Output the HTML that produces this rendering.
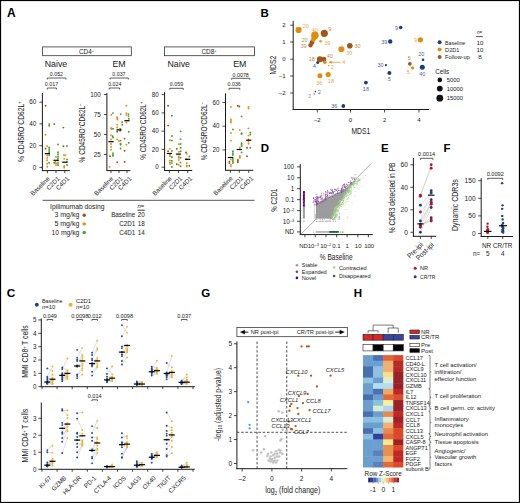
<!DOCTYPE html>
<html><head><meta charset="utf-8"><style>
html,body{margin:0;padding:0;background:#fff;}
svg{display:block;}
text{font-family:"Liberation Sans",sans-serif;}
</style></head><body>
<svg width="520" height="503" viewBox="0 0 520 503" font-family="Liberation Sans, sans-serif" fill="#1a1a1a">
<rect x="0" y="0" width="520" height="503" fill="#fff"/>
<text x="7.10" y="17.00" font-size="12" fill="#000" font-weight="bold">A</text>
<rect x="42.60" y="46.90" width="88.70" height="8.80" fill="none" stroke="#333" stroke-width="0.8"/>
<text x="86.50" y="54.00" font-size="6.4" text-anchor="middle">CD4<tspan dy="-2.4" font-size="4">+</tspan></text>
<rect x="164.40" y="46.90" width="90.20" height="8.80" fill="none" stroke="#333" stroke-width="0.8"/>
<text x="209.00" y="54.00" font-size="6.4" text-anchor="middle">CD8<tspan dy="-2.4" font-size="4">+</tspan></text>
<text x="56.00" y="66.80" font-size="8.8" text-anchor="middle">Naive</text>
<text x="119.00" y="66.80" font-size="8.8" text-anchor="middle">EM</text>
<text x="178.70" y="66.80" font-size="8.8" text-anchor="middle">Naive</text>
<text x="239.80" y="66.80" font-size="8.8" text-anchor="middle">EM</text>
<line x1="42.40" y1="93.00" x2="42.40" y2="170.60" stroke="#1a1a1a" stroke-width="1.0"/>
<line x1="39.40" y1="167.40" x2="42.40" y2="167.40" stroke="#1a1a1a" stroke-width="0.8"/>
<text x="36.20" y="169.67" font-size="6.3" text-anchor="end">0</text>
<line x1="39.40" y1="145.70" x2="42.40" y2="145.70" stroke="#1a1a1a" stroke-width="0.8"/>
<text x="36.20" y="147.97" font-size="6.3" text-anchor="end">20</text>
<line x1="39.40" y1="123.90" x2="42.40" y2="123.90" stroke="#1a1a1a" stroke-width="0.8"/>
<text x="36.20" y="126.17" font-size="6.3" text-anchor="end">40</text>
<line x1="39.40" y1="102.20" x2="42.40" y2="102.20" stroke="#1a1a1a" stroke-width="0.8"/>
<text x="36.20" y="104.47" font-size="6.3" text-anchor="end">60</text>
<line x1="41.90" y1="170.60" x2="69.80" y2="170.60" stroke="#1a1a1a" stroke-width="1.0"/>
<line x1="47.40" y1="170.60" x2="47.40" y2="173.10" stroke="#1a1a1a" stroke-width="0.8"/>
<line x1="56.00" y1="170.60" x2="56.00" y2="173.10" stroke="#1a1a1a" stroke-width="0.8"/>
<line x1="64.80" y1="170.60" x2="64.80" y2="173.10" stroke="#1a1a1a" stroke-width="0.8"/>
<text x="0" y="0" font-size="6.3" text-anchor="end" transform="translate(50.20 179.00) rotate(-45)">Baseline</text>
<text x="0" y="0" font-size="6.3" text-anchor="end" transform="translate(60.30 179.00) rotate(-45)">C2D1</text>
<text x="0" y="0" font-size="6.3" text-anchor="end" transform="translate(69.80 179.00) rotate(-45)">C4D1</text>
<path d="M47.30 79.50 V78.00 H66.00 V79.50" stroke="#1a1a1a" stroke-width="0.7" fill="none"/>
<text x="56.40" y="76.20" font-size="5.3" text-anchor="middle">0.052</text>
<path d="M47.30 89.50 V88.00 H56.40 V89.50" stroke="#1a1a1a" stroke-width="0.7" fill="none"/>
<text x="51.50" y="86.10" font-size="5.3" text-anchor="middle">0.017</text>
<text x="0" y="0" font-size="8.8" text-anchor="middle" textLength="60.40" lengthAdjust="spacingAndGlyphs" transform="translate(23.90 131.70) rotate(-90)">% CD45RO<tspan dy="-2.6" font-size="5">&#8211;</tspan><tspan dy="2.6">CD62L</tspan><tspan dy="-2.6" font-size="5">+</tspan></text>
<circle cx="45.60" cy="105.80" r="0.95" fill="#a5500f"/>
<circle cx="49.20" cy="124.10" r="0.95" fill="#3fa02e"/>
<circle cx="49.20" cy="125.70" r="0.95" fill="#3fa02e"/>
<circle cx="45.60" cy="134.80" r="0.95" fill="#ea8a10"/>
<circle cx="47.20" cy="146.30" r="0.95" fill="#ea8a10"/>
<circle cx="45.60" cy="148.70" r="0.95" fill="#a5500f"/>
<circle cx="49.20" cy="147.50" r="0.95" fill="#3fa02e"/>
<circle cx="49.20" cy="149.30" r="0.95" fill="#3fa02e"/>
<circle cx="49.20" cy="151.00" r="0.95" fill="#3fa02e"/>
<circle cx="49.20" cy="152.60" r="0.95" fill="#3fa02e"/>
<circle cx="49.20" cy="155.20" r="0.95" fill="#3fa02e"/>
<circle cx="49.20" cy="162.70" r="0.95" fill="#3fa02e"/>
<circle cx="47.20" cy="155.50" r="0.95" fill="#ea8a10"/>
<circle cx="47.20" cy="157.90" r="0.95" fill="#ea8a10"/>
<circle cx="47.20" cy="160.30" r="0.95" fill="#ea8a10"/>
<circle cx="47.20" cy="163.80" r="0.95" fill="#ea8a10"/>
<circle cx="47.20" cy="166.70" r="0.95" fill="#ea8a10"/>
<line x1="44.80" y1="153.60" x2="50.00" y2="153.60" stroke="#000" stroke-width="1.2"/>
<circle cx="54.30" cy="124.10" r="0.95" fill="#a5500f"/>
<circle cx="58.00" cy="144.40" r="0.95" fill="#3fa02e"/>
<circle cx="58.00" cy="152.30" r="0.95" fill="#3fa02e"/>
<circle cx="58.00" cy="154.30" r="0.95" fill="#3fa02e"/>
<circle cx="58.00" cy="156.50" r="0.95" fill="#3fa02e"/>
<circle cx="58.00" cy="158.50" r="0.95" fill="#3fa02e"/>
<circle cx="58.00" cy="160.50" r="0.95" fill="#3fa02e"/>
<circle cx="58.00" cy="163.00" r="0.95" fill="#3fa02e"/>
<circle cx="58.00" cy="165.00" r="0.95" fill="#3fa02e"/>
<circle cx="56.00" cy="157.00" r="0.95" fill="#ea8a10"/>
<circle cx="55.50" cy="161.90" r="0.95" fill="#ea8a10"/>
<circle cx="56.00" cy="163.50" r="0.95" fill="#ea8a10"/>
<circle cx="56.00" cy="165.20" r="0.95" fill="#ea8a10"/>
<circle cx="54.30" cy="162.70" r="0.95" fill="#a5500f"/>
<line x1="53.40" y1="160.30" x2="58.60" y2="160.30" stroke="#000" stroke-width="1.2"/>
<circle cx="63.40" cy="127.60" r="0.95" fill="#a5500f"/>
<circle cx="63.40" cy="146.30" r="0.95" fill="#a5500f"/>
<circle cx="67.00" cy="146.00" r="0.95" fill="#3fa02e"/>
<circle cx="63.80" cy="155.20" r="0.95" fill="#ea8a10"/>
<circle cx="65.30" cy="155.30" r="0.95" fill="#ea8a10"/>
<circle cx="67.00" cy="159.50" r="0.95" fill="#3fa02e"/>
<circle cx="67.00" cy="161.90" r="0.95" fill="#3fa02e"/>
<circle cx="64.20" cy="158.70" r="0.95" fill="#ea8a10"/>
<circle cx="64.20" cy="165.90" r="0.95" fill="#ea8a10"/>
<circle cx="64.20" cy="167.50" r="0.95" fill="#ea8a10"/>
<circle cx="67.00" cy="165.00" r="0.95" fill="#3fa02e"/>
<line x1="62.20" y1="162.20" x2="67.40" y2="162.20" stroke="#000" stroke-width="1.2"/>
<line x1="106.90" y1="93.00" x2="106.90" y2="170.60" stroke="#1a1a1a" stroke-width="1.0"/>
<line x1="103.90" y1="154.50" x2="106.90" y2="154.50" stroke="#1a1a1a" stroke-width="0.8"/>
<text x="100.80" y="156.77" font-size="6.3" text-anchor="end">25</text>
<line x1="103.90" y1="134.50" x2="106.90" y2="134.50" stroke="#1a1a1a" stroke-width="0.8"/>
<text x="100.80" y="136.77" font-size="6.3" text-anchor="end">50</text>
<line x1="103.90" y1="114.50" x2="106.90" y2="114.50" stroke="#1a1a1a" stroke-width="0.8"/>
<text x="100.80" y="116.77" font-size="6.3" text-anchor="end">75</text>
<line x1="103.90" y1="94.50" x2="106.90" y2="94.50" stroke="#1a1a1a" stroke-width="0.8"/>
<text x="100.80" y="96.77" font-size="6.3" text-anchor="end">100</text>
<line x1="106.40" y1="170.60" x2="130.40" y2="170.60" stroke="#1a1a1a" stroke-width="1.0"/>
<line x1="111.00" y1="170.60" x2="111.00" y2="173.10" stroke="#1a1a1a" stroke-width="0.8"/>
<line x1="119.00" y1="170.60" x2="119.00" y2="173.10" stroke="#1a1a1a" stroke-width="0.8"/>
<line x1="127.00" y1="170.60" x2="127.00" y2="173.10" stroke="#1a1a1a" stroke-width="0.8"/>
<text x="0" y="0" font-size="6.3" text-anchor="end" transform="translate(113.80 179.00) rotate(-45)">Baseline</text>
<text x="0" y="0" font-size="6.3" text-anchor="end" transform="translate(123.30 179.00) rotate(-45)">C2D1</text>
<text x="0" y="0" font-size="6.3" text-anchor="end" transform="translate(132.00 179.00) rotate(-45)">C4D1</text>
<path d="M110.10 79.50 V78.00 H128.30 V79.50" stroke="#1a1a1a" stroke-width="0.7" fill="none"/>
<text x="118.90" y="76.20" font-size="5.3" text-anchor="middle">0.037</text>
<path d="M109.20 89.50 V88.00 H119.60 V89.50" stroke="#1a1a1a" stroke-width="0.7" fill="none"/>
<text x="114.80" y="86.10" font-size="5.3" text-anchor="middle">0.024</text>
<text x="0" y="0" font-size="8.8" text-anchor="middle" textLength="58.70" lengthAdjust="spacingAndGlyphs" transform="translate(84.90 133.10) rotate(-90)">% CD45RO<tspan dy="-2.6" font-size="5">+</tspan><tspan dy="2.6">CD62L</tspan><tspan dy="-2.6" font-size="5">&#8211;</tspan></text>
<circle cx="113.00" cy="113.10" r="0.95" fill="#3fa02e"/>
<circle cx="111.30" cy="114.90" r="0.95" fill="#ea8a10"/>
<circle cx="111.00" cy="127.90" r="0.95" fill="#ea8a10"/>
<circle cx="111.30" cy="129.00" r="0.95" fill="#ea8a10"/>
<circle cx="113.00" cy="128.70" r="0.95" fill="#3fa02e"/>
<circle cx="111.00" cy="135.10" r="0.95" fill="#ea8a10"/>
<circle cx="112.60" cy="136.30" r="0.95" fill="#3fa02e"/>
<circle cx="113.00" cy="137.50" r="0.95" fill="#3fa02e"/>
<circle cx="111.30" cy="139.40" r="0.95" fill="#ea8a10"/>
<circle cx="111.00" cy="144.00" r="0.95" fill="#ea8a10"/>
<circle cx="111.00" cy="147.00" r="0.95" fill="#ea8a10"/>
<circle cx="111.00" cy="149.80" r="0.95" fill="#ea8a10"/>
<circle cx="113.00" cy="153.10" r="0.95" fill="#3fa02e"/>
<circle cx="113.00" cy="154.70" r="0.95" fill="#3fa02e"/>
<circle cx="113.00" cy="155.90" r="0.95" fill="#3fa02e"/>
<circle cx="109.90" cy="156.20" r="0.95" fill="#a5500f"/>
<circle cx="109.60" cy="166.90" r="0.95" fill="#ea8a10"/>
<line x1="108.40" y1="141.70" x2="113.60" y2="141.70" stroke="#000" stroke-width="1.2"/>
<circle cx="120.60" cy="114.10" r="0.95" fill="#3fa02e"/>
<circle cx="117.20" cy="117.20" r="0.95" fill="#ea8a10"/>
<circle cx="117.40" cy="118.30" r="0.95" fill="#ea8a10"/>
<circle cx="117.40" cy="119.50" r="0.95" fill="#ea8a10"/>
<circle cx="122.20" cy="122.20" r="0.95" fill="#3fa02e"/>
<circle cx="117.20" cy="124.80" r="0.95" fill="#ea8a10"/>
<circle cx="122.20" cy="124.80" r="0.95" fill="#3fa02e"/>
<circle cx="117.20" cy="127.50" r="0.95" fill="#ea8a10"/>
<circle cx="120.20" cy="128.70" r="0.95" fill="#3fa02e"/>
<circle cx="120.20" cy="130.70" r="0.95" fill="#3fa02e"/>
<circle cx="117.20" cy="131.70" r="0.95" fill="#a5500f"/>
<circle cx="117.20" cy="139.40" r="0.95" fill="#ea8a10"/>
<circle cx="120.60" cy="140.60" r="0.95" fill="#3fa02e"/>
<circle cx="119.00" cy="141.00" r="0.95" fill="#ea8a10"/>
<circle cx="120.60" cy="143.70" r="0.95" fill="#3fa02e"/>
<circle cx="120.60" cy="144.70" r="0.95" fill="#3fa02e"/>
<circle cx="120.60" cy="148.50" r="0.95" fill="#3fa02e"/>
<circle cx="117.20" cy="162.30" r="0.95" fill="#a5500f"/>
<line x1="116.40" y1="129.90" x2="121.60" y2="129.90" stroke="#000" stroke-width="1.2"/>
<circle cx="126.40" cy="105.70" r="0.95" fill="#ea8a10"/>
<circle cx="126.40" cy="113.10" r="0.95" fill="#ea8a10"/>
<circle cx="126.40" cy="114.90" r="0.95" fill="#ea8a10"/>
<circle cx="128.50" cy="114.10" r="0.95" fill="#3fa02e"/>
<circle cx="128.50" cy="116.10" r="0.95" fill="#3fa02e"/>
<circle cx="128.80" cy="118.70" r="0.95" fill="#3fa02e"/>
<circle cx="126.40" cy="122.50" r="0.95" fill="#ea8a10"/>
<circle cx="128.80" cy="131.70" r="0.95" fill="#3fa02e"/>
<circle cx="124.60" cy="138.60" r="0.95" fill="#a5500f"/>
<circle cx="126.40" cy="144.70" r="0.95" fill="#ea8a10"/>
<circle cx="128.80" cy="142.70" r="0.95" fill="#3fa02e"/>
<circle cx="124.60" cy="150.80" r="0.95" fill="#a5500f"/>
<circle cx="124.60" cy="161.90" r="0.95" fill="#a5500f"/>
<line x1="124.40" y1="120.70" x2="129.60" y2="120.70" stroke="#000" stroke-width="1.2"/>
<line x1="164.60" y1="92.00" x2="164.60" y2="170.50" stroke="#1a1a1a" stroke-width="1.0"/>
<line x1="161.60" y1="167.20" x2="164.60" y2="167.20" stroke="#1a1a1a" stroke-width="0.8"/>
<text x="158.80" y="169.47" font-size="6.3" text-anchor="end">0</text>
<line x1="161.60" y1="149.40" x2="164.60" y2="149.40" stroke="#1a1a1a" stroke-width="0.8"/>
<text x="158.80" y="151.67" font-size="6.3" text-anchor="end">20</text>
<line x1="161.60" y1="131.10" x2="164.60" y2="131.10" stroke="#1a1a1a" stroke-width="0.8"/>
<text x="158.80" y="133.37" font-size="6.3" text-anchor="end">40</text>
<line x1="161.60" y1="112.90" x2="164.60" y2="112.90" stroke="#1a1a1a" stroke-width="0.8"/>
<text x="158.80" y="115.17" font-size="6.3" text-anchor="end">60</text>
<line x1="161.60" y1="94.60" x2="164.60" y2="94.60" stroke="#1a1a1a" stroke-width="0.8"/>
<text x="158.80" y="96.87" font-size="6.3" text-anchor="end">80</text>
<line x1="164.10" y1="170.50" x2="192.20" y2="170.50" stroke="#1a1a1a" stroke-width="1.0"/>
<line x1="169.40" y1="170.50" x2="169.40" y2="173.00" stroke="#1a1a1a" stroke-width="0.8"/>
<line x1="178.50" y1="170.50" x2="178.50" y2="173.00" stroke="#1a1a1a" stroke-width="0.8"/>
<line x1="187.70" y1="170.50" x2="187.70" y2="173.00" stroke="#1a1a1a" stroke-width="0.8"/>
<text x="0" y="0" font-size="6.3" text-anchor="end" transform="translate(172.20 178.90) rotate(-45)">Baseline</text>
<text x="0" y="0" font-size="6.3" text-anchor="end" transform="translate(182.80 178.90) rotate(-45)">C2D1</text>
<text x="0" y="0" font-size="6.3" text-anchor="end" transform="translate(192.70 178.90) rotate(-45)">C4D1</text>
<path d="M169.80 89.80 V88.30 H183.30 V89.80" stroke="#1a1a1a" stroke-width="0.7" fill="none"/>
<text x="176.50" y="86.40" font-size="5.3" text-anchor="middle">0.059</text>
<text x="0" y="0" font-size="8.8" text-anchor="middle" textLength="57.90" lengthAdjust="spacingAndGlyphs" transform="translate(145.90 130.90) rotate(-90)">% CD45RO<tspan dy="-2.6" font-size="5">&#8211;</tspan><tspan dy="2.6">CD62L</tspan><tspan dy="-2.6" font-size="5">+</tspan></text>
<circle cx="168.10" cy="105.70" r="0.95" fill="#a5500f"/>
<circle cx="171.90" cy="115.70" r="0.95" fill="#3fa02e"/>
<circle cx="168.10" cy="125.60" r="0.95" fill="#a5500f"/>
<circle cx="171.90" cy="136.00" r="0.95" fill="#3fa02e"/>
<circle cx="169.90" cy="140.20" r="0.95" fill="#ea8a10"/>
<circle cx="171.90" cy="140.60" r="0.95" fill="#3fa02e"/>
<circle cx="169.90" cy="148.90" r="0.95" fill="#ea8a10"/>
<circle cx="168.10" cy="151.30" r="0.95" fill="#a5500f"/>
<circle cx="171.90" cy="150.90" r="0.95" fill="#3fa02e"/>
<circle cx="169.90" cy="154.70" r="0.95" fill="#ea8a10"/>
<circle cx="169.90" cy="156.20" r="0.95" fill="#ea8a10"/>
<circle cx="171.90" cy="157.00" r="0.95" fill="#3fa02e"/>
<circle cx="169.90" cy="160.80" r="0.95" fill="#ea8a10"/>
<circle cx="169.90" cy="162.40" r="0.95" fill="#ea8a10"/>
<circle cx="169.90" cy="163.90" r="0.95" fill="#ea8a10"/>
<circle cx="171.90" cy="160.80" r="0.95" fill="#3fa02e"/>
<circle cx="171.90" cy="163.10" r="0.95" fill="#3fa02e"/>
<circle cx="171.90" cy="166.90" r="0.95" fill="#3fa02e"/>
<line x1="166.80" y1="153.50" x2="172.00" y2="153.50" stroke="#000" stroke-width="1.2"/>
<circle cx="180.60" cy="131.40" r="0.95" fill="#3fa02e"/>
<circle cx="180.60" cy="139.10" r="0.95" fill="#3fa02e"/>
<circle cx="178.80" cy="144.30" r="0.95" fill="#ea8a10"/>
<circle cx="180.60" cy="144.00" r="0.95" fill="#3fa02e"/>
<circle cx="180.60" cy="147.80" r="0.95" fill="#3fa02e"/>
<circle cx="176.80" cy="148.90" r="0.95" fill="#a5500f"/>
<circle cx="180.60" cy="151.30" r="0.95" fill="#3fa02e"/>
<circle cx="178.80" cy="151.90" r="0.95" fill="#ea8a10"/>
<circle cx="178.80" cy="156.20" r="0.95" fill="#ea8a10"/>
<circle cx="178.80" cy="157.80" r="0.95" fill="#ea8a10"/>
<circle cx="178.80" cy="160.00" r="0.95" fill="#ea8a10"/>
<circle cx="180.60" cy="157.80" r="0.95" fill="#3fa02e"/>
<circle cx="180.60" cy="162.40" r="0.95" fill="#3fa02e"/>
<circle cx="180.60" cy="166.20" r="0.95" fill="#3fa02e"/>
<circle cx="176.80" cy="164.20" r="0.95" fill="#a5500f"/>
<circle cx="178.80" cy="164.80" r="0.95" fill="#ea8a10"/>
<line x1="175.90" y1="154.10" x2="181.10" y2="154.10" stroke="#000" stroke-width="1.2"/>
<circle cx="186.00" cy="152.40" r="0.95" fill="#a5500f"/>
<circle cx="186.80" cy="153.90" r="0.95" fill="#ea8a10"/>
<circle cx="189.30" cy="156.50" r="0.95" fill="#3fa02e"/>
<circle cx="186.00" cy="159.30" r="0.95" fill="#a5500f"/>
<circle cx="186.80" cy="163.10" r="0.95" fill="#ea8a10"/>
<circle cx="186.80" cy="165.40" r="0.95" fill="#ea8a10"/>
<circle cx="186.80" cy="166.60" r="0.95" fill="#ea8a10"/>
<circle cx="189.30" cy="165.70" r="0.95" fill="#3fa02e"/>
<line x1="185.10" y1="159.30" x2="190.30" y2="159.30" stroke="#000" stroke-width="1.2"/>
<line x1="225.50" y1="93.30" x2="225.50" y2="170.30" stroke="#1a1a1a" stroke-width="1.0"/>
<line x1="222.50" y1="149.90" x2="225.50" y2="149.90" stroke="#1a1a1a" stroke-width="0.8"/>
<text x="219.60" y="152.17" font-size="6.3" text-anchor="end">20</text>
<line x1="222.50" y1="126.20" x2="225.50" y2="126.20" stroke="#1a1a1a" stroke-width="0.8"/>
<text x="219.60" y="128.47" font-size="6.3" text-anchor="end">40</text>
<line x1="222.50" y1="102.50" x2="225.50" y2="102.50" stroke="#1a1a1a" stroke-width="0.8"/>
<text x="219.60" y="104.77" font-size="6.3" text-anchor="end">60</text>
<line x1="225.00" y1="170.30" x2="253.30" y2="170.30" stroke="#1a1a1a" stroke-width="1.0"/>
<line x1="230.40" y1="170.30" x2="230.40" y2="172.80" stroke="#1a1a1a" stroke-width="0.8"/>
<line x1="239.30" y1="170.30" x2="239.30" y2="172.80" stroke="#1a1a1a" stroke-width="0.8"/>
<line x1="248.70" y1="170.30" x2="248.70" y2="172.80" stroke="#1a1a1a" stroke-width="0.8"/>
<text x="0" y="0" font-size="6.3" text-anchor="end" transform="translate(233.20 178.70) rotate(-45)">Baseline</text>
<text x="0" y="0" font-size="6.3" text-anchor="end" transform="translate(243.60 178.70) rotate(-45)">C2D1</text>
<text x="0" y="0" font-size="6.3" text-anchor="end" transform="translate(253.70 178.70) rotate(-45)">C4D1</text>
<path d="M231.70 79.80 V78.30 H249.80 V79.80" stroke="#1a1a1a" stroke-width="0.7" fill="none"/>
<text x="240.70" y="76.50" font-size="5.3" text-anchor="middle">0.0078</text>
<path d="M229.00 89.80 V88.30 H239.80 V89.80" stroke="#1a1a1a" stroke-width="0.7" fill="none"/>
<text x="234.20" y="86.40" font-size="5.3" text-anchor="middle">0.036</text>
<text x="0" y="0" font-size="8.8" text-anchor="middle" textLength="58.10" lengthAdjust="spacingAndGlyphs" transform="translate(207.00 131.30) rotate(-90)">% CD45RO<tspan dy="-2.6" font-size="5">+</tspan><tspan dy="2.6">CD62L</tspan><tspan dy="-2.6" font-size="5">&#8211;</tspan></text>
<circle cx="230.90" cy="106.90" r="0.95" fill="#ea8a10"/>
<circle cx="230.90" cy="119.50" r="0.95" fill="#ea8a10"/>
<circle cx="230.90" cy="121.00" r="0.95" fill="#ea8a10"/>
<circle cx="230.90" cy="122.60" r="0.95" fill="#ea8a10"/>
<circle cx="232.90" cy="129.40" r="0.95" fill="#3fa02e"/>
<circle cx="230.90" cy="133.00" r="0.95" fill="#ea8a10"/>
<circle cx="230.90" cy="140.60" r="0.95" fill="#ea8a10"/>
<circle cx="232.90" cy="151.30" r="0.95" fill="#3fa02e"/>
<circle cx="232.90" cy="153.20" r="0.95" fill="#3fa02e"/>
<circle cx="232.90" cy="155.00" r="0.95" fill="#3fa02e"/>
<circle cx="229.40" cy="161.60" r="0.95" fill="#a5500f"/>
<circle cx="229.40" cy="163.10" r="0.95" fill="#a5500f"/>
<circle cx="230.90" cy="159.60" r="0.95" fill="#ea8a10"/>
<circle cx="230.90" cy="164.60" r="0.95" fill="#ea8a10"/>
<circle cx="230.90" cy="166.20" r="0.95" fill="#ea8a10"/>
<circle cx="232.90" cy="158.00" r="0.95" fill="#3fa02e"/>
<circle cx="232.90" cy="160.00" r="0.95" fill="#3fa02e"/>
<circle cx="232.90" cy="161.60" r="0.95" fill="#3fa02e"/>
<circle cx="232.90" cy="163.10" r="0.95" fill="#3fa02e"/>
<line x1="227.80" y1="157.50" x2="233.00" y2="157.50" stroke="#000" stroke-width="1.2"/>
<circle cx="237.80" cy="105.70" r="0.95" fill="#a5500f"/>
<circle cx="239.30" cy="106.50" r="0.95" fill="#a5500f"/>
<circle cx="241.60" cy="116.40" r="0.95" fill="#3fa02e"/>
<circle cx="239.80" cy="129.90" r="0.95" fill="#ea8a10"/>
<circle cx="241.60" cy="133.30" r="0.95" fill="#3fa02e"/>
<circle cx="241.60" cy="134.00" r="0.95" fill="#3fa02e"/>
<circle cx="241.60" cy="143.20" r="0.95" fill="#3fa02e"/>
<circle cx="241.60" cy="144.70" r="0.95" fill="#3fa02e"/>
<circle cx="241.60" cy="146.30" r="0.95" fill="#3fa02e"/>
<circle cx="239.80" cy="147.80" r="0.95" fill="#ea8a10"/>
<circle cx="241.60" cy="152.40" r="0.95" fill="#3fa02e"/>
<circle cx="239.80" cy="155.90" r="0.95" fill="#ea8a10"/>
<circle cx="239.80" cy="157.00" r="0.95" fill="#ea8a10"/>
<circle cx="239.80" cy="157.80" r="0.95" fill="#ea8a10"/>
<circle cx="237.80" cy="160.00" r="0.95" fill="#a5500f"/>
<circle cx="237.80" cy="161.10" r="0.95" fill="#a5500f"/>
<circle cx="237.80" cy="162.30" r="0.95" fill="#a5500f"/>
<line x1="236.70" y1="149.50" x2="241.90" y2="149.50" stroke="#000" stroke-width="1.2"/>
<circle cx="248.50" cy="106.90" r="0.95" fill="#ea8a10"/>
<circle cx="248.50" cy="108.50" r="0.95" fill="#ea8a10"/>
<circle cx="248.50" cy="128.40" r="0.95" fill="#ea8a10"/>
<circle cx="250.30" cy="132.50" r="0.95" fill="#3fa02e"/>
<circle cx="250.30" cy="134.50" r="0.95" fill="#3fa02e"/>
<circle cx="248.50" cy="135.60" r="0.95" fill="#ea8a10"/>
<circle cx="248.50" cy="139.40" r="0.95" fill="#ea8a10"/>
<circle cx="248.50" cy="141.70" r="0.95" fill="#ea8a10"/>
<circle cx="248.50" cy="143.70" r="0.95" fill="#ea8a10"/>
<circle cx="247.00" cy="147.80" r="0.95" fill="#a5500f"/>
<circle cx="250.30" cy="147.80" r="0.95" fill="#3fa02e"/>
<circle cx="247.00" cy="156.20" r="0.95" fill="#a5500f"/>
<line x1="246.10" y1="140.20" x2="251.30" y2="140.20" stroke="#000" stroke-width="1.2"/>
<line x1="42.50" y1="200.30" x2="254.60" y2="200.30" stroke="#555" stroke-width="1.0"/>
<text x="50.00" y="209.30" font-size="6.8" textLength="54.50" lengthAdjust="spacingAndGlyphs">Ipilimumab dosing</text>
<text x="79.30" y="217.30" font-size="6.5" text-anchor="end" textLength="24.80" lengthAdjust="spacingAndGlyphs">3 mg/kg</text>
<circle cx="84.20" cy="215.20" r="1.70" fill="#a5500f"/>
<text x="79.30" y="226.00" font-size="6.5" text-anchor="end" textLength="24.80" lengthAdjust="spacingAndGlyphs">5 mg/kg</text>
<circle cx="84.20" cy="223.90" r="1.70" fill="#ea8a10"/>
<text x="79.30" y="234.60" font-size="6.5" text-anchor="end" textLength="27.80" lengthAdjust="spacingAndGlyphs">10 mg/kg</text>
<circle cx="84.20" cy="232.50" r="1.70" fill="#3fa02e"/>
<text x="140.90" y="208.20" font-size="6.0" text-anchor="middle"><tspan font-style="italic">n</tspan>=</text>
<line x1="137.50" y1="210.20" x2="144.80" y2="210.20" stroke="#222" stroke-width="0.9"/>
<text x="135.30" y="217.30" font-size="6.3" text-anchor="end">Baseline</text>
<text x="144.80" y="217.30" font-size="6.3" text-anchor="end">20</text>
<text x="135.30" y="226.00" font-size="6.3" text-anchor="end">C2D1</text>
<text x="144.80" y="226.00" font-size="6.3" text-anchor="end">18</text>
<text x="135.30" y="234.60" font-size="6.3" text-anchor="end">C4D1</text>
<text x="144.80" y="234.60" font-size="6.3" text-anchor="end">14</text>
<text x="260.50" y="16.90" font-size="11.5" fill="#000" font-weight="bold">B</text>
<line x1="293.20" y1="20.80" x2="293.20" y2="110.00" stroke="#1a1a1a" stroke-width="1.0"/>
<line x1="292.70" y1="109.50" x2="429.00" y2="109.50" stroke="#1a1a1a" stroke-width="1.0"/>
<line x1="290.20" y1="25.20" x2="293.20" y2="25.20" stroke="#1a1a1a" stroke-width="0.8"/>
<text x="285.50" y="27.30" font-size="6.0" text-anchor="end">2</text>
<line x1="290.20" y1="42.00" x2="293.20" y2="42.00" stroke="#1a1a1a" stroke-width="0.8"/>
<text x="285.50" y="44.10" font-size="6.0" text-anchor="end">1</text>
<line x1="290.20" y1="59.20" x2="293.20" y2="59.20" stroke="#1a1a1a" stroke-width="0.8"/>
<text x="285.50" y="61.30" font-size="6.0" text-anchor="end">0</text>
<line x1="290.20" y1="76.00" x2="293.20" y2="76.00" stroke="#1a1a1a" stroke-width="0.8"/>
<text x="285.50" y="78.10" font-size="6.0" text-anchor="end">&#8211;1</text>
<line x1="290.20" y1="93.00" x2="293.20" y2="93.00" stroke="#1a1a1a" stroke-width="0.8"/>
<text x="285.50" y="95.10" font-size="6.0" text-anchor="end">&#8211;2</text>
<line x1="317.30" y1="109.50" x2="317.30" y2="112.50" stroke="#1a1a1a" stroke-width="0.8"/>
<text x="317.30" y="121.50" font-size="6.0" text-anchor="middle">&#8211;2</text>
<line x1="350.50" y1="109.50" x2="350.50" y2="112.50" stroke="#1a1a1a" stroke-width="0.8"/>
<text x="350.50" y="121.50" font-size="6.0" text-anchor="middle">0</text>
<line x1="384.60" y1="109.50" x2="384.60" y2="112.50" stroke="#1a1a1a" stroke-width="0.8"/>
<text x="384.60" y="121.50" font-size="6.0" text-anchor="middle">2</text>
<line x1="419.00" y1="109.50" x2="419.00" y2="112.50" stroke="#1a1a1a" stroke-width="0.8"/>
<text x="419.00" y="121.50" font-size="6.0" text-anchor="middle">4</text>
<text x="360.80" y="134.20" font-size="8.6" text-anchor="middle" textLength="18.70" lengthAdjust="spacingAndGlyphs">MDS1</text>
<text x="0" y="0" font-size="8.4" text-anchor="middle" textLength="18.80" lengthAdjust="spacingAndGlyphs" transform="translate(275.60 65.20) rotate(-90)">MDS2</text>
<circle cx="298.60" cy="29.90" r="3.10" fill="#e08c10"/>
<circle cx="314.90" cy="35.40" r="3.80" fill="#e08c10"/>
<circle cx="324.30" cy="33.30" r="3.60" fill="#a0561a"/>
<circle cx="312.00" cy="42.50" r="2.40" fill="#a0561a"/>
<circle cx="310.50" cy="45.30" r="2.20" fill="#a0561a"/>
<circle cx="313.40" cy="39.60" r="2.40" fill="#e08c10"/>
<circle cx="341.40" cy="49.30" r="3.00" fill="#e08c10"/>
<circle cx="349.80" cy="45.70" r="2.80" fill="#a0561a"/>
<circle cx="317.70" cy="62.50" r="1.50" fill="#1e3c7a"/>
<circle cx="319.90" cy="59.30" r="3.00" fill="#a0561a"/>
<circle cx="323.80" cy="59.30" r="2.50" fill="#a0561a"/>
<circle cx="324.80" cy="62.20" r="1.80" fill="#e08c10"/>
<circle cx="328.80" cy="65.70" r="0.70" fill="#e08c10"/>
<circle cx="319.90" cy="75.80" r="2.50" fill="#e08c10"/>
<circle cx="328.20" cy="74.50" r="2.60" fill="#e08c10"/>
<circle cx="315.50" cy="91.60" r="0.80" fill="#1e3c7a"/>
<circle cx="314.20" cy="94.00" r="0.70" fill="#a0561a"/>
<circle cx="365.90" cy="82.60" r="1.90" fill="#1e3c7a"/>
<circle cx="343.30" cy="106.00" r="1.90" fill="#1e3c7a"/>
<circle cx="400.70" cy="27.50" r="1.80" fill="#1e3c7a"/>
<circle cx="390.20" cy="41.50" r="2.20" fill="#1e3c7a"/>
<circle cx="420.40" cy="39.80" r="2.60" fill="#e08c10"/>
<circle cx="423.00" cy="59.80" r="1.30" fill="#1e3c7a"/>
<circle cx="422.30" cy="67.30" r="2.50" fill="#1e3c7a"/>
<circle cx="409.90" cy="63.80" r="1.90" fill="#a0561a"/>
<circle cx="412.60" cy="67.90" r="1.60" fill="#e08c10"/>
<circle cx="385.90" cy="65.20" r="1.10" fill="#1e3c7a"/>
<circle cx="389.40" cy="73.00" r="2.00" fill="#1e3c7a"/>
<text x="305.80" y="27.50" font-size="5.5" text-anchor="middle" fill="#e8a850">20</text>
<text x="314.70" y="31.60" font-size="5.5" text-anchor="middle" fill="#e8a850">40</text>
<text x="329.80" y="30.50" font-size="5.5" text-anchor="middle" fill="#b88a60">9</text>
<text x="304.60" y="42.20" font-size="5.5" text-anchor="middle" fill="#b88a60">20</text>
<text x="303.60" y="47.90" font-size="5.5" text-anchor="middle" fill="#b88a60">39</text>
<text x="327.30" y="44.90" font-size="5.5" text-anchor="middle" fill="#e8a850">39</text>
<text x="349.20" y="55.30" font-size="5.5" text-anchor="middle" fill="#e8a850">30</text>
<text x="357.50" y="47.70" font-size="5.5" text-anchor="middle" fill="#b88a60">30</text>
<text x="311.80" y="60.60" font-size="5.5" text-anchor="middle" fill="#b88a60">18</text>
<text x="329.80" y="58.00" font-size="5.5" text-anchor="middle" fill="#b88a60">40</text>
<text x="314.40" y="67.70" font-size="5.5" text-anchor="middle" fill="#4a64a0">4</text>
<text x="343.80" y="64.40" font-size="5.5" text-anchor="middle" fill="#e8a850">4</text>
<text x="332.30" y="68.60" font-size="5.5" text-anchor="middle" fill="#e8a850">2</text>
<text x="319.30" y="84.80" font-size="5.5" text-anchor="middle" fill="#e8a850">36</text>
<text x="330.90" y="83.20" font-size="5.5" text-anchor="middle" fill="#e8a850">18</text>
<text x="319.20" y="93.80" font-size="5.5" text-anchor="middle" fill="#4a64a0">2</text>
<text x="309.80" y="98.20" font-size="5.5" text-anchor="middle" fill="#b88a60">2</text>
<text x="365.90" y="91.00" font-size="5.5" text-anchor="middle" fill="#4a64a0">18</text>
<text x="334.20" y="107.50" font-size="5.5" text-anchor="middle" fill="#4a64a0">36</text>
<text x="396.60" y="29.50" font-size="5.5" text-anchor="middle" fill="#4a64a0">9</text>
<text x="384.20" y="43.50" font-size="5.5" text-anchor="middle" fill="#4a64a0">39</text>
<text x="415.60" y="41.80" font-size="5.5" text-anchor="middle" fill="#e8a850">9</text>
<text x="421.20" y="56.00" font-size="5.5" text-anchor="middle" fill="#4a64a0">20</text>
<text x="422.30" y="76.00" font-size="5.5" text-anchor="middle" fill="#4a64a0">40</text>
<text x="409.20" y="59.50" font-size="5.5" text-anchor="middle" fill="#b88a60">5</text>
<text x="408.30" y="73.60" font-size="5.5" text-anchor="middle" fill="#e8a850">5</text>
<text x="380.50" y="67.20" font-size="5.5" text-anchor="middle" fill="#4a64a0">30</text>
<text x="389.40" y="81.20" font-size="5.5" text-anchor="middle" fill="#4a64a0">5</text>
<line x1="319.40" y1="41.20" x2="322.50" y2="41.20" stroke="#e08c10" stroke-width="0.7"/>
<path d="M318.6 41.2 L321.2 39.9 L321.2 42.5 Z" stroke="#e08c10" stroke-width="0.2" fill="#e08c10"/>
<line x1="329.50" y1="62.30" x2="340.50" y2="62.30" stroke="#e08c10" stroke-width="0.7"/>
<path d="M329.0 62.3 L331.6 61.0 L331.6 63.6 Z" stroke="#e08c10" stroke-width="0.2" fill="#e08c10"/>
<circle cx="439.60" cy="42.30" r="2.00" fill="#1e3c7a"/>
<text x="445.10" y="44.50" font-size="6.2" textLength="20.20" lengthAdjust="spacingAndGlyphs">Baseline</text>
<text x="480.00" y="44.50" font-size="6.2" text-anchor="middle">10</text>
<circle cx="439.60" cy="49.50" r="2.00" fill="#e08c10"/>
<text x="445.10" y="51.70" font-size="6.2" textLength="14.30" lengthAdjust="spacingAndGlyphs">D2D1</text>
<text x="480.00" y="51.70" font-size="6.2" text-anchor="middle">10</text>
<circle cx="439.60" cy="57.00" r="2.00" fill="#a0561a"/>
<text x="445.10" y="59.20" font-size="6.2" textLength="24.70" lengthAdjust="spacingAndGlyphs">Follow-up</text>
<text x="480.00" y="59.20" font-size="6.2" text-anchor="middle">8</text>
<text x="479.50" y="34.40" font-size="4.6" text-anchor="middle"><tspan font-style="italic">n</tspan>=</text>
<line x1="476.20" y1="36.60" x2="482.80" y2="36.60" stroke="#222" stroke-width="0.8"/>
<text x="435.20" y="73.60" font-size="6.3">Cells</text>
<circle cx="439.80" cy="79.90" r="2.30" fill="#111"/>
<text x="446.70" y="82.00" font-size="5.9">5000</text>
<circle cx="439.80" cy="88.60" r="2.90" fill="#111"/>
<text x="446.70" y="90.70" font-size="5.9">10000</text>
<circle cx="439.80" cy="98.20" r="3.40" fill="#111"/>
<text x="446.70" y="100.30" font-size="5.9">15000</text>
<text x="6.80" y="297.40" font-size="11.8" fill="#000" font-weight="bold">C</text>
<circle cx="36.80" cy="304.70" r="2.00" fill="#21468c"/>
<circle cx="70.60" cy="304.70" r="2.00" fill="#f3b21a"/>
<text x="42.00" y="302.90" font-size="5.9" textLength="20.60" lengthAdjust="spacingAndGlyphs">Baseline</text>
<text x="42.00" y="309.40" font-size="5.9"><tspan font-style="italic">n</tspan>=10</text>
<text x="76.00" y="302.90" font-size="5.9">C2D1</text>
<text x="76.00" y="309.40" font-size="5.9"><tspan font-style="italic">n</tspan>=10</text>
<line x1="41.30" y1="318.50" x2="41.30" y2="387.00" stroke="#1a1a1a" stroke-width="1.0"/>
<line x1="40.80" y1="386.70" x2="194.80" y2="386.70" stroke="#1a1a1a" stroke-width="1.0"/>
<line x1="38.30" y1="386.70" x2="41.30" y2="386.70" stroke="#1a1a1a" stroke-width="0.8"/>
<text x="36.50" y="388.90" font-size="6.3" text-anchor="end">0</text>
<line x1="38.30" y1="373.35" x2="41.30" y2="373.35" stroke="#1a1a1a" stroke-width="0.8"/>
<text x="36.50" y="375.55" font-size="6.3" text-anchor="end">1</text>
<line x1="38.30" y1="360.00" x2="41.30" y2="360.00" stroke="#1a1a1a" stroke-width="0.8"/>
<text x="36.50" y="362.20" font-size="6.3" text-anchor="end">2</text>
<line x1="38.30" y1="346.65" x2="41.30" y2="346.65" stroke="#1a1a1a" stroke-width="0.8"/>
<text x="36.50" y="348.85" font-size="6.3" text-anchor="end">3</text>
<line x1="38.30" y1="333.30" x2="41.30" y2="333.30" stroke="#1a1a1a" stroke-width="0.8"/>
<text x="36.50" y="335.50" font-size="6.3" text-anchor="end">4</text>
<line x1="38.30" y1="319.95" x2="41.30" y2="319.95" stroke="#1a1a1a" stroke-width="0.8"/>
<text x="36.50" y="322.15" font-size="6.3" text-anchor="end">5</text>
<line x1="42.00" y1="386.70" x2="42.00" y2="389.20" stroke="#1a1a1a" stroke-width="0.8"/>
<line x1="57.10" y1="386.70" x2="57.10" y2="389.20" stroke="#1a1a1a" stroke-width="0.8"/>
<line x1="72.20" y1="386.70" x2="72.20" y2="389.20" stroke="#1a1a1a" stroke-width="0.8"/>
<line x1="87.30" y1="386.70" x2="87.30" y2="389.20" stroke="#1a1a1a" stroke-width="0.8"/>
<line x1="102.40" y1="386.70" x2="102.40" y2="389.20" stroke="#1a1a1a" stroke-width="0.8"/>
<line x1="117.50" y1="386.70" x2="117.50" y2="389.20" stroke="#1a1a1a" stroke-width="0.8"/>
<line x1="132.60" y1="386.70" x2="132.60" y2="389.20" stroke="#1a1a1a" stroke-width="0.8"/>
<line x1="147.70" y1="386.70" x2="147.70" y2="389.20" stroke="#1a1a1a" stroke-width="0.8"/>
<line x1="162.80" y1="386.70" x2="162.80" y2="389.20" stroke="#1a1a1a" stroke-width="0.8"/>
<line x1="177.90" y1="386.70" x2="177.90" y2="389.20" stroke="#1a1a1a" stroke-width="0.8"/>
<line x1="193.00" y1="386.70" x2="193.00" y2="389.20" stroke="#1a1a1a" stroke-width="0.8"/>
<line x1="47.30" y1="368.41" x2="52.50" y2="370.95" stroke="#b4b8cc" stroke-width="0.45"/>
<line x1="47.30" y1="376.69" x2="52.50" y2="366.41" stroke="#b4b8cc" stroke-width="0.45"/>
<line x1="47.30" y1="378.16" x2="52.50" y2="374.55" stroke="#b4b8cc" stroke-width="0.45"/>
<line x1="47.30" y1="379.62" x2="52.50" y2="377.49" stroke="#b4b8cc" stroke-width="0.45"/>
<line x1="47.30" y1="380.96" x2="52.50" y2="378.96" stroke="#b4b8cc" stroke-width="0.45"/>
<line x1="47.30" y1="381.76" x2="52.50" y2="380.02" stroke="#b4b8cc" stroke-width="0.45"/>
<line x1="47.30" y1="382.56" x2="52.50" y2="380.29" stroke="#b4b8cc" stroke-width="0.45"/>
<line x1="47.30" y1="382.69" x2="52.50" y2="381.76" stroke="#b4b8cc" stroke-width="0.45"/>
<line x1="47.30" y1="383.23" x2="52.50" y2="383.23" stroke="#b4b8cc" stroke-width="0.45"/>
<line x1="47.30" y1="383.90" x2="52.50" y2="384.16" stroke="#b4b8cc" stroke-width="0.45"/>
<circle cx="47.30" cy="368.41" r="0.95" fill="#21468c"/>
<circle cx="47.30" cy="376.69" r="0.95" fill="#21468c"/>
<circle cx="47.30" cy="378.16" r="0.95" fill="#21468c"/>
<circle cx="47.30" cy="379.62" r="0.95" fill="#21468c"/>
<circle cx="47.30" cy="380.96" r="0.95" fill="#21468c"/>
<circle cx="47.30" cy="381.76" r="0.95" fill="#21468c"/>
<circle cx="47.30" cy="382.56" r="0.95" fill="#21468c"/>
<circle cx="47.30" cy="383.23" r="0.95" fill="#21468c"/>
<circle cx="47.30" cy="383.90" r="0.95" fill="#21468c"/>
<circle cx="47.30" cy="382.69" r="0.95" fill="#21468c"/>
<circle cx="52.50" cy="366.41" r="0.95" fill="#f3b21a"/>
<circle cx="52.50" cy="370.95" r="0.95" fill="#f3b21a"/>
<circle cx="52.50" cy="374.55" r="0.95" fill="#f3b21a"/>
<circle cx="52.50" cy="377.49" r="0.95" fill="#f3b21a"/>
<circle cx="52.50" cy="378.96" r="0.95" fill="#f3b21a"/>
<circle cx="52.50" cy="380.29" r="0.95" fill="#f3b21a"/>
<circle cx="52.50" cy="381.76" r="0.95" fill="#f3b21a"/>
<circle cx="52.50" cy="383.23" r="0.95" fill="#f3b21a"/>
<circle cx="52.50" cy="384.16" r="0.95" fill="#f3b21a"/>
<circle cx="52.50" cy="380.02" r="0.95" fill="#f3b21a"/>
<line x1="44.30" y1="382.03" x2="50.30" y2="382.03" stroke="#000" stroke-width="1.2"/>
<line x1="49.50" y1="379.22" x2="55.50" y2="379.22" stroke="#000" stroke-width="1.2"/>
<line x1="62.22" y1="367.34" x2="67.42" y2="370.28" stroke="#b4b8cc" stroke-width="0.45"/>
<line x1="62.22" y1="368.94" x2="67.42" y2="358.53" stroke="#b4b8cc" stroke-width="0.45"/>
<line x1="62.22" y1="373.22" x2="67.42" y2="371.75" stroke="#b4b8cc" stroke-width="0.45"/>
<line x1="62.22" y1="374.55" x2="67.42" y2="373.35" stroke="#b4b8cc" stroke-width="0.45"/>
<line x1="62.22" y1="375.35" x2="67.42" y2="373.88" stroke="#b4b8cc" stroke-width="0.45"/>
<line x1="62.22" y1="376.02" x2="67.42" y2="374.69" stroke="#b4b8cc" stroke-width="0.45"/>
<line x1="62.22" y1="377.36" x2="67.42" y2="376.02" stroke="#b4b8cc" stroke-width="0.45"/>
<line x1="62.22" y1="378.16" x2="67.42" y2="376.69" stroke="#b4b8cc" stroke-width="0.45"/>
<line x1="62.22" y1="379.62" x2="67.42" y2="377.49" stroke="#b4b8cc" stroke-width="0.45"/>
<line x1="62.22" y1="380.96" x2="67.42" y2="378.96" stroke="#b4b8cc" stroke-width="0.45"/>
<circle cx="62.22" cy="367.34" r="0.95" fill="#21468c"/>
<circle cx="62.22" cy="368.94" r="0.95" fill="#21468c"/>
<circle cx="62.22" cy="373.22" r="0.95" fill="#21468c"/>
<circle cx="62.22" cy="374.55" r="0.95" fill="#21468c"/>
<circle cx="62.22" cy="376.02" r="0.95" fill="#21468c"/>
<circle cx="62.22" cy="378.16" r="0.95" fill="#21468c"/>
<circle cx="62.22" cy="379.62" r="0.95" fill="#21468c"/>
<circle cx="62.22" cy="380.96" r="0.95" fill="#21468c"/>
<circle cx="62.22" cy="375.35" r="0.95" fill="#21468c"/>
<circle cx="62.22" cy="377.36" r="0.95" fill="#21468c"/>
<circle cx="67.42" cy="358.53" r="0.95" fill="#f3b21a"/>
<circle cx="67.42" cy="370.28" r="0.95" fill="#f3b21a"/>
<circle cx="67.42" cy="371.75" r="0.95" fill="#f3b21a"/>
<circle cx="67.42" cy="373.88" r="0.95" fill="#f3b21a"/>
<circle cx="67.42" cy="376.02" r="0.95" fill="#f3b21a"/>
<circle cx="67.42" cy="377.49" r="0.95" fill="#f3b21a"/>
<circle cx="67.42" cy="378.96" r="0.95" fill="#f3b21a"/>
<circle cx="67.42" cy="373.35" r="0.95" fill="#f3b21a"/>
<circle cx="67.42" cy="374.69" r="0.95" fill="#f3b21a"/>
<circle cx="67.42" cy="376.69" r="0.95" fill="#f3b21a"/>
<line x1="59.22" y1="375.35" x2="65.22" y2="375.35" stroke="#000" stroke-width="1.2"/>
<line x1="64.42" y1="373.35" x2="70.42" y2="373.35" stroke="#000" stroke-width="1.2"/>
<line x1="77.14" y1="349.85" x2="82.34" y2="355.19" stroke="#b4b8cc" stroke-width="0.45"/>
<line x1="77.14" y1="357.86" x2="82.34" y2="347.85" stroke="#b4b8cc" stroke-width="0.45"/>
<line x1="77.14" y1="359.60" x2="82.34" y2="356.66" stroke="#b4b8cc" stroke-width="0.45"/>
<line x1="77.14" y1="360.93" x2="82.34" y2="358.80" stroke="#b4b8cc" stroke-width="0.45"/>
<line x1="77.14" y1="365.34" x2="82.34" y2="360.93" stroke="#b4b8cc" stroke-width="0.45"/>
<line x1="77.14" y1="366.01" x2="82.34" y2="363.74" stroke="#b4b8cc" stroke-width="0.45"/>
<line x1="77.14" y1="366.68" x2="82.34" y2="366.01" stroke="#b4b8cc" stroke-width="0.45"/>
<line x1="77.14" y1="374.55" x2="82.34" y2="368.14" stroke="#b4b8cc" stroke-width="0.45"/>
<line x1="77.14" y1="376.02" x2="82.34" y2="370.28" stroke="#b4b8cc" stroke-width="0.45"/>
<line x1="77.14" y1="378.16" x2="82.34" y2="374.55" stroke="#b4b8cc" stroke-width="0.45"/>
<circle cx="77.14" cy="349.85" r="0.95" fill="#21468c"/>
<circle cx="77.14" cy="357.86" r="0.95" fill="#21468c"/>
<circle cx="77.14" cy="359.60" r="0.95" fill="#21468c"/>
<circle cx="77.14" cy="360.93" r="0.95" fill="#21468c"/>
<circle cx="77.14" cy="365.34" r="0.95" fill="#21468c"/>
<circle cx="77.14" cy="366.68" r="0.95" fill="#21468c"/>
<circle cx="77.14" cy="374.55" r="0.95" fill="#21468c"/>
<circle cx="77.14" cy="376.02" r="0.95" fill="#21468c"/>
<circle cx="77.14" cy="378.16" r="0.95" fill="#21468c"/>
<circle cx="77.14" cy="366.01" r="0.95" fill="#21468c"/>
<circle cx="82.34" cy="347.85" r="0.95" fill="#f3b21a"/>
<circle cx="82.34" cy="355.19" r="0.95" fill="#f3b21a"/>
<circle cx="82.34" cy="356.66" r="0.95" fill="#f3b21a"/>
<circle cx="82.34" cy="358.80" r="0.95" fill="#f3b21a"/>
<circle cx="82.34" cy="363.74" r="0.95" fill="#f3b21a"/>
<circle cx="82.34" cy="366.01" r="0.95" fill="#f3b21a"/>
<circle cx="82.34" cy="368.14" r="0.95" fill="#f3b21a"/>
<circle cx="82.34" cy="370.28" r="0.95" fill="#f3b21a"/>
<circle cx="82.34" cy="374.55" r="0.95" fill="#f3b21a"/>
<circle cx="82.34" cy="360.93" r="0.95" fill="#f3b21a"/>
<line x1="74.14" y1="366.01" x2="80.14" y2="366.01" stroke="#000" stroke-width="1.2"/>
<line x1="79.34" y1="360.93" x2="85.34" y2="360.93" stroke="#000" stroke-width="1.2"/>
<line x1="92.06" y1="352.66" x2="97.26" y2="340.64" stroke="#b4b8cc" stroke-width="0.45"/>
<line x1="92.06" y1="355.06" x2="97.26" y2="348.12" stroke="#b4b8cc" stroke-width="0.45"/>
<line x1="92.06" y1="358.80" x2="97.26" y2="349.85" stroke="#b4b8cc" stroke-width="0.45"/>
<line x1="92.06" y1="360.27" x2="97.26" y2="360.00" stroke="#b4b8cc" stroke-width="0.45"/>
<line x1="92.06" y1="363.07" x2="97.26" y2="357.86" stroke="#b4b8cc" stroke-width="0.45"/>
<line x1="92.06" y1="364.00" x2="97.26" y2="360.67" stroke="#b4b8cc" stroke-width="0.45"/>
<line x1="92.06" y1="365.34" x2="97.26" y2="363.74" stroke="#b4b8cc" stroke-width="0.45"/>
<line x1="92.06" y1="366.41" x2="97.26" y2="361.33" stroke="#b4b8cc" stroke-width="0.45"/>
<line x1="92.06" y1="371.75" x2="97.26" y2="366.01" stroke="#b4b8cc" stroke-width="0.45"/>
<line x1="92.06" y1="375.62" x2="97.26" y2="367.34" stroke="#b4b8cc" stroke-width="0.45"/>
<circle cx="92.06" cy="352.66" r="0.95" fill="#21468c"/>
<circle cx="92.06" cy="355.06" r="0.95" fill="#21468c"/>
<circle cx="92.06" cy="358.80" r="0.95" fill="#21468c"/>
<circle cx="92.06" cy="360.27" r="0.95" fill="#21468c"/>
<circle cx="92.06" cy="363.07" r="0.95" fill="#21468c"/>
<circle cx="92.06" cy="365.34" r="0.95" fill="#21468c"/>
<circle cx="92.06" cy="366.41" r="0.95" fill="#21468c"/>
<circle cx="92.06" cy="371.75" r="0.95" fill="#21468c"/>
<circle cx="92.06" cy="375.62" r="0.95" fill="#21468c"/>
<circle cx="92.06" cy="364.00" r="0.95" fill="#21468c"/>
<circle cx="97.26" cy="340.64" r="0.95" fill="#f3b21a"/>
<circle cx="97.26" cy="348.12" r="0.95" fill="#f3b21a"/>
<circle cx="97.26" cy="349.85" r="0.95" fill="#f3b21a"/>
<circle cx="97.26" cy="357.86" r="0.95" fill="#f3b21a"/>
<circle cx="97.26" cy="360.67" r="0.95" fill="#f3b21a"/>
<circle cx="97.26" cy="363.74" r="0.95" fill="#f3b21a"/>
<circle cx="97.26" cy="366.01" r="0.95" fill="#f3b21a"/>
<circle cx="97.26" cy="367.34" r="0.95" fill="#f3b21a"/>
<circle cx="97.26" cy="360.00" r="0.95" fill="#f3b21a"/>
<circle cx="97.26" cy="361.33" r="0.95" fill="#f3b21a"/>
<line x1="89.06" y1="363.60" x2="95.06" y2="363.60" stroke="#000" stroke-width="1.2"/>
<line x1="94.26" y1="360.93" x2="100.26" y2="360.93" stroke="#000" stroke-width="1.2"/>
<line x1="106.98" y1="368.41" x2="112.18" y2="374.55" stroke="#b4b8cc" stroke-width="0.45"/>
<line x1="106.98" y1="373.88" x2="112.18" y2="366.41" stroke="#b4b8cc" stroke-width="0.45"/>
<line x1="106.98" y1="376.69" x2="112.18" y2="376.69" stroke="#b4b8cc" stroke-width="0.45"/>
<line x1="106.98" y1="378.96" x2="112.18" y2="377.36" stroke="#b4b8cc" stroke-width="0.45"/>
<line x1="106.98" y1="379.36" x2="112.18" y2="377.89" stroke="#b4b8cc" stroke-width="0.45"/>
<line x1="106.98" y1="380.02" x2="112.18" y2="378.02" stroke="#b4b8cc" stroke-width="0.45"/>
<line x1="106.98" y1="380.29" x2="112.18" y2="378.69" stroke="#b4b8cc" stroke-width="0.45"/>
<line x1="106.98" y1="380.96" x2="112.18" y2="379.36" stroke="#b4b8cc" stroke-width="0.45"/>
<line x1="106.98" y1="381.36" x2="112.18" y2="380.02" stroke="#b4b8cc" stroke-width="0.45"/>
<line x1="106.98" y1="382.16" x2="112.18" y2="380.96" stroke="#b4b8cc" stroke-width="0.45"/>
<circle cx="106.98" cy="368.41" r="0.95" fill="#21468c"/>
<circle cx="106.98" cy="373.88" r="0.95" fill="#21468c"/>
<circle cx="106.98" cy="376.69" r="0.95" fill="#21468c"/>
<circle cx="106.98" cy="378.96" r="0.95" fill="#21468c"/>
<circle cx="106.98" cy="380.29" r="0.95" fill="#21468c"/>
<circle cx="106.98" cy="380.96" r="0.95" fill="#21468c"/>
<circle cx="106.98" cy="382.16" r="0.95" fill="#21468c"/>
<circle cx="106.98" cy="380.02" r="0.95" fill="#21468c"/>
<circle cx="106.98" cy="379.36" r="0.95" fill="#21468c"/>
<circle cx="106.98" cy="381.36" r="0.95" fill="#21468c"/>
<circle cx="112.18" cy="366.41" r="0.95" fill="#f3b21a"/>
<circle cx="112.18" cy="374.55" r="0.95" fill="#f3b21a"/>
<circle cx="112.18" cy="376.69" r="0.95" fill="#f3b21a"/>
<circle cx="112.18" cy="377.89" r="0.95" fill="#f3b21a"/>
<circle cx="112.18" cy="379.36" r="0.95" fill="#f3b21a"/>
<circle cx="112.18" cy="380.96" r="0.95" fill="#f3b21a"/>
<circle cx="112.18" cy="378.69" r="0.95" fill="#f3b21a"/>
<circle cx="112.18" cy="377.36" r="0.95" fill="#f3b21a"/>
<circle cx="112.18" cy="380.02" r="0.95" fill="#f3b21a"/>
<circle cx="112.18" cy="378.02" r="0.95" fill="#f3b21a"/>
<line x1="103.98" y1="379.89" x2="109.98" y2="379.89" stroke="#000" stroke-width="1.2"/>
<line x1="109.18" y1="378.16" x2="115.18" y2="378.16" stroke="#000" stroke-width="1.2"/>
<line x1="121.90" y1="325.16" x2="127.10" y2="332.63" stroke="#b4b8cc" stroke-width="0.45"/>
<line x1="121.90" y1="336.24" x2="127.10" y2="326.62" stroke="#b4b8cc" stroke-width="0.45"/>
<line x1="121.90" y1="346.38" x2="127.10" y2="345.18" stroke="#b4b8cc" stroke-width="0.45"/>
<line x1="121.90" y1="348.12" x2="127.10" y2="345.45" stroke="#b4b8cc" stroke-width="0.45"/>
<line x1="121.90" y1="351.99" x2="127.10" y2="346.65" stroke="#b4b8cc" stroke-width="0.45"/>
<line x1="121.90" y1="352.39" x2="127.10" y2="348.79" stroke="#b4b8cc" stroke-width="0.45"/>
<line x1="121.90" y1="354.53" x2="127.10" y2="349.99" stroke="#b4b8cc" stroke-width="0.45"/>
<line x1="121.90" y1="356.00" x2="127.10" y2="351.06" stroke="#b4b8cc" stroke-width="0.45"/>
<line x1="121.90" y1="360.93" x2="127.10" y2="352.39" stroke="#b4b8cc" stroke-width="0.45"/>
<line x1="121.90" y1="364.54" x2="127.10" y2="357.46" stroke="#b4b8cc" stroke-width="0.45"/>
<circle cx="121.90" cy="325.16" r="0.95" fill="#21468c"/>
<circle cx="121.90" cy="336.24" r="0.95" fill="#21468c"/>
<circle cx="121.90" cy="346.38" r="0.95" fill="#21468c"/>
<circle cx="121.90" cy="348.12" r="0.95" fill="#21468c"/>
<circle cx="121.90" cy="352.39" r="0.95" fill="#21468c"/>
<circle cx="121.90" cy="354.53" r="0.95" fill="#21468c"/>
<circle cx="121.90" cy="356.00" r="0.95" fill="#21468c"/>
<circle cx="121.90" cy="360.93" r="0.95" fill="#21468c"/>
<circle cx="121.90" cy="364.54" r="0.95" fill="#21468c"/>
<circle cx="121.90" cy="351.99" r="0.95" fill="#21468c"/>
<circle cx="127.10" cy="326.62" r="0.95" fill="#f3b21a"/>
<circle cx="127.10" cy="332.63" r="0.95" fill="#f3b21a"/>
<circle cx="127.10" cy="345.18" r="0.95" fill="#f3b21a"/>
<circle cx="127.10" cy="348.79" r="0.95" fill="#f3b21a"/>
<circle cx="127.10" cy="351.06" r="0.95" fill="#f3b21a"/>
<circle cx="127.10" cy="352.39" r="0.95" fill="#f3b21a"/>
<circle cx="127.10" cy="357.46" r="0.95" fill="#f3b21a"/>
<circle cx="127.10" cy="346.65" r="0.95" fill="#f3b21a"/>
<circle cx="127.10" cy="349.99" r="0.95" fill="#f3b21a"/>
<circle cx="127.10" cy="345.45" r="0.95" fill="#f3b21a"/>
<line x1="118.90" y1="352.12" x2="124.90" y2="352.12" stroke="#000" stroke-width="1.2"/>
<line x1="124.10" y1="345.45" x2="130.10" y2="345.45" stroke="#000" stroke-width="1.2"/>
<line x1="136.82" y1="381.36" x2="142.02" y2="381.76" stroke="#b4b8cc" stroke-width="0.45"/>
<line x1="136.82" y1="382.43" x2="142.02" y2="382.69" stroke="#b4b8cc" stroke-width="0.45"/>
<line x1="136.82" y1="382.69" x2="142.02" y2="382.96" stroke="#b4b8cc" stroke-width="0.45"/>
<line x1="136.82" y1="382.96" x2="142.02" y2="383.36" stroke="#b4b8cc" stroke-width="0.45"/>
<line x1="136.82" y1="383.36" x2="142.02" y2="383.76" stroke="#b4b8cc" stroke-width="0.45"/>
<line x1="136.82" y1="383.76" x2="142.02" y2="384.03" stroke="#b4b8cc" stroke-width="0.45"/>
<line x1="136.82" y1="384.03" x2="142.02" y2="384.30" stroke="#b4b8cc" stroke-width="0.45"/>
<line x1="136.82" y1="384.30" x2="142.02" y2="384.03" stroke="#b4b8cc" stroke-width="0.45"/>
<line x1="136.82" y1="384.70" x2="142.02" y2="384.70" stroke="#b4b8cc" stroke-width="0.45"/>
<line x1="136.82" y1="384.96" x2="142.02" y2="385.10" stroke="#b4b8cc" stroke-width="0.45"/>
<circle cx="136.82" cy="381.36" r="0.95" fill="#21468c"/>
<circle cx="136.82" cy="382.43" r="0.95" fill="#21468c"/>
<circle cx="136.82" cy="383.36" r="0.95" fill="#21468c"/>
<circle cx="136.82" cy="384.03" r="0.95" fill="#21468c"/>
<circle cx="136.82" cy="384.96" r="0.95" fill="#21468c"/>
<circle cx="136.82" cy="384.30" r="0.95" fill="#21468c"/>
<circle cx="136.82" cy="382.96" r="0.95" fill="#21468c"/>
<circle cx="136.82" cy="384.70" r="0.95" fill="#21468c"/>
<circle cx="136.82" cy="383.76" r="0.95" fill="#21468c"/>
<circle cx="136.82" cy="382.69" r="0.95" fill="#21468c"/>
<circle cx="142.02" cy="381.76" r="0.95" fill="#f3b21a"/>
<circle cx="142.02" cy="382.69" r="0.95" fill="#f3b21a"/>
<circle cx="142.02" cy="383.76" r="0.95" fill="#f3b21a"/>
<circle cx="142.02" cy="384.70" r="0.95" fill="#f3b21a"/>
<circle cx="142.02" cy="384.03" r="0.95" fill="#f3b21a"/>
<circle cx="142.02" cy="383.36" r="0.95" fill="#f3b21a"/>
<circle cx="142.02" cy="384.30" r="0.95" fill="#f3b21a"/>
<circle cx="142.02" cy="385.10" r="0.95" fill="#f3b21a"/>
<circle cx="142.02" cy="382.96" r="0.95" fill="#f3b21a"/>
<circle cx="142.02" cy="384.03" r="0.95" fill="#f3b21a"/>
<line x1="133.82" y1="384.03" x2="139.82" y2="384.03" stroke="#000" stroke-width="1.2"/>
<line x1="139.02" y1="384.03" x2="145.02" y2="384.03" stroke="#000" stroke-width="1.2"/>
<line x1="151.74" y1="366.68" x2="156.94" y2="368.01" stroke="#b4b8cc" stroke-width="0.45"/>
<line x1="151.74" y1="368.28" x2="156.94" y2="360.67" stroke="#b4b8cc" stroke-width="0.45"/>
<line x1="151.74" y1="369.34" x2="156.94" y2="369.08" stroke="#b4b8cc" stroke-width="0.45"/>
<line x1="151.74" y1="370.01" x2="156.94" y2="369.34" stroke="#b4b8cc" stroke-width="0.45"/>
<line x1="151.74" y1="370.68" x2="156.94" y2="370.01" stroke="#b4b8cc" stroke-width="0.45"/>
<line x1="151.74" y1="371.35" x2="156.94" y2="370.68" stroke="#b4b8cc" stroke-width="0.45"/>
<line x1="151.74" y1="371.75" x2="156.94" y2="372.01" stroke="#b4b8cc" stroke-width="0.45"/>
<line x1="151.74" y1="372.68" x2="156.94" y2="370.95" stroke="#b4b8cc" stroke-width="0.45"/>
<line x1="151.74" y1="374.02" x2="156.94" y2="372.68" stroke="#b4b8cc" stroke-width="0.45"/>
<line x1="151.74" y1="375.62" x2="156.94" y2="373.75" stroke="#b4b8cc" stroke-width="0.45"/>
<circle cx="151.74" cy="366.68" r="0.95" fill="#21468c"/>
<circle cx="151.74" cy="368.28" r="0.95" fill="#21468c"/>
<circle cx="151.74" cy="369.34" r="0.95" fill="#21468c"/>
<circle cx="151.74" cy="370.68" r="0.95" fill="#21468c"/>
<circle cx="151.74" cy="371.75" r="0.95" fill="#21468c"/>
<circle cx="151.74" cy="372.68" r="0.95" fill="#21468c"/>
<circle cx="151.74" cy="374.02" r="0.95" fill="#21468c"/>
<circle cx="151.74" cy="375.62" r="0.95" fill="#21468c"/>
<circle cx="151.74" cy="371.35" r="0.95" fill="#21468c"/>
<circle cx="151.74" cy="370.01" r="0.95" fill="#21468c"/>
<circle cx="156.94" cy="360.67" r="0.95" fill="#f3b21a"/>
<circle cx="156.94" cy="368.01" r="0.95" fill="#f3b21a"/>
<circle cx="156.94" cy="369.08" r="0.95" fill="#f3b21a"/>
<circle cx="156.94" cy="370.01" r="0.95" fill="#f3b21a"/>
<circle cx="156.94" cy="370.95" r="0.95" fill="#f3b21a"/>
<circle cx="156.94" cy="372.01" r="0.95" fill="#f3b21a"/>
<circle cx="156.94" cy="373.75" r="0.95" fill="#f3b21a"/>
<circle cx="156.94" cy="370.68" r="0.95" fill="#f3b21a"/>
<circle cx="156.94" cy="372.68" r="0.95" fill="#f3b21a"/>
<circle cx="156.94" cy="369.34" r="0.95" fill="#f3b21a"/>
<line x1="148.74" y1="371.75" x2="154.74" y2="371.75" stroke="#000" stroke-width="1.2"/>
<line x1="153.94" y1="370.68" x2="159.94" y2="370.68" stroke="#000" stroke-width="1.2"/>
<line x1="166.66" y1="363.07" x2="171.86" y2="367.34" stroke="#b4b8cc" stroke-width="0.45"/>
<line x1="166.66" y1="372.42" x2="171.86" y2="355.86" stroke="#b4b8cc" stroke-width="0.45"/>
<line x1="166.66" y1="373.35" x2="171.86" y2="370.68" stroke="#b4b8cc" stroke-width="0.45"/>
<line x1="166.66" y1="373.48" x2="171.86" y2="372.42" stroke="#b4b8cc" stroke-width="0.45"/>
<line x1="166.66" y1="374.02" x2="171.86" y2="372.01" stroke="#b4b8cc" stroke-width="0.45"/>
<line x1="166.66" y1="374.69" x2="171.86" y2="373.35" stroke="#b4b8cc" stroke-width="0.45"/>
<line x1="166.66" y1="375.35" x2="171.86" y2="374.69" stroke="#b4b8cc" stroke-width="0.45"/>
<line x1="166.66" y1="376.02" x2="171.86" y2="374.02" stroke="#b4b8cc" stroke-width="0.45"/>
<line x1="166.66" y1="377.36" x2="171.86" y2="376.02" stroke="#b4b8cc" stroke-width="0.45"/>
<line x1="166.66" y1="379.36" x2="171.86" y2="377.36" stroke="#b4b8cc" stroke-width="0.45"/>
<circle cx="166.66" cy="363.07" r="0.95" fill="#21468c"/>
<circle cx="166.66" cy="372.42" r="0.95" fill="#21468c"/>
<circle cx="166.66" cy="373.35" r="0.95" fill="#21468c"/>
<circle cx="166.66" cy="374.02" r="0.95" fill="#21468c"/>
<circle cx="166.66" cy="374.69" r="0.95" fill="#21468c"/>
<circle cx="166.66" cy="376.02" r="0.95" fill="#21468c"/>
<circle cx="166.66" cy="377.36" r="0.95" fill="#21468c"/>
<circle cx="166.66" cy="379.36" r="0.95" fill="#21468c"/>
<circle cx="166.66" cy="373.48" r="0.95" fill="#21468c"/>
<circle cx="166.66" cy="375.35" r="0.95" fill="#21468c"/>
<circle cx="171.86" cy="355.86" r="0.95" fill="#f3b21a"/>
<circle cx="171.86" cy="367.34" r="0.95" fill="#f3b21a"/>
<circle cx="171.86" cy="372.01" r="0.95" fill="#f3b21a"/>
<circle cx="171.86" cy="373.35" r="0.95" fill="#f3b21a"/>
<circle cx="171.86" cy="374.69" r="0.95" fill="#f3b21a"/>
<circle cx="171.86" cy="376.02" r="0.95" fill="#f3b21a"/>
<circle cx="171.86" cy="377.36" r="0.95" fill="#f3b21a"/>
<circle cx="171.86" cy="372.42" r="0.95" fill="#f3b21a"/>
<circle cx="171.86" cy="374.02" r="0.95" fill="#f3b21a"/>
<circle cx="171.86" cy="370.68" r="0.95" fill="#f3b21a"/>
<line x1="163.66" y1="373.48" x2="169.66" y2="373.48" stroke="#000" stroke-width="1.2"/>
<line x1="168.86" y1="372.42" x2="174.86" y2="372.42" stroke="#000" stroke-width="1.2"/>
<line x1="181.58" y1="380.69" x2="186.78" y2="377.36" stroke="#b4b8cc" stroke-width="0.45"/>
<line x1="181.58" y1="381.36" x2="186.78" y2="374.55" stroke="#b4b8cc" stroke-width="0.45"/>
<line x1="181.58" y1="381.63" x2="186.78" y2="379.36" stroke="#b4b8cc" stroke-width="0.45"/>
<line x1="181.58" y1="382.03" x2="186.78" y2="380.69" stroke="#b4b8cc" stroke-width="0.45"/>
<line x1="181.58" y1="382.43" x2="186.78" y2="380.02" stroke="#b4b8cc" stroke-width="0.45"/>
<line x1="181.58" y1="382.69" x2="186.78" y2="381.36" stroke="#b4b8cc" stroke-width="0.45"/>
<line x1="181.58" y1="382.96" x2="186.78" y2="382.16" stroke="#b4b8cc" stroke-width="0.45"/>
<line x1="181.58" y1="383.36" x2="186.78" y2="382.69" stroke="#b4b8cc" stroke-width="0.45"/>
<line x1="181.58" y1="383.76" x2="186.78" y2="383.36" stroke="#b4b8cc" stroke-width="0.45"/>
<line x1="181.58" y1="384.03" x2="186.78" y2="384.03" stroke="#b4b8cc" stroke-width="0.45"/>
<circle cx="181.58" cy="380.69" r="0.95" fill="#21468c"/>
<circle cx="181.58" cy="381.63" r="0.95" fill="#21468c"/>
<circle cx="181.58" cy="382.43" r="0.95" fill="#21468c"/>
<circle cx="181.58" cy="383.36" r="0.95" fill="#21468c"/>
<circle cx="181.58" cy="384.03" r="0.95" fill="#21468c"/>
<circle cx="181.58" cy="382.69" r="0.95" fill="#21468c"/>
<circle cx="181.58" cy="382.03" r="0.95" fill="#21468c"/>
<circle cx="181.58" cy="382.96" r="0.95" fill="#21468c"/>
<circle cx="181.58" cy="383.76" r="0.95" fill="#21468c"/>
<circle cx="181.58" cy="381.36" r="0.95" fill="#21468c"/>
<circle cx="186.78" cy="374.55" r="0.95" fill="#f3b21a"/>
<circle cx="186.78" cy="377.36" r="0.95" fill="#f3b21a"/>
<circle cx="186.78" cy="379.36" r="0.95" fill="#f3b21a"/>
<circle cx="186.78" cy="380.69" r="0.95" fill="#f3b21a"/>
<circle cx="186.78" cy="382.16" r="0.95" fill="#f3b21a"/>
<circle cx="186.78" cy="383.36" r="0.95" fill="#f3b21a"/>
<circle cx="186.78" cy="384.03" r="0.95" fill="#f3b21a"/>
<circle cx="186.78" cy="382.69" r="0.95" fill="#f3b21a"/>
<circle cx="186.78" cy="381.36" r="0.95" fill="#f3b21a"/>
<circle cx="186.78" cy="380.02" r="0.95" fill="#f3b21a"/>
<line x1="178.58" y1="382.43" x2="184.58" y2="382.43" stroke="#000" stroke-width="1.2"/>
<line x1="183.78" y1="382.16" x2="189.78" y2="382.16" stroke="#000" stroke-width="1.2"/>
<line x1="41.30" y1="402.50" x2="41.30" y2="469.60" stroke="#1a1a1a" stroke-width="1.0"/>
<line x1="40.80" y1="469.30" x2="194.80" y2="469.30" stroke="#1a1a1a" stroke-width="1.0"/>
<line x1="38.30" y1="469.30" x2="41.30" y2="469.30" stroke="#1a1a1a" stroke-width="0.8"/>
<text x="36.50" y="471.50" font-size="6.3" text-anchor="end">0</text>
<line x1="38.30" y1="452.30" x2="41.30" y2="452.30" stroke="#1a1a1a" stroke-width="0.8"/>
<text x="36.50" y="454.50" font-size="6.3" text-anchor="end">1</text>
<line x1="38.30" y1="435.30" x2="41.30" y2="435.30" stroke="#1a1a1a" stroke-width="0.8"/>
<text x="36.50" y="437.50" font-size="6.3" text-anchor="end">2</text>
<line x1="38.30" y1="418.30" x2="41.30" y2="418.30" stroke="#1a1a1a" stroke-width="0.8"/>
<text x="36.50" y="420.50" font-size="6.3" text-anchor="end">3</text>
<line x1="42.00" y1="469.30" x2="42.00" y2="471.80" stroke="#1a1a1a" stroke-width="0.8"/>
<line x1="57.10" y1="469.30" x2="57.10" y2="471.80" stroke="#1a1a1a" stroke-width="0.8"/>
<line x1="72.20" y1="469.30" x2="72.20" y2="471.80" stroke="#1a1a1a" stroke-width="0.8"/>
<line x1="87.30" y1="469.30" x2="87.30" y2="471.80" stroke="#1a1a1a" stroke-width="0.8"/>
<line x1="102.40" y1="469.30" x2="102.40" y2="471.80" stroke="#1a1a1a" stroke-width="0.8"/>
<line x1="117.50" y1="469.30" x2="117.50" y2="471.80" stroke="#1a1a1a" stroke-width="0.8"/>
<line x1="132.60" y1="469.30" x2="132.60" y2="471.80" stroke="#1a1a1a" stroke-width="0.8"/>
<line x1="147.70" y1="469.30" x2="147.70" y2="471.80" stroke="#1a1a1a" stroke-width="0.8"/>
<line x1="162.80" y1="469.30" x2="162.80" y2="471.80" stroke="#1a1a1a" stroke-width="0.8"/>
<line x1="177.90" y1="469.30" x2="177.90" y2="471.80" stroke="#1a1a1a" stroke-width="0.8"/>
<line x1="193.00" y1="469.30" x2="193.00" y2="471.80" stroke="#1a1a1a" stroke-width="0.8"/>
<line x1="47.30" y1="450.09" x2="52.50" y2="445.67" stroke="#b4b8cc" stroke-width="0.45"/>
<line x1="47.30" y1="452.30" x2="52.50" y2="452.64" stroke="#b4b8cc" stroke-width="0.45"/>
<line x1="47.30" y1="462.33" x2="52.50" y2="458.76" stroke="#b4b8cc" stroke-width="0.45"/>
<line x1="47.30" y1="464.20" x2="52.50" y2="460.12" stroke="#b4b8cc" stroke-width="0.45"/>
<line x1="47.30" y1="464.54" x2="52.50" y2="460.80" stroke="#b4b8cc" stroke-width="0.45"/>
<line x1="47.30" y1="465.22" x2="52.50" y2="461.31" stroke="#b4b8cc" stroke-width="0.45"/>
<line x1="47.30" y1="465.56" x2="52.50" y2="461.65" stroke="#b4b8cc" stroke-width="0.45"/>
<line x1="47.30" y1="465.90" x2="52.50" y2="462.50" stroke="#b4b8cc" stroke-width="0.45"/>
<line x1="47.30" y1="466.24" x2="52.50" y2="463.86" stroke="#b4b8cc" stroke-width="0.45"/>
<line x1="47.30" y1="466.58" x2="52.50" y2="465.56" stroke="#b4b8cc" stroke-width="0.45"/>
<circle cx="47.30" cy="450.09" r="0.95" fill="#21468c"/>
<circle cx="47.30" cy="452.30" r="0.95" fill="#21468c"/>
<circle cx="47.30" cy="462.33" r="0.95" fill="#21468c"/>
<circle cx="47.30" cy="464.54" r="0.95" fill="#21468c"/>
<circle cx="47.30" cy="465.56" r="0.95" fill="#21468c"/>
<circle cx="47.30" cy="466.58" r="0.95" fill="#21468c"/>
<circle cx="47.30" cy="465.22" r="0.95" fill="#21468c"/>
<circle cx="47.30" cy="464.20" r="0.95" fill="#21468c"/>
<circle cx="47.30" cy="465.90" r="0.95" fill="#21468c"/>
<circle cx="47.30" cy="466.24" r="0.95" fill="#21468c"/>
<circle cx="52.50" cy="445.67" r="0.95" fill="#f3b21a"/>
<circle cx="52.50" cy="452.64" r="0.95" fill="#f3b21a"/>
<circle cx="52.50" cy="458.76" r="0.95" fill="#f3b21a"/>
<circle cx="52.50" cy="460.12" r="0.95" fill="#f3b21a"/>
<circle cx="52.50" cy="461.65" r="0.95" fill="#f3b21a"/>
<circle cx="52.50" cy="463.86" r="0.95" fill="#f3b21a"/>
<circle cx="52.50" cy="465.56" r="0.95" fill="#f3b21a"/>
<circle cx="52.50" cy="461.31" r="0.95" fill="#f3b21a"/>
<circle cx="52.50" cy="462.50" r="0.95" fill="#f3b21a"/>
<circle cx="52.50" cy="460.80" r="0.95" fill="#f3b21a"/>
<line x1="44.30" y1="465.22" x2="50.30" y2="465.22" stroke="#000" stroke-width="1.2"/>
<line x1="49.50" y1="461.31" x2="55.50" y2="461.31" stroke="#000" stroke-width="1.2"/>
<line x1="62.22" y1="409.29" x2="67.42" y2="415.07" stroke="#b4b8cc" stroke-width="0.45"/>
<line x1="62.22" y1="410.65" x2="67.42" y2="410.31" stroke="#b4b8cc" stroke-width="0.45"/>
<line x1="62.22" y1="422.89" x2="67.42" y2="417.96" stroke="#b4b8cc" stroke-width="0.45"/>
<line x1="62.22" y1="425.10" x2="67.42" y2="422.89" stroke="#b4b8cc" stroke-width="0.45"/>
<line x1="62.22" y1="428.33" x2="67.42" y2="424.08" stroke="#b4b8cc" stroke-width="0.45"/>
<line x1="62.22" y1="432.24" x2="67.42" y2="424.59" stroke="#b4b8cc" stroke-width="0.45"/>
<line x1="62.22" y1="433.77" x2="67.42" y2="430.03" stroke="#b4b8cc" stroke-width="0.45"/>
<line x1="62.22" y1="438.02" x2="67.42" y2="426.80" stroke="#b4b8cc" stroke-width="0.45"/>
<line x1="62.22" y1="441.76" x2="67.42" y2="431.22" stroke="#b4b8cc" stroke-width="0.45"/>
<line x1="62.22" y1="452.98" x2="67.42" y2="438.02" stroke="#b4b8cc" stroke-width="0.45"/>
<circle cx="62.22" cy="409.29" r="0.95" fill="#21468c"/>
<circle cx="62.22" cy="410.65" r="0.95" fill="#21468c"/>
<circle cx="62.22" cy="422.89" r="0.95" fill="#21468c"/>
<circle cx="62.22" cy="425.10" r="0.95" fill="#21468c"/>
<circle cx="62.22" cy="432.24" r="0.95" fill="#21468c"/>
<circle cx="62.22" cy="433.77" r="0.95" fill="#21468c"/>
<circle cx="62.22" cy="438.02" r="0.95" fill="#21468c"/>
<circle cx="62.22" cy="441.76" r="0.95" fill="#21468c"/>
<circle cx="62.22" cy="452.98" r="0.95" fill="#21468c"/>
<circle cx="62.22" cy="428.33" r="0.95" fill="#21468c"/>
<circle cx="67.42" cy="410.31" r="0.95" fill="#f3b21a"/>
<circle cx="67.42" cy="415.07" r="0.95" fill="#f3b21a"/>
<circle cx="67.42" cy="417.96" r="0.95" fill="#f3b21a"/>
<circle cx="67.42" cy="422.89" r="0.95" fill="#f3b21a"/>
<circle cx="67.42" cy="424.59" r="0.95" fill="#f3b21a"/>
<circle cx="67.42" cy="430.03" r="0.95" fill="#f3b21a"/>
<circle cx="67.42" cy="431.22" r="0.95" fill="#f3b21a"/>
<circle cx="67.42" cy="438.02" r="0.95" fill="#f3b21a"/>
<circle cx="67.42" cy="424.08" r="0.95" fill="#f3b21a"/>
<circle cx="67.42" cy="426.80" r="0.95" fill="#f3b21a"/>
<line x1="59.22" y1="428.33" x2="65.22" y2="428.33" stroke="#000" stroke-width="1.2"/>
<line x1="64.42" y1="424.08" x2="70.42" y2="424.08" stroke="#000" stroke-width="1.2"/>
<line x1="77.14" y1="413.20" x2="82.34" y2="412.52" stroke="#b4b8cc" stroke-width="0.45"/>
<line x1="77.14" y1="418.64" x2="82.34" y2="430.03" stroke="#b4b8cc" stroke-width="0.45"/>
<line x1="77.14" y1="432.75" x2="82.34" y2="433.60" stroke="#b4b8cc" stroke-width="0.45"/>
<line x1="77.14" y1="433.77" x2="82.34" y2="440.40" stroke="#b4b8cc" stroke-width="0.45"/>
<line x1="77.14" y1="437.00" x2="82.34" y2="435.81" stroke="#b4b8cc" stroke-width="0.45"/>
<line x1="77.14" y1="440.06" x2="82.34" y2="441.59" stroke="#b4b8cc" stroke-width="0.45"/>
<line x1="77.14" y1="443.80" x2="82.34" y2="443.80" stroke="#b4b8cc" stroke-width="0.45"/>
<line x1="77.14" y1="447.03" x2="82.34" y2="442.95" stroke="#b4b8cc" stroke-width="0.45"/>
<line x1="77.14" y1="452.30" x2="82.34" y2="444.65" stroke="#b4b8cc" stroke-width="0.45"/>
<line x1="77.14" y1="457.57" x2="82.34" y2="445.84" stroke="#b4b8cc" stroke-width="0.45"/>
<circle cx="77.14" cy="413.20" r="0.95" fill="#21468c"/>
<circle cx="77.14" cy="418.64" r="0.95" fill="#21468c"/>
<circle cx="77.14" cy="432.75" r="0.95" fill="#21468c"/>
<circle cx="77.14" cy="433.77" r="0.95" fill="#21468c"/>
<circle cx="77.14" cy="447.03" r="0.95" fill="#21468c"/>
<circle cx="77.14" cy="452.30" r="0.95" fill="#21468c"/>
<circle cx="77.14" cy="457.57" r="0.95" fill="#21468c"/>
<circle cx="77.14" cy="440.06" r="0.95" fill="#21468c"/>
<circle cx="77.14" cy="443.80" r="0.95" fill="#21468c"/>
<circle cx="77.14" cy="437.00" r="0.95" fill="#21468c"/>
<circle cx="82.34" cy="412.52" r="0.95" fill="#f3b21a"/>
<circle cx="82.34" cy="430.03" r="0.95" fill="#f3b21a"/>
<circle cx="82.34" cy="441.59" r="0.95" fill="#f3b21a"/>
<circle cx="82.34" cy="442.95" r="0.95" fill="#f3b21a"/>
<circle cx="82.34" cy="444.65" r="0.95" fill="#f3b21a"/>
<circle cx="82.34" cy="445.84" r="0.95" fill="#f3b21a"/>
<circle cx="82.34" cy="435.81" r="0.95" fill="#f3b21a"/>
<circle cx="82.34" cy="433.60" r="0.95" fill="#f3b21a"/>
<circle cx="82.34" cy="440.40" r="0.95" fill="#f3b21a"/>
<circle cx="82.34" cy="443.80" r="0.95" fill="#f3b21a"/>
<line x1="74.14" y1="440.06" x2="80.14" y2="440.06" stroke="#000" stroke-width="1.2"/>
<line x1="79.34" y1="435.81" x2="85.34" y2="435.81" stroke="#000" stroke-width="1.2"/>
<line x1="92.06" y1="426.12" x2="97.26" y2="427.99" stroke="#b4b8cc" stroke-width="0.45"/>
<line x1="92.06" y1="432.92" x2="97.26" y2="420.85" stroke="#b4b8cc" stroke-width="0.45"/>
<line x1="92.06" y1="437.51" x2="97.26" y2="437.51" stroke="#b4b8cc" stroke-width="0.45"/>
<line x1="92.06" y1="440.74" x2="97.26" y2="442.10" stroke="#b4b8cc" stroke-width="0.45"/>
<line x1="92.06" y1="449.41" x2="97.26" y2="439.04" stroke="#b4b8cc" stroke-width="0.45"/>
<line x1="92.06" y1="450.43" x2="97.26" y2="442.95" stroke="#b4b8cc" stroke-width="0.45"/>
<line x1="92.06" y1="450.94" x2="97.26" y2="448.73" stroke="#b4b8cc" stroke-width="0.45"/>
<line x1="92.06" y1="457.06" x2="97.26" y2="445.50" stroke="#b4b8cc" stroke-width="0.45"/>
<line x1="92.06" y1="458.42" x2="97.26" y2="450.09" stroke="#b4b8cc" stroke-width="0.45"/>
<line x1="92.06" y1="463.35" x2="97.26" y2="452.98" stroke="#b4b8cc" stroke-width="0.45"/>
<circle cx="92.06" cy="426.12" r="0.95" fill="#21468c"/>
<circle cx="92.06" cy="432.92" r="0.95" fill="#21468c"/>
<circle cx="92.06" cy="437.51" r="0.95" fill="#21468c"/>
<circle cx="92.06" cy="440.74" r="0.95" fill="#21468c"/>
<circle cx="92.06" cy="449.41" r="0.95" fill="#21468c"/>
<circle cx="92.06" cy="450.94" r="0.95" fill="#21468c"/>
<circle cx="92.06" cy="457.06" r="0.95" fill="#21468c"/>
<circle cx="92.06" cy="458.42" r="0.95" fill="#21468c"/>
<circle cx="92.06" cy="463.35" r="0.95" fill="#21468c"/>
<circle cx="92.06" cy="450.43" r="0.95" fill="#21468c"/>
<circle cx="97.26" cy="420.85" r="0.95" fill="#f3b21a"/>
<circle cx="97.26" cy="427.99" r="0.95" fill="#f3b21a"/>
<circle cx="97.26" cy="437.51" r="0.95" fill="#f3b21a"/>
<circle cx="97.26" cy="439.04" r="0.95" fill="#f3b21a"/>
<circle cx="97.26" cy="442.95" r="0.95" fill="#f3b21a"/>
<circle cx="97.26" cy="448.73" r="0.95" fill="#f3b21a"/>
<circle cx="97.26" cy="450.09" r="0.95" fill="#f3b21a"/>
<circle cx="97.26" cy="452.98" r="0.95" fill="#f3b21a"/>
<circle cx="97.26" cy="442.10" r="0.95" fill="#f3b21a"/>
<circle cx="97.26" cy="445.50" r="0.95" fill="#f3b21a"/>
<line x1="89.06" y1="450.43" x2="95.06" y2="450.43" stroke="#000" stroke-width="1.2"/>
<line x1="94.26" y1="442.95" x2="100.26" y2="442.95" stroke="#000" stroke-width="1.2"/>
<line x1="106.98" y1="466.24" x2="112.18" y2="465.56" stroke="#b4b8cc" stroke-width="0.45"/>
<line x1="106.98" y1="466.41" x2="112.18" y2="464.54" stroke="#b4b8cc" stroke-width="0.45"/>
<line x1="106.98" y1="466.58" x2="112.18" y2="465.90" stroke="#b4b8cc" stroke-width="0.45"/>
<line x1="106.98" y1="466.58" x2="112.18" y2="466.41" stroke="#b4b8cc" stroke-width="0.45"/>
<line x1="106.98" y1="466.75" x2="112.18" y2="466.24" stroke="#b4b8cc" stroke-width="0.45"/>
<line x1="106.98" y1="466.75" x2="112.18" y2="466.58" stroke="#b4b8cc" stroke-width="0.45"/>
<line x1="106.98" y1="466.92" x2="112.18" y2="466.75" stroke="#b4b8cc" stroke-width="0.45"/>
<line x1="106.98" y1="467.09" x2="112.18" y2="466.92" stroke="#b4b8cc" stroke-width="0.45"/>
<line x1="106.98" y1="467.26" x2="112.18" y2="467.09" stroke="#b4b8cc" stroke-width="0.45"/>
<line x1="106.98" y1="467.43" x2="112.18" y2="467.26" stroke="#b4b8cc" stroke-width="0.45"/>
<circle cx="106.98" cy="466.75" r="0.95" fill="#21468c"/>
<circle cx="106.98" cy="467.09" r="0.95" fill="#21468c"/>
<circle cx="106.98" cy="466.41" r="0.95" fill="#21468c"/>
<circle cx="106.98" cy="467.26" r="0.95" fill="#21468c"/>
<circle cx="106.98" cy="466.58" r="0.95" fill="#21468c"/>
<circle cx="106.98" cy="466.92" r="0.95" fill="#21468c"/>
<circle cx="106.98" cy="466.24" r="0.95" fill="#21468c"/>
<circle cx="106.98" cy="467.43" r="0.95" fill="#21468c"/>
<circle cx="106.98" cy="466.75" r="0.95" fill="#21468c"/>
<circle cx="106.98" cy="466.58" r="0.95" fill="#21468c"/>
<circle cx="112.18" cy="464.54" r="0.95" fill="#f3b21a"/>
<circle cx="112.18" cy="465.90" r="0.95" fill="#f3b21a"/>
<circle cx="112.18" cy="466.58" r="0.95" fill="#f3b21a"/>
<circle cx="112.18" cy="467.26" r="0.95" fill="#f3b21a"/>
<circle cx="112.18" cy="466.24" r="0.95" fill="#f3b21a"/>
<circle cx="112.18" cy="466.92" r="0.95" fill="#f3b21a"/>
<circle cx="112.18" cy="465.56" r="0.95" fill="#f3b21a"/>
<circle cx="112.18" cy="466.75" r="0.95" fill="#f3b21a"/>
<circle cx="112.18" cy="466.41" r="0.95" fill="#f3b21a"/>
<circle cx="112.18" cy="467.09" r="0.95" fill="#f3b21a"/>
<line x1="103.98" y1="466.58" x2="109.98" y2="466.58" stroke="#000" stroke-width="1.2"/>
<line x1="109.18" y1="466.58" x2="115.18" y2="466.58" stroke="#000" stroke-width="1.2"/>
<line x1="121.90" y1="433.26" x2="127.10" y2="438.36" stroke="#b4b8cc" stroke-width="0.45"/>
<line x1="121.90" y1="437.51" x2="127.10" y2="436.15" stroke="#b4b8cc" stroke-width="0.45"/>
<line x1="121.90" y1="442.10" x2="127.10" y2="442.10" stroke="#b4b8cc" stroke-width="0.45"/>
<line x1="121.90" y1="442.95" x2="127.10" y2="442.95" stroke="#b4b8cc" stroke-width="0.45"/>
<line x1="121.90" y1="444.48" x2="127.10" y2="443.80" stroke="#b4b8cc" stroke-width="0.45"/>
<line x1="121.90" y1="444.65" x2="127.10" y2="444.14" stroke="#b4b8cc" stroke-width="0.45"/>
<line x1="121.90" y1="447.20" x2="127.10" y2="445.16" stroke="#b4b8cc" stroke-width="0.45"/>
<line x1="121.90" y1="453.66" x2="127.10" y2="446.01" stroke="#b4b8cc" stroke-width="0.45"/>
<line x1="121.90" y1="457.23" x2="127.10" y2="446.69" stroke="#b4b8cc" stroke-width="0.45"/>
<line x1="121.90" y1="457.74" x2="127.10" y2="447.54" stroke="#b4b8cc" stroke-width="0.45"/>
<circle cx="121.90" cy="433.26" r="0.95" fill="#21468c"/>
<circle cx="121.90" cy="437.51" r="0.95" fill="#21468c"/>
<circle cx="121.90" cy="442.95" r="0.95" fill="#21468c"/>
<circle cx="121.90" cy="444.48" r="0.95" fill="#21468c"/>
<circle cx="121.90" cy="453.66" r="0.95" fill="#21468c"/>
<circle cx="121.90" cy="457.23" r="0.95" fill="#21468c"/>
<circle cx="121.90" cy="457.74" r="0.95" fill="#21468c"/>
<circle cx="121.90" cy="444.65" r="0.95" fill="#21468c"/>
<circle cx="121.90" cy="447.20" r="0.95" fill="#21468c"/>
<circle cx="121.90" cy="442.10" r="0.95" fill="#21468c"/>
<circle cx="127.10" cy="436.15" r="0.95" fill="#f3b21a"/>
<circle cx="127.10" cy="438.36" r="0.95" fill="#f3b21a"/>
<circle cx="127.10" cy="442.10" r="0.95" fill="#f3b21a"/>
<circle cx="127.10" cy="443.80" r="0.95" fill="#f3b21a"/>
<circle cx="127.10" cy="446.01" r="0.95" fill="#f3b21a"/>
<circle cx="127.10" cy="447.54" r="0.95" fill="#f3b21a"/>
<circle cx="127.10" cy="444.14" r="0.95" fill="#f3b21a"/>
<circle cx="127.10" cy="445.16" r="0.95" fill="#f3b21a"/>
<circle cx="127.10" cy="442.95" r="0.95" fill="#f3b21a"/>
<circle cx="127.10" cy="446.69" r="0.95" fill="#f3b21a"/>
<line x1="118.90" y1="444.65" x2="124.90" y2="444.65" stroke="#000" stroke-width="1.2"/>
<line x1="124.10" y1="444.14" x2="130.10" y2="444.14" stroke="#000" stroke-width="1.2"/>
<line x1="136.82" y1="461.31" x2="142.02" y2="463.86" stroke="#b4b8cc" stroke-width="0.45"/>
<line x1="136.82" y1="462.84" x2="142.02" y2="462.67" stroke="#b4b8cc" stroke-width="0.45"/>
<line x1="136.82" y1="464.20" x2="142.02" y2="464.20" stroke="#b4b8cc" stroke-width="0.45"/>
<line x1="136.82" y1="464.20" x2="142.02" y2="464.71" stroke="#b4b8cc" stroke-width="0.45"/>
<line x1="136.82" y1="464.88" x2="142.02" y2="464.71" stroke="#b4b8cc" stroke-width="0.45"/>
<line x1="136.82" y1="465.22" x2="142.02" y2="465.05" stroke="#b4b8cc" stroke-width="0.45"/>
<line x1="136.82" y1="465.56" x2="142.02" y2="465.22" stroke="#b4b8cc" stroke-width="0.45"/>
<line x1="136.82" y1="465.90" x2="142.02" y2="465.56" stroke="#b4b8cc" stroke-width="0.45"/>
<line x1="136.82" y1="466.24" x2="142.02" y2="465.90" stroke="#b4b8cc" stroke-width="0.45"/>
<line x1="136.82" y1="466.92" x2="142.02" y2="466.24" stroke="#b4b8cc" stroke-width="0.45"/>
<circle cx="136.82" cy="461.31" r="0.95" fill="#21468c"/>
<circle cx="136.82" cy="462.84" r="0.95" fill="#21468c"/>
<circle cx="136.82" cy="464.20" r="0.95" fill="#21468c"/>
<circle cx="136.82" cy="465.90" r="0.95" fill="#21468c"/>
<circle cx="136.82" cy="466.92" r="0.95" fill="#21468c"/>
<circle cx="136.82" cy="465.22" r="0.95" fill="#21468c"/>
<circle cx="136.82" cy="464.88" r="0.95" fill="#21468c"/>
<circle cx="136.82" cy="466.24" r="0.95" fill="#21468c"/>
<circle cx="136.82" cy="465.56" r="0.95" fill="#21468c"/>
<circle cx="136.82" cy="464.20" r="0.95" fill="#21468c"/>
<circle cx="142.02" cy="462.67" r="0.95" fill="#f3b21a"/>
<circle cx="142.02" cy="463.86" r="0.95" fill="#f3b21a"/>
<circle cx="142.02" cy="464.71" r="0.95" fill="#f3b21a"/>
<circle cx="142.02" cy="465.90" r="0.95" fill="#f3b21a"/>
<circle cx="142.02" cy="465.05" r="0.95" fill="#f3b21a"/>
<circle cx="142.02" cy="464.20" r="0.95" fill="#f3b21a"/>
<circle cx="142.02" cy="465.56" r="0.95" fill="#f3b21a"/>
<circle cx="142.02" cy="466.24" r="0.95" fill="#f3b21a"/>
<circle cx="142.02" cy="464.71" r="0.95" fill="#f3b21a"/>
<circle cx="142.02" cy="465.22" r="0.95" fill="#f3b21a"/>
<line x1="133.82" y1="465.22" x2="139.82" y2="465.22" stroke="#000" stroke-width="1.2"/>
<line x1="139.02" y1="464.71" x2="145.02" y2="464.71" stroke="#000" stroke-width="1.2"/>
<line x1="151.74" y1="454.00" x2="156.94" y2="452.30" stroke="#b4b8cc" stroke-width="0.45"/>
<line x1="151.74" y1="455.36" x2="156.94" y2="453.66" stroke="#b4b8cc" stroke-width="0.45"/>
<line x1="151.74" y1="455.70" x2="156.94" y2="454.34" stroke="#b4b8cc" stroke-width="0.45"/>
<line x1="151.74" y1="456.55" x2="156.94" y2="454.85" stroke="#b4b8cc" stroke-width="0.45"/>
<line x1="151.74" y1="457.23" x2="156.94" y2="455.36" stroke="#b4b8cc" stroke-width="0.45"/>
<line x1="151.74" y1="457.40" x2="156.94" y2="455.36" stroke="#b4b8cc" stroke-width="0.45"/>
<line x1="151.74" y1="457.74" x2="156.94" y2="455.70" stroke="#b4b8cc" stroke-width="0.45"/>
<line x1="151.74" y1="458.25" x2="156.94" y2="456.04" stroke="#b4b8cc" stroke-width="0.45"/>
<line x1="151.74" y1="459.10" x2="156.94" y2="456.55" stroke="#b4b8cc" stroke-width="0.45"/>
<line x1="151.74" y1="462.67" x2="156.94" y2="457.40" stroke="#b4b8cc" stroke-width="0.45"/>
<circle cx="151.74" cy="454.00" r="0.95" fill="#21468c"/>
<circle cx="151.74" cy="455.36" r="0.95" fill="#21468c"/>
<circle cx="151.74" cy="456.55" r="0.95" fill="#21468c"/>
<circle cx="151.74" cy="457.74" r="0.95" fill="#21468c"/>
<circle cx="151.74" cy="459.10" r="0.95" fill="#21468c"/>
<circle cx="151.74" cy="462.67" r="0.95" fill="#21468c"/>
<circle cx="151.74" cy="457.23" r="0.95" fill="#21468c"/>
<circle cx="151.74" cy="458.25" r="0.95" fill="#21468c"/>
<circle cx="151.74" cy="455.70" r="0.95" fill="#21468c"/>
<circle cx="151.74" cy="457.40" r="0.95" fill="#21468c"/>
<circle cx="156.94" cy="452.30" r="0.95" fill="#f3b21a"/>
<circle cx="156.94" cy="453.66" r="0.95" fill="#f3b21a"/>
<circle cx="156.94" cy="454.85" r="0.95" fill="#f3b21a"/>
<circle cx="156.94" cy="456.04" r="0.95" fill="#f3b21a"/>
<circle cx="156.94" cy="457.40" r="0.95" fill="#f3b21a"/>
<circle cx="156.94" cy="455.36" r="0.95" fill="#f3b21a"/>
<circle cx="156.94" cy="454.34" r="0.95" fill="#f3b21a"/>
<circle cx="156.94" cy="456.55" r="0.95" fill="#f3b21a"/>
<circle cx="156.94" cy="455.70" r="0.95" fill="#f3b21a"/>
<circle cx="156.94" cy="455.36" r="0.95" fill="#f3b21a"/>
<line x1="148.74" y1="457.23" x2="154.74" y2="457.23" stroke="#000" stroke-width="1.2"/>
<line x1="153.94" y1="455.36" x2="159.94" y2="455.36" stroke="#000" stroke-width="1.2"/>
<line x1="166.66" y1="412.52" x2="171.86" y2="421.19" stroke="#b4b8cc" stroke-width="0.45"/>
<line x1="166.66" y1="425.78" x2="171.86" y2="427.48" stroke="#b4b8cc" stroke-width="0.45"/>
<line x1="166.66" y1="430.88" x2="171.86" y2="430.20" stroke="#b4b8cc" stroke-width="0.45"/>
<line x1="166.66" y1="433.60" x2="171.86" y2="434.96" stroke="#b4b8cc" stroke-width="0.45"/>
<line x1="166.66" y1="435.64" x2="171.86" y2="432.75" stroke="#b4b8cc" stroke-width="0.45"/>
<line x1="166.66" y1="439.72" x2="171.86" y2="435.30" stroke="#b4b8cc" stroke-width="0.45"/>
<line x1="166.66" y1="443.80" x2="171.86" y2="437.00" stroke="#b4b8cc" stroke-width="0.45"/>
<line x1="166.66" y1="449.07" x2="171.86" y2="440.74" stroke="#b4b8cc" stroke-width="0.45"/>
<line x1="166.66" y1="455.19" x2="171.86" y2="447.03" stroke="#b4b8cc" stroke-width="0.45"/>
<line x1="166.66" y1="456.55" x2="171.86" y2="453.32" stroke="#b4b8cc" stroke-width="0.45"/>
<circle cx="166.66" cy="412.52" r="0.95" fill="#21468c"/>
<circle cx="166.66" cy="425.78" r="0.95" fill="#21468c"/>
<circle cx="166.66" cy="430.88" r="0.95" fill="#21468c"/>
<circle cx="166.66" cy="433.60" r="0.95" fill="#21468c"/>
<circle cx="166.66" cy="435.64" r="0.95" fill="#21468c"/>
<circle cx="166.66" cy="439.72" r="0.95" fill="#21468c"/>
<circle cx="166.66" cy="443.80" r="0.95" fill="#21468c"/>
<circle cx="166.66" cy="449.07" r="0.95" fill="#21468c"/>
<circle cx="166.66" cy="455.19" r="0.95" fill="#21468c"/>
<circle cx="166.66" cy="456.55" r="0.95" fill="#21468c"/>
<circle cx="171.86" cy="421.19" r="0.95" fill="#f3b21a"/>
<circle cx="171.86" cy="427.48" r="0.95" fill="#f3b21a"/>
<circle cx="171.86" cy="430.20" r="0.95" fill="#f3b21a"/>
<circle cx="171.86" cy="432.75" r="0.95" fill="#f3b21a"/>
<circle cx="171.86" cy="434.96" r="0.95" fill="#f3b21a"/>
<circle cx="171.86" cy="437.00" r="0.95" fill="#f3b21a"/>
<circle cx="171.86" cy="440.74" r="0.95" fill="#f3b21a"/>
<circle cx="171.86" cy="447.03" r="0.95" fill="#f3b21a"/>
<circle cx="171.86" cy="453.32" r="0.95" fill="#f3b21a"/>
<circle cx="171.86" cy="435.30" r="0.95" fill="#f3b21a"/>
<line x1="163.66" y1="439.72" x2="169.66" y2="439.72" stroke="#000" stroke-width="1.2"/>
<line x1="168.86" y1="434.96" x2="174.86" y2="434.96" stroke="#000" stroke-width="1.2"/>
<line x1="181.58" y1="465.56" x2="186.78" y2="464.54" stroke="#b4b8cc" stroke-width="0.45"/>
<line x1="181.58" y1="466.41" x2="186.78" y2="462.67" stroke="#b4b8cc" stroke-width="0.45"/>
<line x1="181.58" y1="466.75" x2="186.78" y2="465.90" stroke="#b4b8cc" stroke-width="0.45"/>
<line x1="181.58" y1="466.92" x2="186.78" y2="466.24" stroke="#b4b8cc" stroke-width="0.45"/>
<line x1="181.58" y1="467.09" x2="186.78" y2="466.58" stroke="#b4b8cc" stroke-width="0.45"/>
<line x1="181.58" y1="467.26" x2="186.78" y2="466.92" stroke="#b4b8cc" stroke-width="0.45"/>
<line x1="181.58" y1="467.26" x2="186.78" y2="466.92" stroke="#b4b8cc" stroke-width="0.45"/>
<line x1="181.58" y1="467.26" x2="186.78" y2="467.26" stroke="#b4b8cc" stroke-width="0.45"/>
<line x1="181.58" y1="467.43" x2="186.78" y2="467.26" stroke="#b4b8cc" stroke-width="0.45"/>
<line x1="181.58" y1="467.60" x2="186.78" y2="467.60" stroke="#b4b8cc" stroke-width="0.45"/>
<circle cx="181.58" cy="465.56" r="0.95" fill="#21468c"/>
<circle cx="181.58" cy="466.41" r="0.95" fill="#21468c"/>
<circle cx="181.58" cy="467.26" r="0.95" fill="#21468c"/>
<circle cx="181.58" cy="467.60" r="0.95" fill="#21468c"/>
<circle cx="181.58" cy="466.92" r="0.95" fill="#21468c"/>
<circle cx="181.58" cy="467.26" r="0.95" fill="#21468c"/>
<circle cx="181.58" cy="466.75" r="0.95" fill="#21468c"/>
<circle cx="181.58" cy="467.43" r="0.95" fill="#21468c"/>
<circle cx="181.58" cy="467.09" r="0.95" fill="#21468c"/>
<circle cx="181.58" cy="467.26" r="0.95" fill="#21468c"/>
<circle cx="186.78" cy="462.67" r="0.95" fill="#f3b21a"/>
<circle cx="186.78" cy="464.54" r="0.95" fill="#f3b21a"/>
<circle cx="186.78" cy="465.90" r="0.95" fill="#f3b21a"/>
<circle cx="186.78" cy="466.92" r="0.95" fill="#f3b21a"/>
<circle cx="186.78" cy="467.26" r="0.95" fill="#f3b21a"/>
<circle cx="186.78" cy="466.58" r="0.95" fill="#f3b21a"/>
<circle cx="186.78" cy="467.60" r="0.95" fill="#f3b21a"/>
<circle cx="186.78" cy="466.92" r="0.95" fill="#f3b21a"/>
<circle cx="186.78" cy="466.24" r="0.95" fill="#f3b21a"/>
<circle cx="186.78" cy="467.26" r="0.95" fill="#f3b21a"/>
<line x1="178.58" y1="467.26" x2="184.58" y2="467.26" stroke="#000" stroke-width="1.2"/>
<line x1="183.78" y1="466.92" x2="189.78" y2="466.92" stroke="#000" stroke-width="1.2"/>
<path d="M47.10 320.80 V319.50 H52.70 V320.80" stroke="#1a1a1a" stroke-width="0.7" fill="none"/>
<text x="49.90" y="317.60" font-size="5.6" text-anchor="middle">0.049</text>
<path d="M76.94 320.80 V319.50 H82.54 V320.80" stroke="#1a1a1a" stroke-width="0.7" fill="none"/>
<text x="79.74" y="317.60" font-size="5.6" text-anchor="middle">0.0098</text>
<path d="M91.86 320.80 V319.50 H97.46 V320.80" stroke="#1a1a1a" stroke-width="0.7" fill="none"/>
<text x="94.66" y="317.60" font-size="5.6" text-anchor="middle">0.012</text>
<path d="M121.70 320.80 V319.50 H127.30 V320.80" stroke="#1a1a1a" stroke-width="0.7" fill="none"/>
<text x="124.50" y="317.60" font-size="5.6" text-anchor="middle">0.0098</text>
<path d="M181.38 320.80 V319.50 H186.98 V320.80" stroke="#1a1a1a" stroke-width="0.7" fill="none"/>
<text x="184.18" y="317.60" font-size="5.6" text-anchor="middle">0.037</text>
<path d="M91.86 401.10 V399.80 H97.46 V401.10" stroke="#1a1a1a" stroke-width="0.7" fill="none"/>
<text x="94.66" y="397.80" font-size="5.6" text-anchor="middle">0.014</text>
<text x="0" y="0" font-size="8.6" text-anchor="middle" textLength="52.40" lengthAdjust="spacingAndGlyphs" transform="translate(27.50 351.50) rotate(-90)">MMI CD8<tspan dy="-2" font-size="4.5">+</tspan><tspan dy="2"> T cells</tspan></text>
<text x="0" y="0" font-size="8.6" text-anchor="middle" textLength="53.70" lengthAdjust="spacingAndGlyphs" transform="translate(28.00 435.60) rotate(-90)">MMI CD4<tspan dy="-2" font-size="4.5">+</tspan><tspan dy="2"> T cells</tspan></text>
<text x="0" y="0" font-size="6.3" text-anchor="end" transform="translate(51.90 478.40) rotate(-45)">Ki-67</text>
<text x="0" y="0" font-size="6.3" text-anchor="end" transform="translate(66.82 478.40) rotate(-45)">GZMB</text>
<text x="0" y="0" font-size="6.3" text-anchor="end" transform="translate(81.74 478.40) rotate(-45)">HLA-DR</text>
<text x="0" y="0" font-size="6.3" text-anchor="end" transform="translate(96.66 478.40) rotate(-45)">PD-1</text>
<text x="0" y="0" font-size="6.3" text-anchor="end" transform="translate(111.58 478.40) rotate(-45)">CTLA-4</text>
<text x="0" y="0" font-size="6.3" text-anchor="end" transform="translate(126.50 478.40) rotate(-45)">ICOS</text>
<text x="0" y="0" font-size="6.3" text-anchor="end" transform="translate(141.42 478.40) rotate(-45)">LAG3</text>
<text x="0" y="0" font-size="6.3" text-anchor="end" transform="translate(156.34 478.40) rotate(-45)">OX40</text>
<text x="0" y="0" font-size="6.3" text-anchor="end" transform="translate(171.26 478.40) rotate(-45)">TIGIT</text>
<text x="0" y="0" font-size="6.3" text-anchor="end" transform="translate(186.18 478.40) rotate(-45)">CXCR5</text>
<text x="260.70" y="151.90" font-size="11.5" fill="#000" font-weight="bold">D</text>
<line x1="300.30" y1="164.00" x2="300.30" y2="235.00" stroke="#1a1a1a" stroke-width="1.0"/>
<line x1="299.80" y1="234.60" x2="372.80" y2="234.60" stroke="#1a1a1a" stroke-width="1.0"/>
<line x1="297.00" y1="166.80" x2="300.30" y2="166.80" stroke="#1a1a1a" stroke-width="0.8"/>
<text x="294.20" y="169.00" font-size="6.4" text-anchor="end">100</text>
<line x1="297.00" y1="177.80" x2="300.30" y2="177.80" stroke="#1a1a1a" stroke-width="0.8"/>
<text x="294.20" y="180.00" font-size="6.4" text-anchor="end">10</text>
<line x1="297.00" y1="188.70" x2="300.30" y2="188.70" stroke="#1a1a1a" stroke-width="0.8"/>
<text x="294.20" y="190.90" font-size="6.4" text-anchor="end">1</text>
<line x1="297.00" y1="199.70" x2="300.30" y2="199.70" stroke="#1a1a1a" stroke-width="0.8"/>
<text x="294.20" y="201.90" font-size="6.4" text-anchor="end">0.1</text>
<line x1="297.00" y1="210.60" x2="300.30" y2="210.60" stroke="#1a1a1a" stroke-width="0.8"/>
<text x="294.20" y="212.80" font-size="6.4" text-anchor="end">10<tspan dy="-2" font-size="4">&#8211;2</tspan></text>
<line x1="297.00" y1="221.30" x2="300.30" y2="221.30" stroke="#1a1a1a" stroke-width="0.8"/>
<text x="294.20" y="223.50" font-size="6.4" text-anchor="end">10<tspan dy="-2" font-size="4">&#8211;3</tspan></text>
<line x1="297.00" y1="231.90" x2="300.30" y2="231.90" stroke="#1a1a1a" stroke-width="0.8"/>
<text x="294.20" y="234.10" font-size="6.4" text-anchor="end">ND</text>
<line x1="304.90" y1="234.60" x2="304.90" y2="237.30" stroke="#1a1a1a" stroke-width="0.8"/>
<line x1="315.30" y1="234.60" x2="315.30" y2="237.30" stroke="#1a1a1a" stroke-width="0.8"/>
<line x1="326.00" y1="234.60" x2="326.00" y2="237.30" stroke="#1a1a1a" stroke-width="0.8"/>
<line x1="336.70" y1="234.60" x2="336.70" y2="237.30" stroke="#1a1a1a" stroke-width="0.8"/>
<line x1="347.10" y1="234.60" x2="347.10" y2="237.30" stroke="#1a1a1a" stroke-width="0.8"/>
<line x1="357.80" y1="234.60" x2="357.80" y2="237.30" stroke="#1a1a1a" stroke-width="0.8"/>
<line x1="368.40" y1="234.60" x2="368.40" y2="237.30" stroke="#1a1a1a" stroke-width="0.8"/>
<text x="303.60" y="248.00" font-size="6.0" text-anchor="middle">ND</text>
<text x="313.30" y="248.00" font-size="6.0" text-anchor="middle">10<tspan dy="-2" font-size="4">&#8211;3</tspan></text>
<text x="325.70" y="248.00" font-size="6.0" text-anchor="middle">10<tspan dy="-2" font-size="4">&#8211;2</tspan></text>
<text x="336.30" y="248.00" font-size="6.0" text-anchor="middle">0.1</text>
<text x="347.10" y="248.00" font-size="6.0" text-anchor="middle">1</text>
<text x="358.20" y="248.00" font-size="6.0" text-anchor="middle">10</text>
<text x="369.20" y="248.00" font-size="6.0" text-anchor="middle">100</text>
<text x="336.20" y="260.00" font-size="8.6" text-anchor="middle" textLength="32.80" lengthAdjust="spacingAndGlyphs">% Baseline</text>
<text x="0" y="0" font-size="9.4" text-anchor="middle" textLength="23.00" lengthAdjust="spacingAndGlyphs" transform="translate(277.10 200.20) rotate(-90)">% C2D1</text>
<line x1="300.60" y1="234.60" x2="371.50" y2="163.20" stroke="#555" stroke-width="0.5"/>
<polygon points="315.9,203.5 326.8,197.4 336.3,193.4 345.9,188.6 350.6,184.3 357.5,178.6 352.4,184.3 347.7,191.8 342.1,199.7 337.3,207.7 335.0,212.5 332.6,218.5 315.9,218.5" fill="#9c9c9c"/>
<circle cx="330.76" cy="218.08" r="0.45" fill="#9c9c9c"/>
<circle cx="334.98" cy="219.18" r="0.45" fill="#9c9c9c"/>
<circle cx="333.63" cy="219.07" r="0.45" fill="#9c9c9c"/>
<circle cx="316.21" cy="216.56" r="0.45" fill="#9c9c9c"/>
<circle cx="338.61" cy="217.57" r="0.45" fill="#9c9c9c"/>
<circle cx="337.57" cy="214.62" r="0.45" fill="#9c9c9c"/>
<circle cx="326.99" cy="215.36" r="0.45" fill="#9c9c9c"/>
<circle cx="328.82" cy="217.16" r="0.45" fill="#9c9c9c"/>
<circle cx="315.82" cy="215.19" r="0.45" fill="#9c9c9c"/>
<circle cx="322.35" cy="219.04" r="0.45" fill="#9c9c9c"/>
<circle cx="334.26" cy="214.88" r="0.45" fill="#9c9c9c"/>
<circle cx="335.03" cy="214.76" r="0.45" fill="#9c9c9c"/>
<circle cx="330.63" cy="214.70" r="0.45" fill="#9c9c9c"/>
<circle cx="315.54" cy="218.79" r="0.45" fill="#9c9c9c"/>
<circle cx="320.63" cy="215.19" r="0.45" fill="#9c9c9c"/>
<circle cx="339.57" cy="218.80" r="0.45" fill="#9c9c9c"/>
<circle cx="322.59" cy="219.29" r="0.45" fill="#9c9c9c"/>
<circle cx="328.71" cy="217.73" r="0.45" fill="#9c9c9c"/>
<circle cx="320.52" cy="219.18" r="0.45" fill="#9c9c9c"/>
<circle cx="332.42" cy="219.32" r="0.45" fill="#9c9c9c"/>
<circle cx="337.40" cy="215.64" r="0.45" fill="#9c9c9c"/>
<circle cx="324.35" cy="214.91" r="0.45" fill="#9c9c9c"/>
<circle cx="319.07" cy="214.36" r="0.45" fill="#9c9c9c"/>
<circle cx="322.88" cy="217.32" r="0.45" fill="#9c9c9c"/>
<circle cx="315.58" cy="217.73" r="0.45" fill="#9c9c9c"/>
<circle cx="323.78" cy="215.70" r="0.45" fill="#9c9c9c"/>
<circle cx="335.55" cy="216.64" r="0.45" fill="#9c9c9c"/>
<circle cx="323.24" cy="216.65" r="0.45" fill="#9c9c9c"/>
<circle cx="332.76" cy="214.31" r="0.45" fill="#9c9c9c"/>
<circle cx="339.39" cy="214.13" r="0.45" fill="#9c9c9c"/>
<circle cx="333.87" cy="218.65" r="0.45" fill="#9c9c9c"/>
<circle cx="315.94" cy="218.33" r="0.45" fill="#9c9c9c"/>
<circle cx="324.47" cy="217.18" r="0.45" fill="#9c9c9c"/>
<circle cx="315.72" cy="214.26" r="0.45" fill="#9c9c9c"/>
<circle cx="319.93" cy="219.25" r="0.45" fill="#9c9c9c"/>
<circle cx="320.31" cy="218.16" r="0.45" fill="#9c9c9c"/>
<circle cx="338.28" cy="219.18" r="0.45" fill="#9c9c9c"/>
<circle cx="323.94" cy="215.95" r="0.45" fill="#9c9c9c"/>
<circle cx="328.36" cy="218.27" r="0.45" fill="#9c9c9c"/>
<circle cx="318.15" cy="218.12" r="0.45" fill="#9c9c9c"/>
<circle cx="335.03" cy="218.73" r="0.45" fill="#9c9c9c"/>
<circle cx="316.40" cy="219.20" r="0.45" fill="#9c9c9c"/>
<circle cx="317.73" cy="215.87" r="0.45" fill="#9c9c9c"/>
<circle cx="330.47" cy="219.05" r="0.45" fill="#9c9c9c"/>
<circle cx="323.83" cy="219.08" r="0.45" fill="#9c9c9c"/>
<circle cx="328.86" cy="215.72" r="0.45" fill="#9c9c9c"/>
<circle cx="323.26" cy="214.98" r="0.45" fill="#9c9c9c"/>
<circle cx="317.42" cy="214.82" r="0.45" fill="#9c9c9c"/>
<circle cx="332.38" cy="219.48" r="0.45" fill="#9c9c9c"/>
<circle cx="319.46" cy="214.27" r="0.45" fill="#9c9c9c"/>
<circle cx="339.67" cy="216.93" r="0.45" fill="#9c9c9c"/>
<circle cx="325.44" cy="215.31" r="0.45" fill="#9c9c9c"/>
<circle cx="330.05" cy="218.54" r="0.45" fill="#9c9c9c"/>
<circle cx="326.66" cy="216.32" r="0.45" fill="#9c9c9c"/>
<circle cx="316.86" cy="219.04" r="0.45" fill="#9c9c9c"/>
<circle cx="316.30" cy="216.71" r="0.45" fill="#9c9c9c"/>
<circle cx="336.04" cy="214.72" r="0.45" fill="#9c9c9c"/>
<circle cx="333.43" cy="219.22" r="0.45" fill="#9c9c9c"/>
<circle cx="330.94" cy="218.33" r="0.45" fill="#9c9c9c"/>
<circle cx="318.11" cy="216.39" r="0.45" fill="#9c9c9c"/>
<circle cx="319.16" cy="218.65" r="0.45" fill="#9c9c9c"/>
<circle cx="322.72" cy="216.49" r="0.45" fill="#9c9c9c"/>
<circle cx="339.98" cy="218.69" r="0.45" fill="#9c9c9c"/>
<circle cx="339.41" cy="216.49" r="0.45" fill="#9c9c9c"/>
<circle cx="327.46" cy="218.01" r="0.45" fill="#9c9c9c"/>
<circle cx="327.24" cy="215.60" r="0.45" fill="#9c9c9c"/>
<circle cx="325.39" cy="214.81" r="0.45" fill="#9c9c9c"/>
<circle cx="324.74" cy="219.44" r="0.45" fill="#9c9c9c"/>
<circle cx="339.02" cy="217.45" r="0.45" fill="#9c9c9c"/>
<circle cx="327.73" cy="215.86" r="0.45" fill="#9c9c9c"/>
<circle cx="317.68" cy="215.50" r="0.45" fill="#9c9c9c"/>
<circle cx="334.66" cy="218.77" r="0.45" fill="#9c9c9c"/>
<circle cx="324.35" cy="218.32" r="0.45" fill="#9c9c9c"/>
<circle cx="334.49" cy="217.82" r="0.45" fill="#9c9c9c"/>
<circle cx="331.77" cy="218.18" r="0.45" fill="#9c9c9c"/>
<circle cx="324.40" cy="217.87" r="0.45" fill="#9c9c9c"/>
<circle cx="322.38" cy="216.67" r="0.45" fill="#9c9c9c"/>
<circle cx="334.36" cy="217.80" r="0.45" fill="#9c9c9c"/>
<circle cx="322.70" cy="219.20" r="0.45" fill="#9c9c9c"/>
<circle cx="331.42" cy="217.19" r="0.45" fill="#9c9c9c"/>
<circle cx="315.78" cy="217.01" r="0.45" fill="#9c9c9c"/>
<circle cx="321.64" cy="217.69" r="0.45" fill="#9c9c9c"/>
<circle cx="326.84" cy="218.49" r="0.45" fill="#9c9c9c"/>
<circle cx="331.36" cy="218.39" r="0.45" fill="#9c9c9c"/>
<circle cx="324.02" cy="217.54" r="0.45" fill="#9c9c9c"/>
<circle cx="333.58" cy="218.56" r="0.45" fill="#9c9c9c"/>
<circle cx="324.08" cy="218.64" r="0.45" fill="#9c9c9c"/>
<circle cx="336.81" cy="217.79" r="0.45" fill="#9c9c9c"/>
<circle cx="339.41" cy="219.26" r="0.45" fill="#9c9c9c"/>
<circle cx="328.19" cy="216.91" r="0.45" fill="#9c9c9c"/>
<circle cx="319.57" cy="218.60" r="0.45" fill="#9c9c9c"/>
<circle cx="338.47" cy="216.62" r="0.45" fill="#9c9c9c"/>
<circle cx="332.44" cy="217.96" r="0.45" fill="#9c9c9c"/>
<circle cx="333.39" cy="214.95" r="0.45" fill="#9c9c9c"/>
<circle cx="334.62" cy="217.19" r="0.45" fill="#9c9c9c"/>
<circle cx="331.81" cy="216.31" r="0.45" fill="#9c9c9c"/>
<circle cx="330.78" cy="218.26" r="0.45" fill="#9c9c9c"/>
<circle cx="331.10" cy="217.96" r="0.45" fill="#9c9c9c"/>
<circle cx="316.18" cy="214.88" r="0.45" fill="#9c9c9c"/>
<circle cx="326.31" cy="217.58" r="0.45" fill="#9c9c9c"/>
<circle cx="320.87" cy="217.77" r="0.45" fill="#9c9c9c"/>
<circle cx="330.96" cy="214.23" r="0.45" fill="#9c9c9c"/>
<circle cx="327.05" cy="215.24" r="0.45" fill="#9c9c9c"/>
<circle cx="316.83" cy="214.73" r="0.45" fill="#9c9c9c"/>
<circle cx="323.28" cy="215.00" r="0.45" fill="#9c9c9c"/>
<circle cx="320.24" cy="214.20" r="0.45" fill="#9c9c9c"/>
<circle cx="326.90" cy="216.09" r="0.45" fill="#9c9c9c"/>
<circle cx="330.49" cy="217.25" r="0.45" fill="#9c9c9c"/>
<circle cx="321.33" cy="218.97" r="0.45" fill="#9c9c9c"/>
<circle cx="315.52" cy="216.23" r="0.45" fill="#9c9c9c"/>
<circle cx="322.32" cy="216.26" r="0.45" fill="#9c9c9c"/>
<circle cx="318.32" cy="218.57" r="0.45" fill="#9c9c9c"/>
<circle cx="324.66" cy="214.20" r="0.45" fill="#9c9c9c"/>
<circle cx="330.53" cy="214.52" r="0.45" fill="#9c9c9c"/>
<circle cx="328.86" cy="215.87" r="0.45" fill="#9c9c9c"/>
<circle cx="329.73" cy="219.27" r="0.45" fill="#9c9c9c"/>
<circle cx="335.55" cy="216.31" r="0.45" fill="#9c9c9c"/>
<circle cx="335.42" cy="217.53" r="0.45" fill="#9c9c9c"/>
<circle cx="324.55" cy="214.78" r="0.45" fill="#9c9c9c"/>
<circle cx="330.10" cy="217.10" r="0.45" fill="#9c9c9c"/>
<circle cx="330.36" cy="221.67" r="0.45" fill="#b8b8b8"/>
<circle cx="325.13" cy="221.18" r="0.45" fill="#b8b8b8"/>
<circle cx="329.40" cy="220.90" r="0.45" fill="#b8b8b8"/>
<circle cx="317.62" cy="221.35" r="0.45" fill="#b8b8b8"/>
<circle cx="325.23" cy="221.01" r="0.45" fill="#b8b8b8"/>
<circle cx="325.44" cy="221.61" r="0.45" fill="#b8b8b8"/>
<circle cx="321.64" cy="221.25" r="0.45" fill="#b8b8b8"/>
<circle cx="319.40" cy="221.13" r="0.45" fill="#b8b8b8"/>
<circle cx="330.59" cy="221.20" r="0.45" fill="#b8b8b8"/>
<circle cx="330.42" cy="221.63" r="0.45" fill="#b8b8b8"/>
<circle cx="324.94" cy="221.11" r="0.45" fill="#b8b8b8"/>
<circle cx="330.71" cy="221.30" r="0.45" fill="#b8b8b8"/>
<circle cx="322.23" cy="221.16" r="0.45" fill="#b8b8b8"/>
<circle cx="330.76" cy="221.29" r="0.45" fill="#b8b8b8"/>
<circle cx="320.30" cy="221.28" r="0.45" fill="#b8b8b8"/>
<circle cx="317.83" cy="221.40" r="0.45" fill="#b8b8b8"/>
<circle cx="322.65" cy="221.13" r="0.45" fill="#b8b8b8"/>
<circle cx="327.73" cy="221.56" r="0.45" fill="#b8b8b8"/>
<circle cx="316.20" cy="221.33" r="0.45" fill="#b8b8b8"/>
<circle cx="320.11" cy="221.65" r="0.45" fill="#b8b8b8"/>
<circle cx="327.73" cy="221.10" r="0.45" fill="#b8b8b8"/>
<circle cx="320.02" cy="221.02" r="0.45" fill="#b8b8b8"/>
<circle cx="330.83" cy="221.13" r="0.45" fill="#b8b8b8"/>
<circle cx="325.12" cy="221.28" r="0.45" fill="#b8b8b8"/>
<circle cx="325.67" cy="221.38" r="0.45" fill="#b8b8b8"/>
<circle cx="327.15" cy="220.99" r="0.45" fill="#b8b8b8"/>
<circle cx="327.41" cy="221.14" r="0.45" fill="#b8b8b8"/>
<circle cx="324.00" cy="221.17" r="0.45" fill="#b8b8b8"/>
<circle cx="320.45" cy="221.32" r="0.45" fill="#b8b8b8"/>
<circle cx="322.97" cy="221.19" r="0.45" fill="#b8b8b8"/>
<circle cx="327.18" cy="221.37" r="0.45" fill="#b8b8b8"/>
<circle cx="316.55" cy="221.10" r="0.45" fill="#b8b8b8"/>
<circle cx="322.83" cy="221.63" r="0.45" fill="#b8b8b8"/>
<circle cx="329.32" cy="221.34" r="0.45" fill="#b8b8b8"/>
<circle cx="316.22" cy="221.52" r="0.45" fill="#b8b8b8"/>
<circle cx="322.42" cy="221.36" r="0.45" fill="#b8b8b8"/>
<circle cx="326.62" cy="221.41" r="0.45" fill="#b8b8b8"/>
<circle cx="323.23" cy="221.63" r="0.45" fill="#b8b8b8"/>
<circle cx="321.78" cy="221.21" r="0.45" fill="#b8b8b8"/>
<circle cx="328.78" cy="221.06" r="0.45" fill="#b8b8b8"/>
<circle cx="320.45" cy="221.56" r="0.45" fill="#b8b8b8"/>
<circle cx="316.99" cy="221.57" r="0.45" fill="#b8b8b8"/>
<circle cx="326.42" cy="221.25" r="0.45" fill="#b8b8b8"/>
<circle cx="320.30" cy="221.52" r="0.45" fill="#b8b8b8"/>
<circle cx="329.66" cy="221.01" r="0.45" fill="#b8b8b8"/>
<circle cx="323.18" cy="221.34" r="0.45" fill="#b8b8b8"/>
<circle cx="323.47" cy="221.16" r="0.45" fill="#b8b8b8"/>
<circle cx="318.30" cy="221.37" r="0.45" fill="#b8b8b8"/>
<circle cx="328.18" cy="220.95" r="0.45" fill="#b8b8b8"/>
<circle cx="319.45" cy="221.56" r="0.45" fill="#b8b8b8"/>
<circle cx="327.88" cy="221.43" r="0.45" fill="#b8b8b8"/>
<circle cx="316.38" cy="221.48" r="0.45" fill="#b8b8b8"/>
<circle cx="330.68" cy="221.70" r="0.45" fill="#b8b8b8"/>
<circle cx="326.52" cy="220.94" r="0.45" fill="#b8b8b8"/>
<circle cx="328.63" cy="221.08" r="0.45" fill="#b8b8b8"/>
<circle cx="325.69" cy="221.66" r="0.45" fill="#b8b8b8"/>
<circle cx="326.69" cy="221.01" r="0.45" fill="#b8b8b8"/>
<circle cx="320.39" cy="221.63" r="0.45" fill="#b8b8b8"/>
<circle cx="318.25" cy="221.39" r="0.45" fill="#b8b8b8"/>
<circle cx="322.21" cy="221.03" r="0.45" fill="#b8b8b8"/>
<circle cx="333.73" cy="220.93" r="0.45" fill="#9fd08a"/>
<circle cx="330.65" cy="221.20" r="0.45" fill="#9fd08a"/>
<circle cx="330.43" cy="220.95" r="0.45" fill="#9fd08a"/>
<circle cx="333.45" cy="221.49" r="0.45" fill="#9fd08a"/>
<circle cx="335.27" cy="221.01" r="0.45" fill="#9fd08a"/>
<circle cx="332.59" cy="221.15" r="0.45" fill="#9fd08a"/>
<circle cx="333.60" cy="221.29" r="0.45" fill="#9fd08a"/>
<circle cx="335.63" cy="221.20" r="0.45" fill="#9fd08a"/>
<circle cx="314.52" cy="202.92" r="0.45" fill="#d0d0d0"/>
<circle cx="314.48" cy="204.49" r="0.45" fill="#d0d0d0"/>
<circle cx="314.65" cy="210.35" r="0.45" fill="#d0d0d0"/>
<circle cx="314.47" cy="211.16" r="0.45" fill="#d0d0d0"/>
<circle cx="314.43" cy="206.34" r="0.45" fill="#d0d0d0"/>
<circle cx="314.55" cy="206.19" r="0.45" fill="#d0d0d0"/>
<circle cx="314.18" cy="210.53" r="0.45" fill="#d0d0d0"/>
<circle cx="314.32" cy="205.87" r="0.45" fill="#d0d0d0"/>
<circle cx="314.21" cy="214.16" r="0.45" fill="#d0d0d0"/>
<circle cx="314.49" cy="213.77" r="0.45" fill="#d0d0d0"/>
<circle cx="314.50" cy="203.41" r="0.45" fill="#d0d0d0"/>
<circle cx="314.17" cy="203.50" r="0.45" fill="#d0d0d0"/>
<circle cx="314.24" cy="211.80" r="0.45" fill="#d0d0d0"/>
<circle cx="314.39" cy="216.47" r="0.45" fill="#d0d0d0"/>
<circle cx="314.58" cy="207.33" r="0.45" fill="#d0d0d0"/>
<circle cx="314.54" cy="202.49" r="0.45" fill="#d0d0d0"/>
<circle cx="314.19" cy="202.89" r="0.45" fill="#d0d0d0"/>
<circle cx="314.51" cy="217.71" r="0.45" fill="#d0d0d0"/>
<circle cx="314.17" cy="205.68" r="0.45" fill="#d0d0d0"/>
<circle cx="314.50" cy="218.05" r="0.45" fill="#d0d0d0"/>
<circle cx="314.18" cy="215.54" r="0.45" fill="#d0d0d0"/>
<circle cx="314.31" cy="212.31" r="0.45" fill="#d0d0d0"/>
<circle cx="314.30" cy="205.88" r="0.45" fill="#d0d0d0"/>
<circle cx="314.31" cy="212.13" r="0.45" fill="#d0d0d0"/>
<circle cx="314.18" cy="208.36" r="0.45" fill="#d0d0d0"/>
<circle cx="314.49" cy="215.71" r="0.45" fill="#d0d0d0"/>
<circle cx="314.36" cy="215.27" r="0.45" fill="#d0d0d0"/>
<circle cx="314.41" cy="216.05" r="0.45" fill="#d0d0d0"/>
<circle cx="314.44" cy="211.78" r="0.45" fill="#d0d0d0"/>
<circle cx="314.34" cy="214.21" r="0.45" fill="#d0d0d0"/>
<circle cx="314.12" cy="203.60" r="0.45" fill="#d0d0d0"/>
<circle cx="314.12" cy="205.34" r="0.45" fill="#d0d0d0"/>
<circle cx="314.39" cy="216.67" r="0.45" fill="#d0d0d0"/>
<circle cx="314.10" cy="214.55" r="0.45" fill="#d0d0d0"/>
<circle cx="314.63" cy="209.76" r="0.45" fill="#d0d0d0"/>
<circle cx="314.36" cy="212.22" r="0.45" fill="#d0d0d0"/>
<circle cx="314.16" cy="209.68" r="0.45" fill="#d0d0d0"/>
<circle cx="314.20" cy="204.55" r="0.45" fill="#d0d0d0"/>
<circle cx="314.33" cy="208.18" r="0.45" fill="#d0d0d0"/>
<circle cx="314.19" cy="216.53" r="0.45" fill="#d0d0d0"/>
<circle cx="314.27" cy="206.19" r="0.45" fill="#d0d0d0"/>
<circle cx="314.27" cy="204.67" r="0.45" fill="#d0d0d0"/>
<circle cx="314.39" cy="205.88" r="0.45" fill="#d0d0d0"/>
<circle cx="314.65" cy="202.53" r="0.45" fill="#d0d0d0"/>
<circle cx="314.66" cy="208.09" r="0.45" fill="#d0d0d0"/>
<circle cx="314.50" cy="213.35" r="0.45" fill="#d0d0d0"/>
<circle cx="314.67" cy="209.78" r="0.45" fill="#d0d0d0"/>
<circle cx="314.50" cy="203.95" r="0.45" fill="#d0d0d0"/>
<circle cx="314.50" cy="206.80" r="0.45" fill="#d0d0d0"/>
<circle cx="314.20" cy="214.03" r="0.45" fill="#d0d0d0"/>
<rect x="302.90" y="206.60" width="2.00" height="12.00" fill="#9c9c9c"/>
<rect x="302.90" y="191.40" width="2.00" height="15.40" fill="#7b3a92"/>
<circle cx="303.90" cy="221.30" r="0.70" fill="#9c9c9c"/>
<circle cx="303.54" cy="191.76" r="0.50" fill="#3d0b6b"/>
<circle cx="303.58" cy="192.54" r="0.50" fill="#3d0b6b"/>
<circle cx="303.78" cy="205.61" r="0.50" fill="#3d0b6b"/>
<circle cx="303.74" cy="195.95" r="0.50" fill="#3d0b6b"/>
<circle cx="303.86" cy="195.53" r="0.50" fill="#3d0b6b"/>
<circle cx="304.18" cy="201.88" r="0.50" fill="#3d0b6b"/>
<circle cx="303.50" cy="194.91" r="0.50" fill="#3d0b6b"/>
<circle cx="304.11" cy="205.13" r="0.50" fill="#3d0b6b"/>
<circle cx="304.08" cy="197.69" r="0.50" fill="#3d0b6b"/>
<circle cx="304.47" cy="191.49" r="0.50" fill="#3d0b6b"/>
<circle cx="303.37" cy="202.78" r="0.50" fill="#3d0b6b"/>
<circle cx="303.79" cy="192.06" r="0.50" fill="#3d0b6b"/>
<circle cx="303.96" cy="205.85" r="0.50" fill="#3d0b6b"/>
<circle cx="303.92" cy="196.51" r="0.50" fill="#3d0b6b"/>
<circle cx="303.41" cy="192.44" r="0.50" fill="#3d0b6b"/>
<circle cx="304.38" cy="198.57" r="0.50" fill="#3d0b6b"/>
<circle cx="304.42" cy="192.18" r="0.50" fill="#3d0b6b"/>
<circle cx="303.59" cy="192.14" r="0.50" fill="#3d0b6b"/>
<circle cx="303.78" cy="192.28" r="0.50" fill="#3d0b6b"/>
<circle cx="303.61" cy="197.35" r="0.50" fill="#3d0b6b"/>
<circle cx="303.67" cy="192.15" r="0.50" fill="#3d0b6b"/>
<circle cx="303.35" cy="205.59" r="0.50" fill="#3d0b6b"/>
<circle cx="303.52" cy="198.83" r="0.50" fill="#3d0b6b"/>
<circle cx="303.78" cy="199.16" r="0.50" fill="#3d0b6b"/>
<circle cx="303.40" cy="195.98" r="0.50" fill="#3d0b6b"/>
<circle cx="303.43" cy="199.31" r="0.50" fill="#3d0b6b"/>
<circle cx="304.41" cy="200.13" r="0.50" fill="#3d0b6b"/>
<circle cx="304.33" cy="194.53" r="0.50" fill="#3d0b6b"/>
<circle cx="303.32" cy="199.28" r="0.50" fill="#3d0b6b"/>
<circle cx="303.88" cy="199.74" r="0.50" fill="#3d0b6b"/>
<rect x="315.70" y="231.20" width="14.50" height="1.50" fill="#a8a8a8"/>
<rect x="329.30" y="231.00" width="9.50" height="1.80" fill="#1f6b3a"/>
<circle cx="313.60" cy="232.00" r="0.60" fill="#9c9c9c"/>
<circle cx="333.39" cy="232.05" r="0.50" fill="#1f6b3a"/>
<circle cx="336.53" cy="232.40" r="0.50" fill="#1f6b3a"/>
<circle cx="332.77" cy="231.84" r="0.50" fill="#1f6b3a"/>
<circle cx="337.44" cy="231.57" r="0.50" fill="#1f6b3a"/>
<circle cx="331.04" cy="231.67" r="0.50" fill="#1f6b3a"/>
<circle cx="330.79" cy="232.23" r="0.50" fill="#1f6b3a"/>
<circle cx="337.37" cy="231.68" r="0.50" fill="#1f6b3a"/>
<circle cx="331.17" cy="231.40" r="0.50" fill="#1f6b3a"/>
<circle cx="332.20" cy="231.40" r="0.50" fill="#1f6b3a"/>
<circle cx="333.86" cy="231.99" r="0.50" fill="#1f6b3a"/>
<circle cx="332.21" cy="231.37" r="0.50" fill="#1f6b3a"/>
<circle cx="336.31" cy="231.36" r="0.50" fill="#1f6b3a"/>
<circle cx="331.80" cy="231.64" r="0.50" fill="#1f6b3a"/>
<circle cx="333.36" cy="231.42" r="0.50" fill="#1f6b3a"/>
<circle cx="340.81" cy="231.71" r="0.45" fill="#5a9a6a"/>
<circle cx="342.64" cy="231.96" r="0.45" fill="#5a9a6a"/>
<circle cx="343.43" cy="232.05" r="0.45" fill="#5a9a6a"/>
<circle cx="342.68" cy="231.97" r="0.45" fill="#5a9a6a"/>
<circle cx="340.93" cy="232.22" r="0.45" fill="#5a9a6a"/>
<circle cx="342.11" cy="232.35" r="0.45" fill="#5a9a6a"/>
<circle cx="342.50" cy="232.10" r="0.45" fill="#5a9a6a"/>
<circle cx="339.97" cy="232.21" r="0.45" fill="#5a9a6a"/>
<circle cx="325.19" cy="198.86" r="0.50" fill="#7b3a92"/>
<circle cx="321.22" cy="195.81" r="0.50" fill="#7b3a92"/>
<circle cx="342.86" cy="188.09" r="0.50" fill="#7b3a92"/>
<circle cx="318.19" cy="200.76" r="0.50" fill="#a880b8"/>
<circle cx="335.51" cy="193.89" r="0.50" fill="#7b3a92"/>
<circle cx="323.79" cy="201.01" r="0.50" fill="#a880b8"/>
<circle cx="341.40" cy="192.19" r="0.50" fill="#7b3a92"/>
<circle cx="340.90" cy="190.11" r="0.50" fill="#a880b8"/>
<circle cx="317.99" cy="201.31" r="0.50" fill="#7b3a92"/>
<circle cx="327.92" cy="195.10" r="0.50" fill="#a880b8"/>
<circle cx="331.97" cy="189.16" r="0.50" fill="#7b3a92"/>
<circle cx="345.65" cy="187.72" r="0.50" fill="#a880b8"/>
<circle cx="316.13" cy="199.32" r="0.50" fill="#a880b8"/>
<circle cx="325.79" cy="197.87" r="0.50" fill="#7b3a92"/>
<circle cx="333.49" cy="193.77" r="0.50" fill="#7b3a92"/>
<circle cx="324.96" cy="198.38" r="0.50" fill="#a880b8"/>
<circle cx="348.00" cy="184.77" r="0.50" fill="#7b3a92"/>
<circle cx="346.61" cy="186.43" r="0.50" fill="#7b3a92"/>
<circle cx="317.58" cy="197.37" r="0.50" fill="#7b3a92"/>
<circle cx="345.33" cy="188.85" r="0.50" fill="#a880b8"/>
<circle cx="335.99" cy="189.25" r="0.50" fill="#7b3a92"/>
<circle cx="330.63" cy="192.68" r="0.50" fill="#7b3a92"/>
<circle cx="323.06" cy="201.13" r="0.50" fill="#7b3a92"/>
<circle cx="329.30" cy="192.20" r="0.50" fill="#a880b8"/>
<circle cx="346.36" cy="184.41" r="0.50" fill="#7b3a92"/>
<circle cx="331.92" cy="190.53" r="0.50" fill="#7b3a92"/>
<circle cx="338.70" cy="190.22" r="0.50" fill="#7b3a92"/>
<circle cx="317.04" cy="201.22" r="0.50" fill="#a880b8"/>
<circle cx="341.15" cy="190.99" r="0.50" fill="#7b3a92"/>
<circle cx="341.06" cy="192.63" r="0.50" fill="#7b3a92"/>
<circle cx="354.56" cy="178.28" r="0.50" fill="#a880b8"/>
<circle cx="341.70" cy="188.28" r="0.50" fill="#7b3a92"/>
<circle cx="351.24" cy="184.77" r="0.50" fill="#7b3a92"/>
<circle cx="325.93" cy="199.80" r="0.50" fill="#7b3a92"/>
<circle cx="338.00" cy="187.93" r="0.50" fill="#7b3a92"/>
<circle cx="325.97" cy="198.97" r="0.50" fill="#7b3a92"/>
<circle cx="341.15" cy="190.49" r="0.50" fill="#7b3a92"/>
<circle cx="322.96" cy="199.05" r="0.50" fill="#a880b8"/>
<circle cx="318.98" cy="197.52" r="0.50" fill="#7b3a92"/>
<circle cx="316.88" cy="199.25" r="0.50" fill="#a880b8"/>
<circle cx="341.36" cy="189.89" r="0.50" fill="#7b3a92"/>
<circle cx="351.05" cy="183.99" r="0.50" fill="#7b3a92"/>
<circle cx="354.49" cy="181.57" r="0.50" fill="#7b3a92"/>
<circle cx="332.93" cy="191.76" r="0.50" fill="#7b3a92"/>
<circle cx="334.93" cy="190.91" r="0.50" fill="#7b3a92"/>
<circle cx="316.86" cy="200.10" r="0.50" fill="#a880b8"/>
<circle cx="323.43" cy="193.28" r="0.50" fill="#a880b8"/>
<circle cx="320.75" cy="196.08" r="0.50" fill="#7b3a92"/>
<circle cx="316.87" cy="202.77" r="0.50" fill="#7b3a92"/>
<circle cx="317.94" cy="197.87" r="0.50" fill="#a880b8"/>
<circle cx="342.17" cy="186.90" r="0.50" fill="#7b3a92"/>
<circle cx="352.53" cy="179.39" r="0.50" fill="#a880b8"/>
<circle cx="316.83" cy="203.67" r="0.50" fill="#7b3a92"/>
<circle cx="325.50" cy="195.99" r="0.50" fill="#7b3a92"/>
<circle cx="316.94" cy="200.76" r="0.50" fill="#7b3a92"/>
<circle cx="317.43" cy="198.44" r="0.50" fill="#7b3a92"/>
<circle cx="330.68" cy="189.70" r="0.50" fill="#7b3a92"/>
<circle cx="342.92" cy="187.06" r="0.50" fill="#7b3a92"/>
<circle cx="329.76" cy="195.18" r="0.50" fill="#a880b8"/>
<circle cx="325.61" cy="197.40" r="0.50" fill="#7b3a92"/>
<circle cx="344.50" cy="187.38" r="0.50" fill="#7b3a92"/>
<circle cx="347.55" cy="185.47" r="0.50" fill="#7b3a92"/>
<circle cx="320.24" cy="196.26" r="0.50" fill="#7b3a92"/>
<circle cx="317.61" cy="199.88" r="0.50" fill="#7b3a92"/>
<circle cx="325.36" cy="191.41" r="0.50" fill="#7b3a92"/>
<circle cx="346.17" cy="190.56" r="0.50" fill="#7b3a92"/>
<circle cx="315.94" cy="202.82" r="0.50" fill="#7b3a92"/>
<circle cx="330.89" cy="197.11" r="0.50" fill="#a880b8"/>
<circle cx="327.59" cy="194.71" r="0.50" fill="#7b3a92"/>
<circle cx="354.25" cy="179.50" r="0.50" fill="#7b3a92"/>
<circle cx="325.95" cy="192.72" r="0.50" fill="#7b3a92"/>
<circle cx="351.27" cy="182.13" r="0.50" fill="#7b3a92"/>
<circle cx="315.96" cy="197.35" r="0.50" fill="#a880b8"/>
<circle cx="346.61" cy="184.02" r="0.50" fill="#a880b8"/>
<circle cx="342.58" cy="185.96" r="0.50" fill="#a880b8"/>
<circle cx="327.67" cy="190.51" r="0.50" fill="#7b3a92"/>
<circle cx="327.11" cy="196.82" r="0.50" fill="#7b3a92"/>
<circle cx="337.93" cy="193.49" r="0.50" fill="#7b3a92"/>
<circle cx="317.12" cy="201.08" r="0.50" fill="#a880b8"/>
<circle cx="319.81" cy="203.31" r="0.50" fill="#a880b8"/>
<circle cx="334.69" cy="194.89" r="0.50" fill="#a880b8"/>
<circle cx="352.90" cy="183.89" r="0.50" fill="#7b3a92"/>
<circle cx="321.43" cy="194.99" r="0.50" fill="#a880b8"/>
<circle cx="318.81" cy="198.86" r="0.50" fill="#7b3a92"/>
<circle cx="317.15" cy="203.73" r="0.50" fill="#7b3a92"/>
<circle cx="325.18" cy="195.93" r="0.50" fill="#a880b8"/>
<circle cx="320.52" cy="197.18" r="0.50" fill="#7b3a92"/>
<circle cx="341.59" cy="191.80" r="0.50" fill="#7b3a92"/>
<circle cx="315.85" cy="197.39" r="0.50" fill="#7b3a92"/>
<circle cx="335.06" cy="189.50" r="0.50" fill="#7b3a92"/>
<circle cx="316.05" cy="201.30" r="0.50" fill="#7b3a92"/>
<circle cx="322.73" cy="197.44" r="0.50" fill="#a880b8"/>
<circle cx="325.38" cy="195.41" r="0.50" fill="#a880b8"/>
<circle cx="353.74" cy="178.11" r="0.50" fill="#7b3a92"/>
<circle cx="352.82" cy="183.92" r="0.50" fill="#7b3a92"/>
<circle cx="332.13" cy="194.08" r="0.50" fill="#7b3a92"/>
<circle cx="332.38" cy="190.06" r="0.50" fill="#7b3a92"/>
<circle cx="329.89" cy="193.12" r="0.50" fill="#7b3a92"/>
<circle cx="316.34" cy="204.25" r="0.50" fill="#7b3a92"/>
<circle cx="354.79" cy="181.13" r="0.50" fill="#a880b8"/>
<circle cx="342.45" cy="190.66" r="0.50" fill="#7b3a92"/>
<circle cx="325.60" cy="194.17" r="0.50" fill="#7b3a92"/>
<circle cx="350.02" cy="184.57" r="0.50" fill="#7b3a92"/>
<circle cx="318.23" cy="203.80" r="0.50" fill="#7b3a92"/>
<circle cx="316.26" cy="205.02" r="0.50" fill="#7b3a92"/>
<circle cx="349.42" cy="187.23" r="0.50" fill="#7b3a92"/>
<circle cx="341.18" cy="188.67" r="0.50" fill="#7b3a92"/>
<circle cx="353.46" cy="182.87" r="0.50" fill="#7b3a92"/>
<circle cx="317.02" cy="204.16" r="0.50" fill="#7b3a92"/>
<circle cx="350.10" cy="182.15" r="0.50" fill="#7b3a92"/>
<circle cx="348.00" cy="188.16" r="0.50" fill="#7b3a92"/>
<circle cx="322.87" cy="201.73" r="0.50" fill="#7b3a92"/>
<circle cx="350.76" cy="183.18" r="0.50" fill="#7b3a92"/>
<circle cx="321.16" cy="193.16" r="0.50" fill="#7b3a92"/>
<circle cx="324.44" cy="199.94" r="0.50" fill="#7b3a92"/>
<circle cx="337.11" cy="193.49" r="0.50" fill="#7b3a92"/>
<circle cx="339.39" cy="190.61" r="0.50" fill="#a880b8"/>
<circle cx="318.16" cy="201.50" r="0.50" fill="#7b3a92"/>
<circle cx="351.16" cy="182.74" r="0.50" fill="#7b3a92"/>
<circle cx="344.24" cy="185.76" r="0.50" fill="#7b3a92"/>
<circle cx="321.71" cy="198.97" r="0.50" fill="#7b3a92"/>
<circle cx="336.88" cy="190.38" r="0.50" fill="#7b3a92"/>
<circle cx="343.27" cy="189.44" r="0.50" fill="#7b3a92"/>
<circle cx="347.34" cy="185.25" r="0.50" fill="#a880b8"/>
<circle cx="325.91" cy="194.18" r="0.50" fill="#7b3a92"/>
<circle cx="326.22" cy="196.52" r="0.50" fill="#7b3a92"/>
<circle cx="341.22" cy="190.19" r="0.50" fill="#7b3a92"/>
<circle cx="323.15" cy="199.97" r="0.50" fill="#a880b8"/>
<circle cx="350.38" cy="183.20" r="0.50" fill="#7b3a92"/>
<circle cx="320.39" cy="202.76" r="0.50" fill="#7b3a92"/>
<circle cx="317.79" cy="199.41" r="0.50" fill="#a880b8"/>
<circle cx="329.25" cy="197.58" r="0.50" fill="#7b3a92"/>
<circle cx="332.58" cy="196.48" r="0.50" fill="#7b3a92"/>
<circle cx="327.84" cy="196.56" r="0.50" fill="#a880b8"/>
<circle cx="327.42" cy="197.27" r="0.50" fill="#a880b8"/>
<circle cx="326.01" cy="194.25" r="0.50" fill="#7b3a92"/>
<circle cx="345.55" cy="187.17" r="0.50" fill="#7b3a92"/>
<circle cx="353.24" cy="181.43" r="0.50" fill="#a880b8"/>
<circle cx="333.56" cy="192.41" r="0.50" fill="#7b3a92"/>
<circle cx="321.49" cy="197.91" r="0.50" fill="#7b3a92"/>
<circle cx="318.12" cy="202.30" r="0.50" fill="#7b3a92"/>
<circle cx="316.88" cy="194.45" r="0.50" fill="#7b3a92"/>
<circle cx="317.12" cy="200.26" r="0.50" fill="#a880b8"/>
<circle cx="318.21" cy="196.90" r="0.50" fill="#7b3a92"/>
<circle cx="320.65" cy="199.10" r="0.50" fill="#7b3a92"/>
<circle cx="317.49" cy="196.67" r="0.50" fill="#7b3a92"/>
<circle cx="337.27" cy="191.35" r="0.50" fill="#a880b8"/>
<circle cx="322.43" cy="198.83" r="0.50" fill="#7b3a92"/>
<circle cx="327.57" cy="195.55" r="0.50" fill="#7b3a92"/>
<circle cx="337.92" cy="188.97" r="0.50" fill="#7b3a92"/>
<circle cx="353.93" cy="182.04" r="0.50" fill="#7b3a92"/>
<circle cx="327.30" cy="191.73" r="0.50" fill="#7b3a92"/>
<circle cx="341.84" cy="189.18" r="0.50" fill="#7b3a92"/>
<circle cx="345.08" cy="189.96" r="0.50" fill="#7b3a92"/>
<circle cx="345.14" cy="186.05" r="0.50" fill="#7b3a92"/>
<circle cx="331.61" cy="193.22" r="0.50" fill="#7b3a92"/>
<circle cx="355.17" cy="177.73" r="0.50" fill="#a880b8"/>
<circle cx="337.63" cy="191.88" r="0.50" fill="#7b3a92"/>
<circle cx="321.94" cy="202.11" r="0.50" fill="#7b3a92"/>
<circle cx="342.18" cy="188.92" r="0.50" fill="#7b3a92"/>
<circle cx="341.91" cy="190.03" r="0.50" fill="#a880b8"/>
<circle cx="327.64" cy="192.78" r="0.50" fill="#7b3a92"/>
<circle cx="347.13" cy="188.14" r="0.50" fill="#7b3a92"/>
<circle cx="343.42" cy="191.10" r="0.50" fill="#7b3a92"/>
<circle cx="345.49" cy="187.71" r="0.50" fill="#7b3a92"/>
<circle cx="345.17" cy="185.98" r="0.50" fill="#a880b8"/>
<circle cx="336.03" cy="190.05" r="0.50" fill="#7b3a92"/>
<circle cx="316.51" cy="196.16" r="0.50" fill="#7b3a92"/>
<circle cx="316.20" cy="201.57" r="0.50" fill="#7b3a92"/>
<circle cx="316.50" cy="202.61" r="0.50" fill="#7b3a92"/>
<circle cx="328.23" cy="191.88" r="0.50" fill="#7b3a92"/>
<circle cx="331.88" cy="192.60" r="0.50" fill="#7b3a92"/>
<circle cx="355.08" cy="174.87" r="0.50" fill="#7b3a92"/>
<circle cx="344.23" cy="186.57" r="0.50" fill="#7b3a92"/>
<circle cx="332.45" cy="191.22" r="0.50" fill="#7b3a92"/>
<circle cx="332.70" cy="192.81" r="0.50" fill="#7b3a92"/>
<circle cx="334.63" cy="189.03" r="0.50" fill="#7b3a92"/>
<circle cx="344.40" cy="183.91" r="0.50" fill="#7b3a92"/>
<circle cx="343.97" cy="184.51" r="0.50" fill="#7b3a92"/>
<circle cx="351.69" cy="177.70" r="0.50" fill="#7b3a92"/>
<circle cx="348.49" cy="182.56" r="0.50" fill="#7b3a92"/>
<circle cx="343.02" cy="185.41" r="0.50" fill="#7b3a92"/>
<circle cx="352.18" cy="178.09" r="0.50" fill="#7b3a92"/>
<circle cx="334.12" cy="191.55" r="0.50" fill="#7b3a92"/>
<circle cx="329.36" cy="193.32" r="0.50" fill="#7b3a92"/>
<circle cx="343.93" cy="184.51" r="0.50" fill="#7b3a92"/>
<circle cx="323.79" cy="194.95" r="0.50" fill="#7b3a92"/>
<circle cx="350.44" cy="180.99" r="0.50" fill="#7b3a92"/>
<circle cx="319.79" cy="196.90" r="0.50" fill="#7b3a92"/>
<circle cx="330.79" cy="193.14" r="0.50" fill="#7b3a92"/>
<circle cx="314.01" cy="198.05" r="0.50" fill="#7b3a92"/>
<circle cx="313.52" cy="200.98" r="0.50" fill="#7b3a92"/>
<circle cx="313.37" cy="198.04" r="0.50" fill="#7b3a92"/>
<circle cx="314.92" cy="204.70" r="0.50" fill="#7b3a92"/>
<circle cx="315.92" cy="200.28" r="0.50" fill="#7b3a92"/>
<circle cx="316.24" cy="198.56" r="0.50" fill="#7b3a92"/>
<circle cx="313.53" cy="198.05" r="0.50" fill="#7b3a92"/>
<circle cx="313.20" cy="202.21" r="0.50" fill="#7b3a92"/>
<circle cx="315.65" cy="201.34" r="0.50" fill="#7b3a92"/>
<circle cx="315.81" cy="201.16" r="0.50" fill="#7b3a92"/>
<circle cx="316.22" cy="202.26" r="0.50" fill="#7b3a92"/>
<circle cx="314.88" cy="199.19" r="0.50" fill="#7b3a92"/>
<circle cx="314.49" cy="201.08" r="0.50" fill="#7b3a92"/>
<circle cx="315.88" cy="199.61" r="0.50" fill="#7b3a92"/>
<circle cx="335.86" cy="206.84" r="0.50" fill="#9fd08a"/>
<circle cx="336.68" cy="209.38" r="0.50" fill="#9fd08a"/>
<circle cx="348.28" cy="189.87" r="0.50" fill="#9fd08a"/>
<circle cx="351.09" cy="187.21" r="0.50" fill="#9fd08a"/>
<circle cx="343.96" cy="198.32" r="0.50" fill="#9fd08a"/>
<circle cx="346.69" cy="193.21" r="0.50" fill="#9fd08a"/>
<circle cx="340.33" cy="200.86" r="0.50" fill="#9fd08a"/>
<circle cx="332.53" cy="215.47" r="0.50" fill="#9fd08a"/>
<circle cx="335.93" cy="214.69" r="0.50" fill="#9fd08a"/>
<circle cx="336.08" cy="214.28" r="0.50" fill="#9fd08a"/>
<circle cx="339.75" cy="204.87" r="0.50" fill="#9fd08a"/>
<circle cx="337.01" cy="214.78" r="0.50" fill="#9fd08a"/>
<circle cx="343.51" cy="200.25" r="0.50" fill="#9fd08a"/>
<circle cx="339.02" cy="207.16" r="0.50" fill="#9fd08a"/>
<circle cx="340.59" cy="204.80" r="0.50" fill="#9fd08a"/>
<circle cx="342.04" cy="200.48" r="0.50" fill="#9fd08a"/>
<circle cx="340.65" cy="201.95" r="0.50" fill="#9fd08a"/>
<circle cx="338.52" cy="206.44" r="0.50" fill="#9fd08a"/>
<circle cx="336.46" cy="211.08" r="0.50" fill="#9fd08a"/>
<circle cx="336.10" cy="213.75" r="0.50" fill="#9fd08a"/>
<circle cx="332.87" cy="215.42" r="0.50" fill="#9fd08a"/>
<circle cx="331.57" cy="216.97" r="0.50" fill="#9fd08a"/>
<circle cx="349.76" cy="191.31" r="0.50" fill="#9fd08a"/>
<circle cx="344.70" cy="193.88" r="0.50" fill="#9fd08a"/>
<circle cx="336.63" cy="206.20" r="0.50" fill="#9fd08a"/>
<circle cx="341.59" cy="204.23" r="0.50" fill="#9fd08a"/>
<circle cx="345.30" cy="202.64" r="0.50" fill="#9fd08a"/>
<circle cx="349.32" cy="188.60" r="0.50" fill="#9fd08a"/>
<circle cx="337.32" cy="211.52" r="0.50" fill="#9fd08a"/>
<circle cx="336.65" cy="208.48" r="0.50" fill="#9fd08a"/>
<circle cx="339.51" cy="200.77" r="0.50" fill="#9fd08a"/>
<circle cx="347.27" cy="192.42" r="0.50" fill="#9fd08a"/>
<circle cx="347.37" cy="198.31" r="0.50" fill="#9fd08a"/>
<circle cx="337.32" cy="205.49" r="0.50" fill="#9fd08a"/>
<circle cx="332.25" cy="216.72" r="0.50" fill="#9fd08a"/>
<circle cx="335.47" cy="216.98" r="0.50" fill="#9fd08a"/>
<circle cx="334.18" cy="209.35" r="0.50" fill="#9fd08a"/>
<circle cx="338.57" cy="210.63" r="0.50" fill="#9fd08a"/>
<circle cx="335.82" cy="216.15" r="0.50" fill="#9fd08a"/>
<circle cx="356.34" cy="181.72" r="0.50" fill="#9fd08a"/>
<circle cx="333.34" cy="211.46" r="0.50" fill="#9fd08a"/>
<circle cx="346.62" cy="189.73" r="0.50" fill="#9fd08a"/>
<circle cx="356.36" cy="185.00" r="0.50" fill="#9fd08a"/>
<circle cx="354.15" cy="182.38" r="0.50" fill="#9fd08a"/>
<circle cx="336.42" cy="207.25" r="0.50" fill="#9fd08a"/>
<circle cx="333.32" cy="213.60" r="0.50" fill="#9fd08a"/>
<circle cx="358.28" cy="180.75" r="0.50" fill="#9fd08a"/>
<circle cx="344.91" cy="194.80" r="0.50" fill="#9fd08a"/>
<circle cx="351.09" cy="193.11" r="0.50" fill="#9fd08a"/>
<circle cx="335.31" cy="212.29" r="0.50" fill="#9fd08a"/>
<circle cx="331.42" cy="217.99" r="0.50" fill="#9fd08a"/>
<circle cx="346.44" cy="192.35" r="0.50" fill="#9fd08a"/>
<circle cx="338.17" cy="210.40" r="0.50" fill="#9fd08a"/>
<circle cx="348.40" cy="190.89" r="0.50" fill="#9fd08a"/>
<circle cx="344.53" cy="193.21" r="0.50" fill="#9fd08a"/>
<circle cx="340.04" cy="200.25" r="0.50" fill="#9fd08a"/>
<circle cx="339.12" cy="205.08" r="0.50" fill="#9fd08a"/>
<circle cx="338.44" cy="206.66" r="0.50" fill="#9fd08a"/>
<circle cx="338.07" cy="206.21" r="0.50" fill="#9fd08a"/>
<circle cx="346.62" cy="192.97" r="0.50" fill="#9fd08a"/>
<circle cx="337.71" cy="210.29" r="0.50" fill="#9fd08a"/>
<circle cx="340.65" cy="198.47" r="0.50" fill="#9fd08a"/>
<circle cx="336.99" cy="211.67" r="0.50" fill="#9fd08a"/>
<circle cx="339.71" cy="204.06" r="0.50" fill="#9fd08a"/>
<circle cx="338.20" cy="209.36" r="0.50" fill="#9fd08a"/>
<circle cx="336.91" cy="207.92" r="0.50" fill="#9fd08a"/>
<circle cx="347.39" cy="192.05" r="0.50" fill="#9fd08a"/>
<circle cx="353.98" cy="187.45" r="0.50" fill="#9fd08a"/>
<circle cx="342.18" cy="198.63" r="0.50" fill="#9fd08a"/>
<circle cx="340.04" cy="204.07" r="0.50" fill="#9fd08a"/>
<circle cx="356.25" cy="181.96" r="0.50" fill="#9fd08a"/>
<circle cx="337.00" cy="208.91" r="0.50" fill="#9fd08a"/>
<circle cx="349.65" cy="188.58" r="0.50" fill="#9fd08a"/>
<circle cx="348.74" cy="190.27" r="0.50" fill="#9fd08a"/>
<circle cx="343.53" cy="200.74" r="0.50" fill="#9fd08a"/>
<circle cx="350.73" cy="190.43" r="0.50" fill="#9fd08a"/>
<circle cx="348.37" cy="192.98" r="0.50" fill="#9fd08a"/>
<circle cx="335.40" cy="212.88" r="0.50" fill="#9fd08a"/>
<circle cx="358.31" cy="180.01" r="0.50" fill="#9fd08a"/>
<circle cx="345.99" cy="201.83" r="0.50" fill="#9fd08a"/>
<circle cx="338.86" cy="205.42" r="0.50" fill="#9fd08a"/>
<circle cx="350.91" cy="193.66" r="0.50" fill="#9fd08a"/>
<circle cx="343.32" cy="198.97" r="0.50" fill="#9fd08a"/>
<circle cx="336.20" cy="216.55" r="0.50" fill="#9fd08a"/>
<circle cx="335.15" cy="216.60" r="0.50" fill="#9fd08a"/>
<circle cx="336.72" cy="206.81" r="0.50" fill="#9fd08a"/>
<circle cx="348.14" cy="195.76" r="0.50" fill="#9fd08a"/>
<circle cx="334.75" cy="207.83" r="0.50" fill="#9fd08a"/>
<circle cx="336.12" cy="213.03" r="0.50" fill="#9fd08a"/>
<circle cx="338.28" cy="204.56" r="0.50" fill="#9fd08a"/>
<circle cx="342.30" cy="199.26" r="0.50" fill="#9fd08a"/>
<circle cx="333.06" cy="212.72" r="0.50" fill="#9fd08a"/>
<circle cx="351.66" cy="187.91" r="0.50" fill="#9fd08a"/>
<circle cx="358.05" cy="180.86" r="0.50" fill="#9fd08a"/>
<circle cx="334.80" cy="218.59" r="0.50" fill="#9fd08a"/>
<circle cx="347.04" cy="189.04" r="0.50" fill="#9fd08a"/>
<circle cx="346.79" cy="199.66" r="0.50" fill="#9fd08a"/>
<circle cx="357.29" cy="178.88" r="0.50" fill="#9fd08a"/>
<circle cx="340.72" cy="201.37" r="0.50" fill="#9fd08a"/>
<circle cx="355.47" cy="181.15" r="0.50" fill="#9fd08a"/>
<circle cx="334.94" cy="208.54" r="0.50" fill="#9fd08a"/>
<circle cx="358.72" cy="179.09" r="0.50" fill="#9fd08a"/>
<circle cx="347.04" cy="191.46" r="0.50" fill="#9fd08a"/>
<circle cx="332.59" cy="216.84" r="0.50" fill="#9fd08a"/>
<circle cx="346.50" cy="191.53" r="0.50" fill="#9fd08a"/>
<circle cx="344.18" cy="198.92" r="0.50" fill="#9fd08a"/>
<circle cx="335.40" cy="215.85" r="0.50" fill="#9fd08a"/>
<circle cx="335.67" cy="207.32" r="0.50" fill="#9fd08a"/>
<circle cx="353.79" cy="181.25" r="0.50" fill="#9fd08a"/>
<circle cx="350.43" cy="185.01" r="0.50" fill="#9fd08a"/>
<circle cx="332.13" cy="215.92" r="0.50" fill="#9fd08a"/>
<circle cx="357.40" cy="183.23" r="0.50" fill="#9fd08a"/>
<circle cx="339.46" cy="213.16" r="0.50" fill="#9fd08a"/>
<circle cx="355.65" cy="183.15" r="0.50" fill="#9fd08a"/>
<circle cx="357.21" cy="182.03" r="0.50" fill="#9fd08a"/>
<circle cx="334.41" cy="216.00" r="0.50" fill="#9fd08a"/>
<circle cx="347.17" cy="191.31" r="0.50" fill="#9fd08a"/>
<circle cx="335.40" cy="211.58" r="0.50" fill="#9fd08a"/>
<circle cx="339.17" cy="208.00" r="0.50" fill="#9fd08a"/>
<circle cx="351.48" cy="189.03" r="0.50" fill="#9fd08a"/>
<circle cx="335.14" cy="214.98" r="0.50" fill="#9fd08a"/>
<circle cx="347.02" cy="194.02" r="0.50" fill="#9fd08a"/>
<circle cx="334.03" cy="210.32" r="0.50" fill="#9fd08a"/>
<circle cx="359.50" cy="180.62" r="0.50" fill="#9fd08a"/>
<circle cx="337.38" cy="207.10" r="0.50" fill="#9fd08a"/>
<circle cx="355.31" cy="183.36" r="0.50" fill="#9fd08a"/>
<circle cx="335.64" cy="209.53" r="0.50" fill="#9fd08a"/>
<circle cx="337.99" cy="206.48" r="0.50" fill="#9fd08a"/>
<circle cx="349.86" cy="191.42" r="0.50" fill="#9fd08a"/>
<circle cx="354.54" cy="187.16" r="0.50" fill="#9fd08a"/>
<circle cx="349.19" cy="187.06" r="0.50" fill="#9fd08a"/>
<circle cx="335.90" cy="212.10" r="0.50" fill="#9fd08a"/>
<circle cx="334.77" cy="208.56" r="0.50" fill="#9fd08a"/>
<circle cx="340.09" cy="204.70" r="0.50" fill="#9fd08a"/>
<circle cx="350.56" cy="190.36" r="0.50" fill="#9fd08a"/>
<circle cx="344.11" cy="195.83" r="0.50" fill="#9fd08a"/>
<circle cx="344.26" cy="194.62" r="0.50" fill="#9fd08a"/>
<circle cx="338.68" cy="206.92" r="0.50" fill="#9fd08a"/>
<circle cx="339.27" cy="208.13" r="0.50" fill="#9fd08a"/>
<circle cx="342.70" cy="199.55" r="0.50" fill="#9fd08a"/>
<circle cx="334.12" cy="215.59" r="0.50" fill="#9fd08a"/>
<circle cx="359.32" cy="180.16" r="0.50" fill="#9fd08a"/>
<circle cx="342.56" cy="198.66" r="0.50" fill="#9fd08a"/>
<circle cx="348.13" cy="188.78" r="0.50" fill="#9fd08a"/>
<circle cx="343.75" cy="197.69" r="0.50" fill="#9fd08a"/>
<circle cx="343.28" cy="195.86" r="0.50" fill="#9fd08a"/>
<circle cx="340.52" cy="204.87" r="0.50" fill="#9fd08a"/>
<circle cx="348.26" cy="188.43" r="0.50" fill="#9fd08a"/>
<circle cx="337.06" cy="209.71" r="0.50" fill="#9fd08a"/>
<circle cx="333.89" cy="218.50" r="0.50" fill="#9fd08a"/>
<circle cx="359.07" cy="179.36" r="0.50" fill="#9fd08a"/>
<circle cx="343.84" cy="195.51" r="0.50" fill="#9fd08a"/>
<circle cx="349.68" cy="194.38" r="0.50" fill="#9fd08a"/>
<circle cx="346.63" cy="192.43" r="0.50" fill="#9fd08a"/>
<circle cx="345.81" cy="191.08" r="0.50" fill="#9fd08a"/>
<circle cx="340.02" cy="204.24" r="0.50" fill="#9fd08a"/>
<circle cx="350.56" cy="186.34" r="0.50" fill="#9fd08a"/>
<circle cx="349.57" cy="191.06" r="0.50" fill="#9fd08a"/>
<circle cx="348.64" cy="196.90" r="0.50" fill="#9fd08a"/>
<circle cx="352.96" cy="186.28" r="0.50" fill="#9fd08a"/>
<circle cx="349.63" cy="191.96" r="0.50" fill="#9fd08a"/>
<circle cx="340.88" cy="202.60" r="0.50" fill="#9fd08a"/>
<circle cx="350.65" cy="185.24" r="0.50" fill="#9fd08a"/>
<circle cx="342.06" cy="198.45" r="0.50" fill="#9fd08a"/>
<circle cx="341.97" cy="204.27" r="0.50" fill="#9fd08a"/>
<circle cx="352.28" cy="183.68" r="0.50" fill="#9fd08a"/>
<circle cx="353.10" cy="182.68" r="0.50" fill="#9fd08a"/>
<circle cx="355.16" cy="180.23" r="0.50" fill="#9fd08a"/>
<circle cx="344.22" cy="193.35" r="0.50" fill="#9fd08a"/>
<circle cx="335.05" cy="208.34" r="0.50" fill="#9fd08a"/>
<circle cx="348.09" cy="191.71" r="0.50" fill="#9fd08a"/>
<circle cx="351.17" cy="187.23" r="0.50" fill="#9fd08a"/>
<circle cx="349.65" cy="186.20" r="0.50" fill="#9fd08a"/>
<circle cx="353.44" cy="185.49" r="0.50" fill="#9fd08a"/>
<circle cx="351.66" cy="184.13" r="0.50" fill="#9fd08a"/>
<circle cx="349.81" cy="187.91" r="0.50" fill="#9fd08a"/>
<circle cx="342.82" cy="203.75" r="0.50" fill="#9fd08a"/>
<circle cx="360.49" cy="179.04" r="0.50" fill="#9fd08a"/>
<circle cx="348.96" cy="189.71" r="0.50" fill="#9fd08a"/>
<circle cx="335.95" cy="207.37" r="0.50" fill="#9fd08a"/>
<circle cx="345.85" cy="196.49" r="0.50" fill="#9fd08a"/>
<circle cx="354.17" cy="181.73" r="0.50" fill="#9fd08a"/>
<circle cx="341.32" cy="206.29" r="0.50" fill="#9fd08a"/>
<circle cx="356.24" cy="179.67" r="0.50" fill="#9fd08a"/>
<circle cx="334.51" cy="211.53" r="0.50" fill="#9fd08a"/>
<circle cx="346.89" cy="191.27" r="0.50" fill="#9fd08a"/>
<circle cx="334.53" cy="212.43" r="0.50" fill="#9fd08a"/>
<circle cx="344.65" cy="197.52" r="0.50" fill="#9fd08a"/>
<circle cx="357.22" cy="184.24" r="0.50" fill="#9fd08a"/>
<circle cx="357.20" cy="181.58" r="0.50" fill="#9fd08a"/>
<circle cx="345.11" cy="196.89" r="0.50" fill="#9fd08a"/>
<circle cx="353.06" cy="182.94" r="0.50" fill="#9fd08a"/>
<circle cx="336.60" cy="207.92" r="0.50" fill="#9fd08a"/>
<circle cx="334.40" cy="218.75" r="0.50" fill="#9fd08a"/>
<circle cx="348.51" cy="191.66" r="0.50" fill="#9fd08a"/>
<circle cx="350.56" cy="187.57" r="0.50" fill="#9fd08a"/>
<circle cx="343.38" cy="196.76" r="0.50" fill="#9fd08a"/>
<circle cx="347.72" cy="199.61" r="0.50" fill="#9fd08a"/>
<circle cx="354.55" cy="180.59" r="0.50" fill="#9fd08a"/>
<circle cx="350.39" cy="185.28" r="0.50" fill="#9fd08a"/>
<circle cx="335.23" cy="208.82" r="0.50" fill="#9fd08a"/>
<circle cx="336.29" cy="210.46" r="0.50" fill="#9fd08a"/>
<circle cx="353.35" cy="185.64" r="0.50" fill="#9fd08a"/>
<circle cx="348.75" cy="189.37" r="0.50" fill="#9fd08a"/>
<circle cx="343.38" cy="203.24" r="0.50" fill="#9fd08a"/>
<circle cx="345.17" cy="193.54" r="0.50" fill="#9fd08a"/>
<circle cx="349.43" cy="187.04" r="0.50" fill="#9fd08a"/>
<circle cx="343.62" cy="200.38" r="0.50" fill="#9fd08a"/>
<circle cx="337.43" cy="207.12" r="0.50" fill="#9fd08a"/>
<circle cx="340.81" cy="203.31" r="0.50" fill="#9fd08a"/>
<circle cx="353.56" cy="182.88" r="0.50" fill="#9fd08a"/>
<circle cx="344.54" cy="196.44" r="0.50" fill="#9fd08a"/>
<circle cx="337.34" cy="210.81" r="0.50" fill="#9fd08a"/>
<circle cx="339.19" cy="205.49" r="0.50" fill="#9fd08a"/>
<circle cx="337.45" cy="206.80" r="0.50" fill="#9fd08a"/>
<circle cx="353.30" cy="183.69" r="0.50" fill="#9fd08a"/>
<circle cx="346.36" cy="192.43" r="0.50" fill="#9fd08a"/>
<circle cx="333.78" cy="212.72" r="0.50" fill="#9fd08a"/>
<circle cx="340.06" cy="201.04" r="0.50" fill="#9fd08a"/>
<circle cx="334.24" cy="216.84" r="0.50" fill="#9fd08a"/>
<circle cx="337.95" cy="210.46" r="0.50" fill="#9fd08a"/>
<circle cx="350.75" cy="190.53" r="0.50" fill="#9fd08a"/>
<circle cx="352.24" cy="182.92" r="0.50" fill="#9fd08a"/>
<circle cx="346.61" cy="190.99" r="0.50" fill="#9fd08a"/>
<circle cx="353.26" cy="182.03" r="0.50" fill="#9fd08a"/>
<circle cx="359.20" cy="179.18" r="0.50" fill="#9fd08a"/>
<circle cx="350.01" cy="192.98" r="0.50" fill="#9fd08a"/>
<circle cx="339.09" cy="213.17" r="0.50" fill="#9fd08a"/>
<circle cx="335.72" cy="212.56" r="0.50" fill="#9fd08a"/>
<circle cx="342.98" cy="200.40" r="0.50" fill="#9fd08a"/>
<circle cx="348.94" cy="189.58" r="0.50" fill="#9fd08a"/>
<circle cx="341.72" cy="200.49" r="0.50" fill="#9fd08a"/>
<circle cx="351.63" cy="187.00" r="0.50" fill="#9fd08a"/>
<circle cx="344.02" cy="204.38" r="0.50" fill="#9fd08a"/>
<circle cx="346.17" cy="193.73" r="0.50" fill="#9fd08a"/>
<circle cx="354.05" cy="184.12" r="0.50" fill="#9fd08a"/>
<circle cx="349.31" cy="187.17" r="0.50" fill="#9fd08a"/>
<circle cx="346.74" cy="195.57" r="0.50" fill="#9fd08a"/>
<circle cx="350.58" cy="191.79" r="0.50" fill="#9fd08a"/>
<circle cx="344.25" cy="197.27" r="0.50" fill="#9fd08a"/>
<circle cx="349.09" cy="190.93" r="0.50" fill="#9fd08a"/>
<circle cx="338.99" cy="204.14" r="0.50" fill="#9fd08a"/>
<circle cx="339.10" cy="202.77" r="0.50" fill="#9fd08a"/>
<circle cx="340.30" cy="205.92" r="0.50" fill="#9fd08a"/>
<circle cx="342.40" cy="202.33" r="0.50" fill="#9fd08a"/>
<circle cx="336.71" cy="208.43" r="0.50" fill="#9fd08a"/>
<circle cx="334.37" cy="209.78" r="0.50" fill="#9fd08a"/>
<circle cx="347.61" cy="194.96" r="0.50" fill="#9fd08a"/>
<circle cx="348.75" cy="191.74" r="0.50" fill="#9fd08a"/>
<circle cx="353.60" cy="184.21" r="0.50" fill="#9fd08a"/>
<circle cx="347.69" cy="190.26" r="0.50" fill="#9fd08a"/>
<circle cx="341.43" cy="203.65" r="0.50" fill="#9fd08a"/>
<circle cx="339.81" cy="205.89" r="0.50" fill="#9fd08a"/>
<circle cx="333.48" cy="214.59" r="0.50" fill="#9fd08a"/>
<circle cx="341.61" cy="200.39" r="0.50" fill="#9fd08a"/>
<circle cx="342.51" cy="202.55" r="0.50" fill="#9fd08a"/>
<circle cx="335.37" cy="214.63" r="0.50" fill="#9fd08a"/>
<circle cx="347.95" cy="189.10" r="0.50" fill="#9fd08a"/>
<circle cx="337.01" cy="210.83" r="0.50" fill="#9fd08a"/>
<circle cx="339.04" cy="206.27" r="0.50" fill="#9fd08a"/>
<circle cx="343.57" cy="201.28" r="0.50" fill="#9fd08a"/>
<circle cx="356.15" cy="182.98" r="0.50" fill="#9fd08a"/>
<circle cx="343.10" cy="201.20" r="0.50" fill="#9fd08a"/>
<circle cx="351.86" cy="185.53" r="0.50" fill="#9fd08a"/>
<circle cx="336.14" cy="213.63" r="0.50" fill="#9fd08a"/>
<circle cx="354.83" cy="187.56" r="0.50" fill="#9fd08a"/>
<circle cx="348.35" cy="188.50" r="0.50" fill="#9fd08a"/>
<circle cx="353.17" cy="181.93" r="0.50" fill="#9fd08a"/>
<circle cx="358.42" cy="179.01" r="0.50" fill="#9fd08a"/>
<circle cx="346.42" cy="193.86" r="0.50" fill="#9fd08a"/>
<circle cx="354.54" cy="183.51" r="0.50" fill="#9fd08a"/>
<circle cx="334.78" cy="210.37" r="0.50" fill="#9fd08a"/>
<circle cx="357.86" cy="181.12" r="0.50" fill="#9fd08a"/>
<circle cx="338.96" cy="202.58" r="0.50" fill="#9fd08a"/>
<circle cx="349.01" cy="190.00" r="0.50" fill="#9fd08a"/>
<circle cx="348.51" cy="192.45" r="0.50" fill="#9fd08a"/>
<circle cx="343.81" cy="195.64" r="0.50" fill="#9fd08a"/>
<circle cx="335.76" cy="215.81" r="0.50" fill="#9fd08a"/>
<circle cx="346.21" cy="196.31" r="0.50" fill="#9fd08a"/>
<circle cx="343.06" cy="202.00" r="0.50" fill="#9fd08a"/>
<circle cx="335.61" cy="212.31" r="0.50" fill="#9fd08a"/>
<circle cx="349.30" cy="190.99" r="0.50" fill="#9fd08a"/>
<circle cx="347.00" cy="195.73" r="0.50" fill="#9fd08a"/>
<circle cx="350.85" cy="187.90" r="0.50" fill="#9fd08a"/>
<circle cx="343.97" cy="196.59" r="0.50" fill="#9fd08a"/>
<circle cx="332.49" cy="215.37" r="0.50" fill="#9fd08a"/>
<circle cx="336.52" cy="205.81" r="0.50" fill="#9fd08a"/>
<circle cx="336.65" cy="215.93" r="0.50" fill="#9fd08a"/>
<circle cx="338.99" cy="201.51" r="0.50" fill="#9fd08a"/>
<circle cx="333.62" cy="218.55" r="0.50" fill="#9fd08a"/>
<circle cx="337.47" cy="211.25" r="0.50" fill="#9fd08a"/>
<circle cx="336.07" cy="213.66" r="0.50" fill="#9fd08a"/>
<circle cx="351.38" cy="191.78" r="0.50" fill="#9fd08a"/>
<circle cx="342.16" cy="199.53" r="0.50" fill="#9fd08a"/>
<circle cx="357.68" cy="180.06" r="0.50" fill="#9fd08a"/>
<circle cx="343.76" cy="198.14" r="0.50" fill="#9fd08a"/>
<circle cx="336.04" cy="209.61" r="0.50" fill="#9fd08a"/>
<circle cx="342.90" cy="204.05" r="0.50" fill="#9fd08a"/>
<circle cx="341.66" cy="200.27" r="0.50" fill="#9fd08a"/>
<circle cx="345.88" cy="195.38" r="0.50" fill="#9fd08a"/>
<circle cx="350.81" cy="193.05" r="0.50" fill="#9fd08a"/>
<circle cx="338.97" cy="212.68" r="0.50" fill="#9fd08a"/>
<circle cx="333.80" cy="219.74" r="0.50" fill="#9fd08a"/>
<circle cx="355.07" cy="191.50" r="0.50" fill="#9fd08a"/>
<circle cx="357.02" cy="187.28" r="0.50" fill="#9fd08a"/>
<circle cx="336.03" cy="215.67" r="0.50" fill="#9fd08a"/>
<circle cx="337.83" cy="211.53" r="0.50" fill="#9fd08a"/>
<circle cx="356.04" cy="183.36" r="0.50" fill="#9fd08a"/>
<circle cx="349.92" cy="195.06" r="0.50" fill="#9fd08a"/>
<circle cx="348.47" cy="197.70" r="0.50" fill="#9fd08a"/>
<circle cx="348.27" cy="201.32" r="0.50" fill="#9fd08a"/>
<circle cx="354.57" cy="184.49" r="0.50" fill="#9fd08a"/>
<circle cx="347.50" cy="217.30" r="0.50" fill="#9fd08a"/>
<circle cx="346.00" cy="209.50" r="0.50" fill="#9fd08a"/>
<circle cx="352.00" cy="203.00" r="0.50" fill="#9fd08a"/>
<circle cx="355.00" cy="196.00" r="0.50" fill="#9fd08a"/>
<circle cx="360.00" cy="186.00" r="0.50" fill="#9fd08a"/>
<circle cx="363.00" cy="177.50" r="0.50" fill="#9fd08a"/>
<circle cx="365.50" cy="175.00" r="0.50" fill="#9fd08a"/>
<circle cx="360.00" cy="180.00" r="0.50" fill="#9fd08a"/>
<circle cx="296.90" cy="265.30" r="1.30" fill="#9c9c9c"/>
<text x="301.80" y="267.30" font-size="5.9" textLength="15.40" lengthAdjust="spacingAndGlyphs">Stable</text>
<circle cx="296.90" cy="271.70" r="1.30" fill="#7b3a92"/>
<text x="301.80" y="273.70" font-size="5.9" textLength="24.90" lengthAdjust="spacingAndGlyphs">Expanded</text>
<circle cx="296.90" cy="277.90" r="1.30" fill="#3d0b6b"/>
<text x="301.80" y="279.90" font-size="5.9" textLength="14.20" lengthAdjust="spacingAndGlyphs">Novel</text>
<circle cx="334.10" cy="267.50" r="1.30" fill="#9fd08a"/>
<text x="339.00" y="269.50" font-size="5.9" textLength="27.70" lengthAdjust="spacingAndGlyphs">Contracted</text>
<circle cx="334.10" cy="276.00" r="1.30" fill="#1f6b3a"/>
<text x="339.00" y="278.00" font-size="5.9" textLength="31.50" lengthAdjust="spacingAndGlyphs">Disappeared</text>
<text x="381.00" y="151.80" font-size="11.5" fill="#000" font-weight="bold">E</text>
<line x1="413.40" y1="158.00" x2="413.40" y2="236.80" stroke="#1a1a1a" stroke-width="1.0"/>
<line x1="412.90" y1="236.30" x2="436.00" y2="236.30" stroke="#1a1a1a" stroke-width="1.0"/>
<line x1="410.40" y1="232.30" x2="413.40" y2="232.30" stroke="#1a1a1a" stroke-width="0.8"/>
<text x="407.90" y="234.70" font-size="6.6" text-anchor="end">0</text>
<line x1="410.40" y1="209.80" x2="413.40" y2="209.80" stroke="#1a1a1a" stroke-width="0.8"/>
<text x="407.90" y="212.20" font-size="6.6" text-anchor="end">20</text>
<line x1="410.40" y1="187.30" x2="413.40" y2="187.30" stroke="#1a1a1a" stroke-width="0.8"/>
<text x="407.90" y="189.70" font-size="6.6" text-anchor="end">40</text>
<line x1="410.40" y1="164.80" x2="413.40" y2="164.80" stroke="#1a1a1a" stroke-width="0.8"/>
<text x="407.90" y="167.20" font-size="6.6" text-anchor="end">60</text>
<line x1="420.40" y1="236.30" x2="420.40" y2="239.00" stroke="#1a1a1a" stroke-width="0.8"/>
<line x1="431.20" y1="236.30" x2="431.20" y2="239.00" stroke="#1a1a1a" stroke-width="0.8"/>
<text x="0" y="0" font-size="7.2" text-anchor="end" textLength="19.10" lengthAdjust="spacingAndGlyphs" transform="translate(423.50 245.30) rotate(-45)">Pre-ipi</text>
<text x="0" y="0" font-size="7.2" text-anchor="end" textLength="22.00" lengthAdjust="spacingAndGlyphs" transform="translate(434.30 245.30) rotate(-45)">Post-ipi</text>
<text x="0" y="0" font-size="8.8" text-anchor="middle" textLength="70.80" lengthAdjust="spacingAndGlyphs" transform="translate(394.60 197.90) rotate(-90)">% CDR3 detected in PB</text>
<path d="M420.40 159.90 V158.30 H432.90 V159.90" stroke="#1a1a1a" stroke-width="0.7" fill="none"/>
<text x="426.60" y="156.00" font-size="5.6" text-anchor="middle">0.0014</text>
<line x1="420.40" y1="195.18" x2="431.20" y2="168.18" stroke="#c4c4c4" stroke-width="0.5"/>
<line x1="420.40" y1="196.30" x2="431.20" y2="164.80" stroke="#c4c4c4" stroke-width="0.5"/>
<line x1="420.40" y1="205.30" x2="431.20" y2="192.93" stroke="#c4c4c4" stroke-width="0.5"/>
<line x1="420.40" y1="212.05" x2="431.20" y2="199.68" stroke="#c4c4c4" stroke-width="0.5"/>
<line x1="420.40" y1="221.05" x2="431.20" y2="190.68" stroke="#c4c4c4" stroke-width="0.5"/>
<line x1="420.40" y1="224.43" x2="431.20" y2="201.93" stroke="#c4c4c4" stroke-width="0.5"/>
<line x1="420.40" y1="226.11" x2="431.20" y2="217.68" stroke="#c4c4c4" stroke-width="0.5"/>
<line x1="420.40" y1="227.24" x2="431.20" y2="204.18" stroke="#c4c4c4" stroke-width="0.5"/>
<line x1="420.40" y1="232.30" x2="431.20" y2="207.55" stroke="#c4c4c4" stroke-width="0.5"/>
<line x1="420.40" y1="224.43" x2="431.20" y2="221.05" stroke="#c4c4c4" stroke-width="0.5"/>
<line x1="420.40" y1="221.05" x2="431.20" y2="203.05" stroke="#c4c4c4" stroke-width="0.5"/>
<line x1="420.40" y1="226.11" x2="431.20" y2="219.93" stroke="#c4c4c4" stroke-width="0.5"/>
<circle cx="420.40" cy="195.18" r="1.45" fill="#b3182e"/>
<circle cx="420.40" cy="196.30" r="1.45" fill="#b3182e"/>
<circle cx="420.40" cy="205.30" r="1.45" fill="#1d3f82"/>
<circle cx="420.40" cy="212.05" r="1.45" fill="#b3182e"/>
<circle cx="420.40" cy="221.05" r="1.45" fill="#1d3f82"/>
<circle cx="420.40" cy="224.43" r="1.45" fill="#b3182e"/>
<circle cx="420.40" cy="226.11" r="1.45" fill="#1d3f82"/>
<circle cx="420.40" cy="227.24" r="1.45" fill="#b3182e"/>
<circle cx="420.40" cy="232.30" r="1.45" fill="#1d3f82"/>
<circle cx="431.20" cy="164.80" r="1.45" fill="#b3182e"/>
<circle cx="431.20" cy="168.18" r="1.45" fill="#b3182e"/>
<circle cx="431.20" cy="190.68" r="1.45" fill="#1d3f82"/>
<circle cx="431.20" cy="192.93" r="1.45" fill="#1d3f82"/>
<circle cx="431.20" cy="199.68" r="1.45" fill="#1d3f82"/>
<circle cx="431.20" cy="201.93" r="1.45" fill="#b3182e"/>
<circle cx="431.20" cy="203.05" r="1.45" fill="#b3182e"/>
<circle cx="431.20" cy="204.18" r="1.45" fill="#b3182e"/>
<circle cx="431.20" cy="207.55" r="1.45" fill="#1d3f82"/>
<circle cx="431.20" cy="217.68" r="1.45" fill="#1d3f82"/>
<circle cx="431.20" cy="219.93" r="1.45" fill="#b3182e"/>
<circle cx="431.20" cy="221.05" r="1.45" fill="#b3182e"/>
<line x1="417.30" y1="223.86" x2="423.50" y2="223.86" stroke="#000" stroke-width="1.1"/>
<line x1="428.00" y1="195.18" x2="434.50" y2="195.18" stroke="#000" stroke-width="1.1"/>
<circle cx="415.20" cy="268.30" r="1.50" fill="#b3182e"/>
<text x="420.00" y="270.40" font-size="5.6">NR</text>
<circle cx="415.20" cy="276.80" r="1.50" fill="#1d3f82"/>
<text x="420.00" y="278.80" font-size="5.6" textLength="15.40" lengthAdjust="spacingAndGlyphs">CR/TR</text>
<text x="443.40" y="151.90" font-size="11.5" fill="#000" font-weight="bold">F</text>
<line x1="481.20" y1="178.30" x2="481.20" y2="237.00" stroke="#1a1a1a" stroke-width="1.0"/>
<line x1="480.70" y1="236.50" x2="513.10" y2="236.50" stroke="#1a1a1a" stroke-width="1.0"/>
<line x1="478.20" y1="233.50" x2="481.20" y2="233.50" stroke="#1a1a1a" stroke-width="0.8"/>
<text x="475.60" y="235.90" font-size="6.6" text-anchor="end">0</text>
<line x1="478.20" y1="215.90" x2="481.20" y2="215.90" stroke="#1a1a1a" stroke-width="0.8"/>
<text x="475.60" y="218.30" font-size="6.6" text-anchor="end">50</text>
<line x1="478.20" y1="198.30" x2="481.20" y2="198.30" stroke="#1a1a1a" stroke-width="0.8"/>
<text x="475.60" y="200.70" font-size="6.6" text-anchor="end">100</text>
<line x1="478.20" y1="180.70" x2="481.20" y2="180.70" stroke="#1a1a1a" stroke-width="0.8"/>
<text x="475.60" y="183.10" font-size="6.6" text-anchor="end">150</text>
<line x1="487.80" y1="236.50" x2="487.80" y2="239.00" stroke="#1a1a1a" stroke-width="0.8"/>
<line x1="502.70" y1="236.50" x2="502.70" y2="239.00" stroke="#1a1a1a" stroke-width="0.8"/>
<circle cx="487.59" cy="223.64" r="1.20" fill="#b3182e"/>
<circle cx="487.38" cy="226.81" r="1.20" fill="#b3182e"/>
<circle cx="487.98" cy="229.28" r="1.20" fill="#b3182e"/>
<circle cx="487.29" cy="229.98" r="1.20" fill="#b3182e"/>
<circle cx="487.84" cy="231.04" r="1.20" fill="#b3182e"/>
<circle cx="487.64" cy="231.74" r="1.20" fill="#b3182e"/>
<circle cx="487.27" cy="232.44" r="1.20" fill="#b3182e"/>
<circle cx="487.81" cy="232.80" r="1.20" fill="#b3182e"/>
<circle cx="502.14" cy="183.16" r="1.20" fill="#1d3f82"/>
<circle cx="502.62" cy="205.34" r="1.20" fill="#1d3f82"/>
<circle cx="502.18" cy="208.86" r="1.20" fill="#1d3f82"/>
<circle cx="502.21" cy="215.90" r="1.20" fill="#1d3f82"/>
<circle cx="502.61" cy="219.42" r="1.20" fill="#1d3f82"/>
<circle cx="503.09" cy="222.94" r="1.20" fill="#1d3f82"/>
<circle cx="502.25" cy="224.70" r="1.20" fill="#1d3f82"/>
<circle cx="502.37" cy="226.46" r="1.20" fill="#1d3f82"/>
<circle cx="502.85" cy="227.16" r="1.20" fill="#1d3f82"/>
<circle cx="503.24" cy="228.22" r="1.20" fill="#1d3f82"/>
<circle cx="502.79" cy="229.28" r="1.20" fill="#1d3f82"/>
<circle cx="502.58" cy="229.98" r="1.20" fill="#1d3f82"/>
<circle cx="503.27" cy="231.04" r="1.20" fill="#1d3f82"/>
<circle cx="502.16" cy="231.74" r="1.20" fill="#1d3f82"/>
<circle cx="503.13" cy="232.44" r="1.20" fill="#1d3f82"/>
<line x1="484.00" y1="231.39" x2="491.50" y2="231.39" stroke="#000" stroke-width="1.2"/>
<line x1="499.00" y1="225.76" x2="507.00" y2="225.76" stroke="#000" stroke-width="1.2"/>
<path d="M487.80 179.90 V178.30 H502.70 V179.90" stroke="#1a1a1a" stroke-width="0.7" fill="none"/>
<text x="495.20" y="175.60" font-size="5.6" text-anchor="middle">0.0092</text>
<text x="486.50" y="247.80" font-size="6.4" text-anchor="middle">NR</text>
<text x="502.70" y="247.80" font-size="6.4" text-anchor="middle" textLength="19.30" lengthAdjust="spacingAndGlyphs">CR/TR</text>
<text x="480.30" y="256.00" font-size="6.4" text-anchor="end">n=</text>
<text x="487.80" y="256.00" font-size="6.4" text-anchor="middle">5</text>
<text x="502.70" y="256.00" font-size="6.4" text-anchor="middle">4</text>
<text x="0" y="0" font-size="8.2" text-anchor="middle" textLength="51.80" lengthAdjust="spacingAndGlyphs" transform="translate(458.30 205.10) rotate(-90)">Dynamic CDR3s</text>
<text x="201.30" y="297.40" font-size="11.5" fill="#000" font-weight="bold">G</text>
<rect x="236.90" y="327.50" width="110.40" height="9.20" fill="none" stroke="#222" stroke-width="0.7"/>
<line x1="243.50" y1="332.10" x2="248.30" y2="332.10" stroke="#000" stroke-width="0.9"/>
<path d="M240.2 332.1 L244.8 329.9 L244.8 334.3 Z" stroke="#000" stroke-width="0.2" fill="#000"/>
<text x="250.80" y="334.10" font-size="5.6">NR post-ipi</text>
<text x="333.50" y="334.10" font-size="5.6" text-anchor="end">CR/TR post-ipi</text>
<line x1="335.30" y1="332.10" x2="340.50" y2="332.10" stroke="#000" stroke-width="0.9"/>
<path d="M344.4 332.1 L339.8 329.9 L339.8 334.3 Z" stroke="#000" stroke-width="0.2" fill="#000"/>
<line x1="236.90" y1="341.50" x2="236.90" y2="469.20" stroke="#1a1a1a" stroke-width="1.0"/>
<line x1="236.40" y1="468.70" x2="347.30" y2="468.70" stroke="#1a1a1a" stroke-width="1.0"/>
<line x1="233.90" y1="463.50" x2="236.90" y2="463.50" stroke="#1a1a1a" stroke-width="0.8"/>
<text x="232.20" y="465.80" font-size="6.5" text-anchor="end">0</text>
<line x1="233.90" y1="439.55" x2="236.90" y2="439.55" stroke="#1a1a1a" stroke-width="0.8"/>
<text x="232.20" y="441.85" font-size="6.5" text-anchor="end">1</text>
<line x1="233.90" y1="415.60" x2="236.90" y2="415.60" stroke="#1a1a1a" stroke-width="0.8"/>
<text x="232.20" y="417.90" font-size="6.5" text-anchor="end">2</text>
<line x1="233.90" y1="391.65" x2="236.90" y2="391.65" stroke="#1a1a1a" stroke-width="0.8"/>
<text x="232.20" y="393.95" font-size="6.5" text-anchor="end">3</text>
<line x1="233.90" y1="367.70" x2="236.90" y2="367.70" stroke="#1a1a1a" stroke-width="0.8"/>
<text x="232.20" y="370.00" font-size="6.5" text-anchor="end">4</text>
<line x1="233.90" y1="343.75" x2="236.90" y2="343.75" stroke="#1a1a1a" stroke-width="0.8"/>
<text x="232.20" y="346.05" font-size="6.5" text-anchor="end">5</text>
<line x1="242.20" y1="468.70" x2="242.20" y2="471.50" stroke="#1a1a1a" stroke-width="0.8"/>
<text x="242.20" y="481.30" font-size="6.5" text-anchor="middle">&#8211;2</text>
<line x1="271.90" y1="468.70" x2="271.90" y2="471.50" stroke="#1a1a1a" stroke-width="0.8"/>
<text x="271.90" y="481.30" font-size="6.5" text-anchor="middle">0</text>
<line x1="301.60" y1="468.70" x2="301.60" y2="471.50" stroke="#1a1a1a" stroke-width="0.8"/>
<text x="301.60" y="481.30" font-size="6.5" text-anchor="middle">2</text>
<line x1="331.30" y1="468.70" x2="331.30" y2="471.50" stroke="#1a1a1a" stroke-width="0.8"/>
<text x="331.30" y="481.30" font-size="6.5" text-anchor="middle">4</text>
<text x="292.80" y="492.60" font-size="9.0" text-anchor="middle" textLength="55.00" lengthAdjust="spacingAndGlyphs">log<tspan dy="2" font-size="5.5">2</tspan><tspan dy="-2"> (fold change)</tspan></text>
<text x="0" y="0" font-size="8.2" text-anchor="middle" textLength="73.00" lengthAdjust="spacingAndGlyphs" transform="translate(220.60 404.50) rotate(-90)">-log<tspan dy="1.8" font-size="5">10</tspan><tspan dy="-1.8"> (adjusted p-value)</tspan></text>
<line x1="257.05" y1="341.50" x2="257.05" y2="468.70" stroke="#222" stroke-width="0.8" stroke-dasharray="2.5,1.8"/>
<line x1="286.75" y1="341.50" x2="286.75" y2="468.70" stroke="#222" stroke-width="0.8" stroke-dasharray="2.5,1.8"/>
<line x1="236.90" y1="432.30" x2="347.30" y2="432.30" stroke="#222" stroke-width="0.8" stroke-dasharray="2.5,1.8"/>
<circle cx="265.20" cy="436.30" r="1.30" fill="#c2c2c2"/>
<circle cx="253.10" cy="450.30" r="1.30" fill="#c2c2c2"/>
<circle cx="261.20" cy="452.50" r="1.30" fill="#c2c2c2"/>
<circle cx="263.90" cy="449.30" r="1.30" fill="#c2c2c2"/>
<circle cx="267.90" cy="453.90" r="1.30" fill="#c2c2c2"/>
<circle cx="267.40" cy="456.00" r="1.30" fill="#c2c2c2"/>
<circle cx="270.60" cy="456.50" r="1.30" fill="#c2c2c2"/>
<circle cx="273.30" cy="455.20" r="1.30" fill="#c2c2c2"/>
<circle cx="276.00" cy="451.20" r="1.30" fill="#c2c2c2"/>
<circle cx="278.70" cy="449.80" r="1.30" fill="#c2c2c2"/>
<circle cx="280.50" cy="450.60" r="1.30" fill="#c2c2c2"/>
<circle cx="280.00" cy="452.50" r="1.30" fill="#c2c2c2"/>
<circle cx="277.30" cy="453.90" r="1.30" fill="#c2c2c2"/>
<circle cx="274.60" cy="457.90" r="1.30" fill="#c2c2c2"/>
<circle cx="271.90" cy="459.20" r="1.30" fill="#c2c2c2"/>
<circle cx="270.60" cy="461.40" r="1.30" fill="#c2c2c2"/>
<circle cx="272.50" cy="461.40" r="1.30" fill="#c2c2c2"/>
<circle cx="274.60" cy="460.60" r="1.30" fill="#c2c2c2"/>
<circle cx="268.70" cy="460.60" r="1.30" fill="#c2c2c2"/>
<circle cx="276.80" cy="456.50" r="1.30" fill="#c2c2c2"/>
<circle cx="282.20" cy="453.90" r="1.30" fill="#c2c2c2"/>
<circle cx="280.50" cy="440.40" r="1.30" fill="#c2c2c2"/>
<circle cx="281.40" cy="439.00" r="1.30" fill="#c2c2c2"/>
<circle cx="282.70" cy="429.60" r="1.30" fill="#c2c2c2"/>
<circle cx="278.70" cy="411.30" r="1.30" fill="#c2c2c2"/>
<circle cx="282.20" cy="412.70" r="1.30" fill="#c2c2c2"/>
<circle cx="285.40" cy="426.90" r="1.30" fill="#c2c2c2"/>
<circle cx="286.70" cy="431.00" r="1.30" fill="#c2c2c2"/>
<circle cx="273.30" cy="462.50" r="1.30" fill="#c2c2c2"/>
<circle cx="276.00" cy="462.50" r="1.30" fill="#c2c2c2"/>
<circle cx="277.30" cy="460.60" r="1.30" fill="#c2c2c2"/>
<circle cx="279.20" cy="456.50" r="1.30" fill="#c2c2c2"/>
<circle cx="274.60" cy="453.90" r="1.30" fill="#c2c2c2"/>
<circle cx="271.40" cy="452.50" r="1.30" fill="#c2c2c2"/>
<circle cx="269.80" cy="458.70" r="1.30" fill="#c2c2c2"/>
<circle cx="248.20" cy="402.20" r="1.10" fill="#3d95e6"/>
<circle cx="249.60" cy="424.80" r="1.10" fill="#3d95e6"/>
<circle cx="249.60" cy="428.30" r="1.10" fill="#3d95e6"/>
<circle cx="301.50" cy="346.40" r="1.15" fill="#b45a12"/>
<circle cx="306.90" cy="346.40" r="1.15" fill="#b45a12"/>
<circle cx="308.80" cy="346.40" r="1.15" fill="#b45a12"/>
<circle cx="298.30" cy="375.70" r="1.15" fill="#b45a12"/>
<circle cx="311.00" cy="375.70" r="1.15" fill="#b45a12"/>
<circle cx="330.60" cy="375.70" r="1.15" fill="#b45a12"/>
<circle cx="316.90" cy="386.50" r="1.15" fill="#b45a12"/>
<circle cx="307.70" cy="394.00" r="1.15" fill="#b45a12"/>
<circle cx="298.90" cy="396.20" r="1.15" fill="#b45a12"/>
<circle cx="302.90" cy="403.20" r="1.15" fill="#b45a12"/>
<circle cx="291.30" cy="404.00" r="1.15" fill="#b45a12"/>
<circle cx="290.00" cy="406.20" r="1.15" fill="#b45a12"/>
<circle cx="297.50" cy="408.10" r="1.15" fill="#b45a12"/>
<circle cx="289.40" cy="410.70" r="1.15" fill="#b45a12"/>
<circle cx="309.60" cy="410.20" r="1.15" fill="#b45a12"/>
<circle cx="298.30" cy="414.00" r="1.15" fill="#b45a12"/>
<circle cx="288.90" cy="421.50" r="1.15" fill="#b45a12"/>
<circle cx="295.60" cy="426.10" r="1.15" fill="#b45a12"/>
<circle cx="290.80" cy="428.80" r="1.15" fill="#b45a12"/>
<circle cx="292.10" cy="429.40" r="1.15" fill="#b45a12"/>
<text x="296.50" y="373.60" font-size="5.8" text-anchor="middle" font-style="italic">CXCL10</text>
<text x="335.00" y="372.30" font-size="5.8" text-anchor="middle" font-style="italic">CXCL5</text>
<text x="297.00" y="395.20" font-size="5.8" text-anchor="middle" font-style="italic">CXCL9</text>
<text x="289.00" y="401.90" font-size="5.8" text-anchor="middle" font-style="italic">CXCL1</text>
<text x="313.30" y="403.30" font-size="5.8" text-anchor="middle" font-style="italic">CCL8</text>
<text x="321.50" y="412.90" font-size="5.8" text-anchor="middle" font-style="italic">CCL17</text>
<text x="282.00" y="421.80" font-size="5.8" text-anchor="middle" font-style="italic">CXCL13</text>
<text x="302.00" y="421.80" font-size="5.8" text-anchor="middle" font-style="italic">CXCL1</text>
<text x="280.50" y="428.00" font-size="5.8" text-anchor="middle" font-style="italic">CCL13</text>
<text x="301.50" y="434.30" font-size="5.8" text-anchor="middle" font-style="italic">CCL7</text>
<text x="353.70" y="297.10" font-size="11.5" fill="#000" font-weight="bold">H</text>
<rect x="363.00" y="355.10" width="10.58" height="6.12" fill="#6b9fd0"/>
<rect x="373.08" y="355.10" width="10.58" height="6.12" fill="#4a74b6"/>
<rect x="383.16" y="355.10" width="10.58" height="6.12" fill="#e0633a"/>
<rect x="393.24" y="355.10" width="10.08" height="6.12" fill="#d84a2a"/>
<rect x="363.00" y="360.72" width="10.58" height="6.12" fill="#6b9fd0"/>
<rect x="373.08" y="360.72" width="10.58" height="6.12" fill="#6b9fd0"/>
<rect x="383.16" y="360.72" width="10.58" height="6.12" fill="#f0b070"/>
<rect x="393.24" y="360.72" width="10.08" height="6.12" fill="#b52a2a"/>
<rect x="363.00" y="366.34" width="10.58" height="6.12" fill="#4a6fb0"/>
<rect x="373.08" y="366.34" width="10.58" height="6.12" fill="#8fc2e0"/>
<rect x="383.16" y="366.34" width="10.58" height="6.12" fill="#f0b070"/>
<rect x="393.24" y="366.34" width="10.08" height="6.12" fill="#b52a2a"/>
<rect x="363.00" y="371.96" width="10.58" height="6.12" fill="#4a6fb0"/>
<rect x="373.08" y="371.96" width="10.58" height="6.12" fill="#8fc2e0"/>
<rect x="383.16" y="371.96" width="10.58" height="6.12" fill="#f8e08a"/>
<rect x="393.24" y="371.96" width="10.08" height="6.12" fill="#9a222a"/>
<rect x="363.00" y="377.58" width="10.58" height="6.12" fill="#8fc4e0"/>
<rect x="373.08" y="377.58" width="10.58" height="6.12" fill="#6b9fd0"/>
<rect x="383.16" y="377.58" width="10.58" height="6.12" fill="#daeed8"/>
<rect x="393.24" y="377.58" width="10.08" height="6.12" fill="#9a222a"/>
<rect x="363.00" y="383.20" width="10.58" height="6.12" fill="#6b9fd0"/>
<rect x="373.08" y="383.20" width="10.58" height="6.12" fill="#b2dcf0"/>
<rect x="383.16" y="383.20" width="10.58" height="6.12" fill="#b2dcf0"/>
<rect x="393.24" y="383.20" width="10.08" height="6.12" fill="#9a1e2a"/>
<rect x="363.00" y="388.82" width="10.58" height="6.12" fill="#6b9fd0"/>
<rect x="373.08" y="388.82" width="10.58" height="6.12" fill="#4a70b0"/>
<rect x="383.16" y="388.82" width="10.58" height="6.12" fill="#f0a860"/>
<rect x="393.24" y="388.82" width="10.08" height="6.12" fill="#ba2828"/>
<rect x="363.00" y="394.44" width="10.58" height="6.12" fill="#4a6fb0"/>
<rect x="373.08" y="394.44" width="10.58" height="6.12" fill="#6b9fd0"/>
<rect x="383.16" y="394.44" width="10.58" height="6.12" fill="#e06a3a"/>
<rect x="393.24" y="394.44" width="10.08" height="6.12" fill="#d85030"/>
<rect x="363.00" y="400.06" width="10.58" height="6.12" fill="#6b9fd0"/>
<rect x="373.08" y="400.06" width="10.58" height="6.12" fill="#8ac0e0"/>
<rect x="383.16" y="400.06" width="10.58" height="6.12" fill="#f8f0a0"/>
<rect x="393.24" y="400.06" width="10.08" height="6.12" fill="#9a222a"/>
<rect x="363.00" y="405.68" width="10.58" height="6.12" fill="#6b9fd0"/>
<rect x="373.08" y="405.68" width="10.58" height="6.12" fill="#d8ecd0"/>
<rect x="383.16" y="405.68" width="10.58" height="6.12" fill="#aad8f0"/>
<rect x="393.24" y="405.68" width="10.08" height="6.12" fill="#9a222a"/>
<rect x="363.00" y="411.30" width="10.58" height="6.12" fill="#4a6fb0"/>
<rect x="373.08" y="411.30" width="10.58" height="6.12" fill="#6b9fd0"/>
<rect x="383.16" y="411.30" width="10.58" height="6.12" fill="#e88a50"/>
<rect x="393.24" y="411.30" width="10.08" height="6.12" fill="#c02828"/>
<rect x="363.00" y="416.92" width="10.58" height="6.12" fill="#8ac0e0"/>
<rect x="373.08" y="416.92" width="10.58" height="6.12" fill="#8ac0e0"/>
<rect x="383.16" y="416.92" width="10.58" height="6.12" fill="#d8ecd8"/>
<rect x="393.24" y="416.92" width="10.08" height="6.12" fill="#a02028"/>
<rect x="363.00" y="422.54" width="10.58" height="6.12" fill="#6b9fd0"/>
<rect x="373.08" y="422.54" width="10.58" height="6.12" fill="#6b9fd0"/>
<rect x="383.16" y="422.54" width="10.58" height="6.12" fill="#f0b070"/>
<rect x="393.24" y="422.54" width="10.08" height="6.12" fill="#c02828"/>
<rect x="363.00" y="428.16" width="10.58" height="6.12" fill="#4a6fb0"/>
<rect x="373.08" y="428.16" width="10.58" height="6.12" fill="#8ac0e0"/>
<rect x="383.16" y="428.16" width="10.58" height="6.12" fill="#e88a50"/>
<rect x="393.24" y="428.16" width="10.08" height="6.12" fill="#d84a2a"/>
<rect x="363.00" y="433.78" width="10.58" height="6.12" fill="#8ac0e0"/>
<rect x="373.08" y="433.78" width="10.58" height="6.12" fill="#3040a0"/>
<rect x="383.16" y="433.78" width="10.58" height="6.12" fill="#e06a3a"/>
<rect x="393.24" y="433.78" width="10.08" height="6.12" fill="#d84a2a"/>
<rect x="363.00" y="439.40" width="10.58" height="6.12" fill="#6b9fd0"/>
<rect x="373.08" y="439.40" width="10.58" height="6.12" fill="#6b9fd0"/>
<rect x="383.16" y="439.40" width="10.58" height="6.12" fill="#f8e890"/>
<rect x="393.24" y="439.40" width="10.08" height="6.12" fill="#a02028"/>
<rect x="363.00" y="445.02" width="10.58" height="6.12" fill="#6b9fd0"/>
<rect x="373.08" y="445.02" width="10.58" height="6.12" fill="#6b9fd0"/>
<rect x="383.16" y="445.02" width="10.58" height="6.12" fill="#e89050"/>
<rect x="393.24" y="445.02" width="10.08" height="6.12" fill="#d84a2a"/>
<rect x="363.00" y="450.64" width="10.58" height="6.12" fill="#6b9fd0"/>
<rect x="373.08" y="450.64" width="10.58" height="6.12" fill="#5a80c0"/>
<rect x="383.16" y="450.64" width="10.58" height="6.12" fill="#e89050"/>
<rect x="393.24" y="450.64" width="10.08" height="6.12" fill="#c02828"/>
<rect x="363.00" y="456.26" width="10.58" height="6.12" fill="#6b9fd0"/>
<rect x="373.08" y="456.26" width="10.58" height="6.12" fill="#6b9fd0"/>
<rect x="383.16" y="456.26" width="10.58" height="6.12" fill="#f0b868"/>
<rect x="393.24" y="456.26" width="10.08" height="6.12" fill="#c02828"/>
<rect x="363.00" y="461.88" width="10.58" height="5.62" fill="#6b9fd0"/>
<rect x="373.08" y="461.88" width="10.58" height="5.62" fill="#5a80c0"/>
<rect x="383.16" y="461.88" width="10.58" height="5.62" fill="#e06a3a"/>
<rect x="393.24" y="461.88" width="10.08" height="5.62" fill="#d84a2a"/>
<text x="405.50" y="359.91" font-size="5.6">CCL17</text>
<text x="405.50" y="365.53" font-size="5.6">CD40-L</text>
<text x="405.50" y="371.15" font-size="5.6">CXCL9</text>
<text x="405.50" y="376.77" font-size="5.6">CXCL10</text>
<text x="405.50" y="382.39" font-size="5.6">CXCL11</text>
<text x="405.50" y="388.01" font-size="5.6">GZMB</text>
<text x="405.50" y="393.63" font-size="5.6">IL7</text>
<text x="405.50" y="399.25" font-size="5.6">IL12</text>
<text x="405.50" y="404.87" font-size="5.6">TNFSF14</text>
<text x="405.50" y="410.49" font-size="5.6">CXCL13</text>
<text x="405.50" y="416.11" font-size="5.6">CXCL1</text>
<text x="405.50" y="421.73" font-size="5.6">CCL7</text>
<text x="405.50" y="427.35" font-size="5.6">CCL8</text>
<text x="405.50" y="432.97" font-size="5.6">CCL13</text>
<text x="405.50" y="438.59" font-size="5.6">CXCL5</text>
<text x="405.50" y="444.21" font-size="5.6">CASP-8</text>
<text x="405.50" y="449.83" font-size="5.6">ANGPT1</text>
<text x="405.50" y="455.45" font-size="5.6">EGF</text>
<text x="405.50" y="461.07" font-size="5.6">FGF2</text>
<text x="405.50" y="465.69" font-size="5.6">PDGF</text>
<text x="405.50" y="470.90" font-size="5.6">subunit B</text>
<rect x="363.00" y="334.30" width="10.08" height="5.90" fill="#d7262a" stroke="#222" stroke-width="0.6"/>
<rect x="373.08" y="334.30" width="10.08" height="5.90" fill="#d7262a" stroke="#222" stroke-width="0.6"/>
<rect x="383.16" y="334.30" width="10.08" height="5.90" fill="#3a45a0" stroke="#222" stroke-width="0.6"/>
<rect x="393.24" y="334.30" width="10.08" height="5.90" fill="#3a45a0" stroke="#222" stroke-width="0.6"/>
<rect x="363.00" y="344.60" width="10.08" height="6.30" fill="#fff" stroke="#222" stroke-width="0.6"/>
<rect x="373.08" y="344.60" width="10.08" height="6.30" fill="#000" stroke="#222" stroke-width="0.6"/>
<rect x="383.16" y="344.60" width="10.08" height="6.30" fill="#fff" stroke="#222" stroke-width="0.6"/>
<rect x="393.24" y="344.60" width="10.08" height="6.30" fill="#000" stroke="#222" stroke-width="0.6"/>
<path d="M368.04 332.8 V330.8 H378.12 V332.8" stroke="#222" stroke-width="0.6" fill="none"/>
<path d="M388.20 332.8 V328.0 H398.28 V332.8" stroke="#222" stroke-width="0.6" fill="none"/>
<path d="M373.08 330.8 V325.1 H393.24 V328.0" stroke="#222" stroke-width="0.6" fill="none"/>
<rect x="409.90" y="330.00" width="9.50" height="3.60" fill="#d7262a" stroke="#222" stroke-width="0.6"/>
<text x="421.00" y="333.80" font-size="6.0">NR</text>
<rect x="409.90" y="335.40" width="9.50" height="3.60" fill="#3a45a0" stroke="#222" stroke-width="0.6"/>
<text x="421.00" y="339.20" font-size="6.0">CR/TR</text>
<rect x="409.90" y="343.50" width="9.50" height="3.20" fill="#fff" stroke="#222" stroke-width="0.6"/>
<text x="421.00" y="347.10" font-size="6.0">Pre</text>
<rect x="409.90" y="348.70" width="9.50" height="3.60" fill="#000" stroke="#222" stroke-width="0.6"/>
<text x="421.00" y="352.60" font-size="6.0">Post</text>
<path d="M428.70 355.50 H430.00 V388.42 H428.70 M430.00 371.96 H431.30" stroke="#222" stroke-width="0.55" fill="none"/>
<text x="434.60" y="367.36" font-size="5.9">T cell activation/</text>
<text x="434.60" y="373.96" font-size="5.9">infiltration/</text>
<text x="434.60" y="380.56" font-size="5.9">effector function</text>
<path d="M428.70 389.22 H430.00 V405.28 H428.70 M430.00 397.25 H431.30" stroke="#222" stroke-width="0.55" fill="none"/>
<text x="434.60" y="398.25" font-size="5.9">T cell proliferation</text>
<path d="M428.70 406.08 H430.00 V410.90 H428.70 M430.00 408.49 H431.30" stroke="#222" stroke-width="0.55" fill="none"/>
<text x="434.60" y="409.59" font-size="5.9">B cell germ. ctr. activity</text>
<path d="M428.70 411.70 H430.00 V433.38 H428.70 M430.00 422.54 H431.30" stroke="#222" stroke-width="0.55" fill="none"/>
<text x="434.60" y="420.84" font-size="5.9">Inflammatory</text>
<text x="434.60" y="427.44" font-size="5.9">monocytes</text>
<path d="M428.70 434.18 H430.00 V439.00 H428.70 M430.00 436.59 H431.30" stroke="#222" stroke-width="0.55" fill="none"/>
<text x="434.60" y="436.19" font-size="5.9">Neutrophil activation</text>
<path d="M428.70 439.80 H430.00 V444.62 H428.70 M430.00 442.21 H431.30" stroke="#222" stroke-width="0.55" fill="none"/>
<text x="434.60" y="443.61" font-size="5.9">Tissue apoptosis</text>
<path d="M428.70 445.42 H430.00 V469.00 H428.70 M430.00 457.21 H431.30" stroke="#222" stroke-width="0.55" fill="none"/>
<text x="434.60" y="452.61" font-size="5.9">Angiogenic/</text>
<text x="434.60" y="459.21" font-size="5.9">Vascular growth</text>
<text x="434.60" y="465.81" font-size="5.9">factors</text>
<text x="364.60" y="475.70" font-size="6.6" textLength="37.20" lengthAdjust="spacingAndGlyphs">Row Z-Score</text>
<rect x="368.20" y="477.60" width="2.66" height="4.80" fill="#26236e"/>
<rect x="370.76" y="477.60" width="2.66" height="4.80" fill="#2f3f94"/>
<rect x="373.32" y="477.60" width="2.66" height="4.80" fill="#3f63b0"/>
<rect x="375.88" y="477.60" width="2.66" height="4.80" fill="#6a95c8"/>
<rect x="378.43" y="477.60" width="2.66" height="4.80" fill="#a4cde4"/>
<rect x="380.99" y="477.60" width="2.66" height="4.80" fill="#dcecd8"/>
<rect x="383.55" y="477.60" width="2.66" height="4.80" fill="#f8e898"/>
<rect x="386.11" y="477.60" width="2.66" height="4.80" fill="#f6c070"/>
<rect x="388.67" y="477.60" width="2.66" height="4.80" fill="#ee9050"/>
<rect x="391.22" y="477.60" width="2.66" height="4.80" fill="#e06038"/>
<rect x="393.78" y="477.60" width="2.66" height="4.80" fill="#c83030"/>
<rect x="396.34" y="477.60" width="2.66" height="4.80" fill="#a01c2c"/>
<line x1="373.00" y1="482.40" x2="373.00" y2="483.60" stroke="#444" stroke-width="0.5"/>
<line x1="378.20" y1="482.40" x2="378.20" y2="483.60" stroke="#444" stroke-width="0.5"/>
<line x1="383.30" y1="482.40" x2="383.30" y2="483.60" stroke="#444" stroke-width="0.5"/>
<line x1="388.40" y1="482.40" x2="388.40" y2="483.60" stroke="#444" stroke-width="0.5"/>
<line x1="393.40" y1="482.40" x2="393.40" y2="483.60" stroke="#444" stroke-width="0.5"/>
<text x="373.00" y="491.60" font-size="6.8" text-anchor="middle">-1</text>
<text x="383.40" y="491.60" font-size="6.8" text-anchor="middle">0</text>
<text x="393.30" y="491.60" font-size="6.8" text-anchor="middle">1</text>
<rect x="0.5" y="0.5" width="519" height="502" fill="none" stroke="#000" stroke-width="1.2"/>
</svg>
</body></html>
